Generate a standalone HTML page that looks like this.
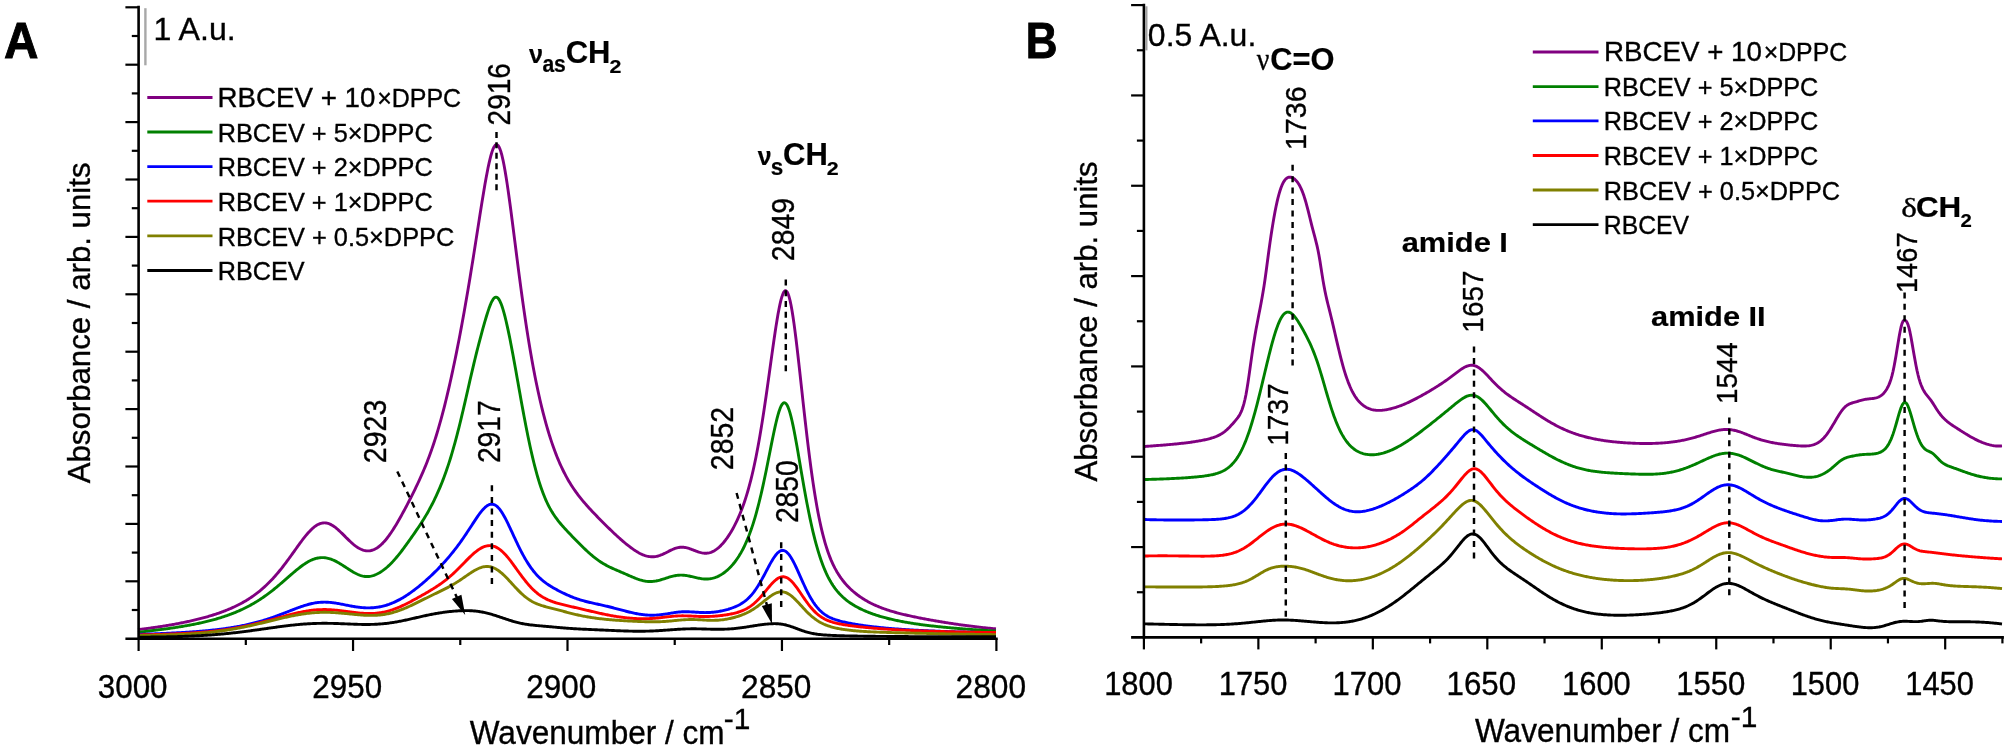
<!DOCTYPE html>
<html><head><meta charset="utf-8"><title>FTIR spectra</title>
<style>html,body{margin:0;padding:0;background:#fff}svg{display:block}text{white-space:pre}</style></head>
<body><svg width="2008" height="750" viewBox="0 0 2008 750">
<defs><filter id="soft" x="0" y="0" width="2008" height="750" filterUnits="userSpaceOnUse"><feGaussianBlur stdDeviation="0.42"/></filter></defs>
<rect width="2008" height="750" fill="#fff"/>
<g filter="url(#soft)">
<polyline points="138.0,629.59 139.0,629.47 140.0,629.35 141.0,629.23 142.0,629.11 143.0,628.99 144.0,628.86 145.0,628.73 146.0,628.61 147.0,628.48 148.0,628.34 149.0,628.21 150.0,628.08 151.0,627.94 152.0,627.80 153.0,627.66 154.0,627.52 155.0,627.38 156.0,627.23 157.0,627.08 158.0,626.94 159.0,626.79 160.0,626.63 161.0,626.48 162.0,626.33 163.0,626.17 164.0,626.01 165.0,625.85 166.0,625.68 167.0,625.52 168.0,625.35 169.0,625.18 170.0,625.01 171.0,624.84 172.0,624.66 173.0,624.49 174.0,624.31 175.0,624.12 176.0,623.94 177.0,623.75 178.0,623.56 179.0,623.37 180.0,623.18 181.0,622.98 182.0,622.78 183.0,622.58 184.0,622.38 185.0,622.17 186.0,621.96 187.0,621.75 188.0,621.53 189.0,621.32 190.0,621.09 191.0,620.87 192.0,620.64 193.0,620.41 194.0,620.18 195.0,619.94 196.0,619.70 197.0,619.46 198.0,619.21 199.0,618.96 200.0,618.70 201.0,618.44 202.0,618.18 203.0,617.91 204.0,617.64 205.0,617.37 206.0,617.09 207.0,616.81 208.0,616.52 209.0,616.22 210.0,615.93 211.0,615.62 212.0,615.32 213.0,615.00 214.0,614.69 215.0,614.36 216.0,614.03 217.0,613.70 218.0,613.36 219.0,613.01 220.0,612.66 221.0,612.30 222.0,611.93 223.0,611.56 224.0,611.18 225.0,610.80 226.0,610.40 227.0,610.00 228.0,609.59 229.0,609.18 230.0,608.75 231.0,608.32 232.0,607.88 233.0,607.43 234.0,606.97 235.0,606.50 236.0,606.02 237.0,605.53 238.0,605.04 239.0,604.53 240.0,604.01 241.0,603.47 242.0,602.93 243.0,602.38 244.0,601.81 245.0,601.23 246.0,600.64 247.0,600.03 248.0,599.41 249.0,598.78 250.0,598.13 251.0,597.47 252.0,596.79 253.0,596.09 254.0,595.38 255.0,594.66 256.0,593.91 257.0,593.15 258.0,592.38 259.0,591.58 260.0,590.77 261.0,589.94 262.0,589.08 263.0,588.21 264.0,587.33 265.0,586.42 266.0,585.49 267.0,584.54 268.0,583.57 269.0,582.58 270.0,581.56 271.0,580.53 272.0,579.48 273.0,578.40 274.0,577.31 275.0,576.19 276.0,575.05 277.0,573.89 278.0,572.71 279.0,571.51 280.0,570.29 281.0,569.05 282.0,567.79 283.0,566.51 284.0,565.22 285.0,563.90 286.0,562.57 287.0,561.23 288.0,559.88 289.0,558.51 290.0,557.13 291.0,555.74 292.0,554.34 293.0,552.94 294.0,551.54 295.0,550.13 296.0,548.73 297.0,547.33 298.0,545.94 299.0,544.56 300.0,543.19 301.0,541.83 302.0,540.50 303.0,539.18 304.0,537.89 305.0,536.64 306.0,535.41 307.0,534.22 308.0,533.07 309.0,531.96 310.0,530.90 311.0,529.89 312.0,528.94 313.0,528.04 314.0,527.20 315.0,526.43 316.0,525.73 317.0,525.10 318.0,524.55 319.0,524.07 320.0,523.67 321.0,523.35 322.0,523.11 323.0,522.95 324.0,522.88 325.0,522.89 326.0,522.98 327.0,523.15 328.0,523.41 329.0,523.74 330.0,524.15 331.0,524.63 332.0,525.18 333.0,525.79 334.0,526.46 335.0,527.18 336.0,527.96 337.0,528.78 338.0,529.65 339.0,530.55 340.0,531.48 341.0,532.43 342.0,533.41 343.0,534.40 344.0,535.40 345.0,536.40 346.0,537.41 347.0,538.40 348.0,539.39 349.0,540.36 350.0,541.31 351.0,542.23 352.0,543.12 353.0,543.98 354.0,544.81 355.0,545.59 356.0,546.33 357.0,547.02 358.0,547.66 359.0,548.26 360.0,548.79 361.0,549.27 362.0,549.69 363.0,550.05 364.0,550.35 365.0,550.58 366.0,550.75 367.0,550.84 368.0,550.87 369.0,550.83 370.0,550.72 371.0,550.53 372.0,550.28 373.0,549.95 374.0,549.55 375.0,549.08 376.0,548.54 377.0,547.93 378.0,547.25 379.0,546.50 380.0,545.69 381.0,544.81 382.0,543.87 383.0,542.86 384.0,541.80 385.0,540.67 386.0,539.49 387.0,538.25 388.0,536.95 389.0,535.60 390.0,534.20 391.0,532.75 392.0,531.26 393.0,529.72 394.0,528.15 395.0,526.53 396.0,524.88 397.0,523.20 398.0,521.49 399.0,519.75 400.0,517.98 401.0,516.19 402.0,514.38 403.0,512.55 404.0,510.71 405.0,508.84 406.0,506.96 407.0,505.06 408.0,503.14 409.0,501.21 410.0,499.27 411.0,497.30 412.0,495.32 413.0,493.33 414.0,491.31 415.0,489.27 416.0,487.21 417.0,485.12 418.0,483.00 419.0,480.85 420.0,478.67 421.0,476.45 422.0,474.19 423.0,471.88 424.0,469.53 425.0,467.13 426.0,464.68 427.0,462.16 428.0,459.59 429.0,456.95 430.0,454.25 431.0,451.48 432.0,448.63 433.0,445.71 434.0,442.70 435.0,439.62 436.0,436.46 437.0,433.21 438.0,429.88 439.0,426.45 440.0,422.94 441.0,419.35 442.0,415.66 443.0,411.88 444.0,408.02 445.0,404.06 446.0,400.02 447.0,395.88 448.0,391.66 449.0,387.36 450.0,382.96 451.0,378.49 452.0,373.92 453.0,369.28 454.0,364.55 455.0,359.73 456.0,354.84 457.0,349.86 458.0,344.80 459.0,339.66 460.0,334.44 461.0,329.13 462.0,323.74 463.0,318.27 464.0,312.72 465.0,307.08 466.0,301.36 467.0,295.56 468.0,289.68 469.0,283.71 470.0,277.68 471.0,271.57 472.0,265.39 473.0,259.15 474.0,252.86 475.0,246.52 476.0,240.15 477.0,233.75 478.0,227.35 479.0,220.96 480.0,214.60 481.0,208.29 482.0,202.06 483.0,195.93 484.0,189.94 485.0,184.12 486.0,178.51 487.0,173.15 488.0,168.09 489.0,163.38 490.0,159.07 491.0,155.22 492.0,151.88 493.0,149.10 494.0,146.95 495.0,145.46 496.0,144.68 497.0,144.65 498.0,145.37 499.0,146.85 500.0,149.09 501.0,152.06 502.0,155.74 503.0,160.08 504.0,165.02 505.0,170.50 506.0,176.48 507.0,182.88 508.0,189.65 509.0,196.72 510.0,204.04 511.0,211.56 512.0,219.23 513.0,227.00 514.0,234.83 515.0,242.69 516.0,250.55 517.0,258.37 518.0,266.14 519.0,273.82 520.0,281.40 521.0,288.86 522.0,296.19 523.0,303.38 524.0,310.41 525.0,317.28 526.0,323.98 527.0,330.51 528.0,336.86 529.0,343.04 530.0,349.05 531.0,354.87 532.0,360.53 533.0,366.02 534.0,371.33 535.0,376.49 536.0,381.49 537.0,386.32 538.0,391.01 539.0,395.56 540.0,399.95 541.0,404.22 542.0,408.34 543.0,412.34 544.0,416.21 545.0,419.97 546.0,423.60 547.0,427.12 548.0,430.52 549.0,433.82 550.0,437.02 551.0,440.11 552.0,443.10 553.0,446.00 554.0,448.80 555.0,451.51 556.0,454.14 557.0,456.68 558.0,459.13 559.0,461.51 560.0,463.80 561.0,466.02 562.0,468.17 563.0,470.25 564.0,472.26 565.0,474.21 566.0,476.09 567.0,477.92 568.0,479.69 569.0,481.40 570.0,483.06 571.0,484.67 572.0,486.24 573.0,487.76 574.0,489.24 575.0,490.68 576.0,492.08 577.0,493.45 578.0,494.78 579.0,496.09 580.0,497.36 581.0,498.62 582.0,499.84 583.0,501.05 584.0,502.23 585.0,503.40 586.0,504.55 587.0,505.68 588.0,506.80 589.0,507.90 590.0,508.99 591.0,510.07 592.0,511.15 593.0,512.21 594.0,513.26 595.0,514.31 596.0,515.35 597.0,516.38 598.0,517.41 599.0,518.43 600.0,519.45 601.0,520.46 602.0,521.47 603.0,522.47 604.0,523.47 605.0,524.47 606.0,525.45 607.0,526.44 608.0,527.42 609.0,528.39 610.0,529.36 611.0,530.32 612.0,531.28 613.0,532.23 614.0,533.18 615.0,534.11 616.0,535.04 617.0,535.96 618.0,536.88 619.0,537.78 620.0,538.68 621.0,539.56 622.0,540.44 623.0,541.30 624.0,542.15 625.0,542.99 626.0,543.81 627.0,544.63 628.0,545.42 629.0,546.20 630.0,546.97 631.0,547.71 632.0,548.44 633.0,549.15 634.0,549.84 635.0,550.50 636.0,551.14 637.0,551.76 638.0,552.35 639.0,552.91 640.0,553.44 641.0,553.93 642.0,554.40 643.0,554.83 644.0,555.22 645.0,555.57 646.0,555.88 647.0,556.15 648.0,556.37 649.0,556.55 650.0,556.68 651.0,556.77 652.0,556.80 653.0,556.79 654.0,556.72 655.0,556.61 656.0,556.45 657.0,556.24 658.0,555.99 659.0,555.69 660.0,555.36 661.0,554.98 662.0,554.58 663.0,554.14 664.0,553.67 665.0,553.19 666.0,552.69 667.0,552.18 668.0,551.67 669.0,551.16 670.0,550.66 671.0,550.17 672.0,549.71 673.0,549.26 674.0,548.86 675.0,548.48 676.0,548.15 677.0,547.87 678.0,547.63 679.0,547.44 680.0,547.31 681.0,547.23 682.0,547.21 683.0,547.24 684.0,547.32 685.0,547.46 686.0,547.64 687.0,547.87 688.0,548.14 689.0,548.45 690.0,548.78 691.0,549.14 692.0,549.52 693.0,549.91 694.0,550.31 695.0,550.70 696.0,551.09 697.0,551.46 698.0,551.81 699.0,552.14 700.0,552.43 701.0,552.69 702.0,552.90 703.0,553.07 704.0,553.18 705.0,553.24 706.0,553.24 707.0,553.18 708.0,553.05 709.0,552.86 710.0,552.61 711.0,552.29 712.0,551.90 713.0,551.44 714.0,550.91 715.0,550.32 716.0,549.66 717.0,548.93 718.0,548.14 719.0,547.28 720.0,546.35 721.0,545.36 722.0,544.30 723.0,543.19 724.0,542.01 725.0,540.76 726.0,539.45 727.0,538.08 728.0,536.64 729.0,535.14 730.0,533.58 731.0,531.94 732.0,530.24 733.0,528.46 734.0,526.61 735.0,524.69 736.0,522.68 737.0,520.59 738.0,518.41 739.0,516.14 740.0,513.77 741.0,511.30 742.0,508.71 743.0,506.01 744.0,503.19 745.0,500.24 746.0,497.14 747.0,493.90 748.0,490.51 749.0,486.96 750.0,483.23 751.0,479.33 752.0,475.24 753.0,470.97 754.0,466.49 755.0,461.81 756.0,456.92 757.0,451.81 758.0,446.50 759.0,440.97 760.0,435.23 761.0,429.28 762.0,423.13 763.0,416.78 764.0,410.25 765.0,403.56 766.0,396.71 767.0,389.73 768.0,382.65 769.0,375.48 770.0,368.27 771.0,361.05 772.0,353.86 773.0,346.74 774.0,339.76 775.0,332.96 776.0,326.40 777.0,320.17 778.0,314.32 779.0,308.94 780.0,304.10 781.0,299.89 782.0,296.39 783.0,293.66 784.0,291.78 785.0,290.81 786.0,290.78 787.0,291.71 788.0,293.62 789.0,296.50 790.0,300.30 791.0,304.98 792.0,310.48 793.0,316.71 794.0,323.61 795.0,331.08 796.0,339.02 797.0,347.36 798.0,356.01 799.0,364.89 800.0,373.93 801.0,383.04 802.0,392.18 803.0,401.29 804.0,410.32 805.0,419.22 806.0,427.95 807.0,436.49 808.0,444.81 809.0,452.88 810.0,460.68 811.0,468.20 812.0,475.43 813.0,482.35 814.0,488.98 815.0,495.29 816.0,501.30 817.0,507.00 818.0,512.40 819.0,517.51 820.0,522.33 821.0,526.88 822.0,531.16 823.0,535.20 824.0,538.99 825.0,542.55 826.0,545.90 827.0,549.04 828.0,551.99 829.0,554.77 830.0,557.38 831.0,559.84 832.0,562.15 833.0,564.33 834.0,566.39 835.0,568.34 836.0,570.18 837.0,571.93 838.0,573.58 839.0,575.16 840.0,576.66 841.0,578.09 842.0,579.45 843.0,580.76 844.0,582.00 845.0,583.20 846.0,584.35 847.0,585.45 848.0,586.51 849.0,587.53 850.0,588.52 851.0,589.46 852.0,590.38 853.0,591.27 854.0,592.12 855.0,592.95 856.0,593.75 857.0,594.52 858.0,595.28 859.0,596.00 860.0,596.71 861.0,597.40 862.0,598.06 863.0,598.70 864.0,599.33 865.0,599.94 866.0,600.53 867.0,601.10 868.0,601.66 869.0,602.20 870.0,602.72 871.0,603.24 872.0,603.73 873.0,604.22 874.0,604.69 875.0,605.15 876.0,605.59 877.0,606.02 878.0,606.45 879.0,606.86 880.0,607.26 881.0,607.65 882.0,608.03 883.0,608.40 884.0,608.76 885.0,609.12 886.0,609.46 887.0,609.80 888.0,610.13 889.0,610.45 890.0,610.76 891.0,611.07 892.0,611.37 893.0,611.66 894.0,611.95 895.0,612.23 896.0,612.51 897.0,612.78 898.0,613.05 899.0,613.31 900.0,613.56 901.0,613.82 902.0,614.06 903.0,614.31 904.0,614.55 905.0,614.78 906.0,615.02 907.0,615.25 908.0,615.48 909.0,615.70 910.0,615.92 911.0,616.14 912.0,616.36 913.0,616.57 914.0,616.78 915.0,616.99 916.0,617.20 917.0,617.41 918.0,617.61 919.0,617.81 920.0,618.01 921.0,618.21 922.0,618.40 923.0,618.60 924.0,618.79 925.0,618.98 926.0,619.17 927.0,619.35 928.0,619.54 929.0,619.72 930.0,619.90 931.0,620.08 932.0,620.26 933.0,620.44 934.0,620.61 935.0,620.79 936.0,620.96 937.0,621.13 938.0,621.30 939.0,621.47 940.0,621.64 941.0,621.80 942.0,621.97 943.0,622.13 944.0,622.29 945.0,622.45 946.0,622.61 947.0,622.77 948.0,622.92 949.0,623.08 950.0,623.23 951.0,623.38 952.0,623.53 953.0,623.68 954.0,623.83 955.0,623.98 956.0,624.13 957.0,624.27 958.0,624.41 959.0,624.56 960.0,624.70 961.0,624.84 962.0,624.97 963.0,625.11 964.0,625.25 965.0,625.38 966.0,625.51 967.0,625.64 968.0,625.78 969.0,625.90 970.0,626.03 971.0,626.16 972.0,626.28 973.0,626.41 974.0,626.53 975.0,626.65 976.0,626.77 977.0,626.89 978.0,627.00 979.0,627.12 980.0,627.23 981.0,627.35 982.0,627.46 983.0,627.57 984.0,627.67 985.0,627.78 986.0,627.88 987.0,627.99 988.0,628.09 989.0,628.19 990.0,628.29 991.0,628.38 992.0,628.48 993.0,628.57 994.0,628.66 995.0,628.75 996.0,628.84" fill="none" stroke="#800080" stroke-width="2.9" stroke-linejoin="round" stroke-linecap="butt"/>
<polyline points="138.0,632.26 139.0,632.15 140.0,632.04 141.0,631.93 142.0,631.82 143.0,631.71 144.0,631.59 145.0,631.48 146.0,631.36 147.0,631.25 148.0,631.13 149.0,631.02 150.0,630.90 151.0,630.78 152.0,630.66 153.0,630.54 154.0,630.42 155.0,630.29 156.0,630.17 157.0,630.04 158.0,629.92 159.0,629.79 160.0,629.66 161.0,629.53 162.0,629.40 163.0,629.27 164.0,629.13 165.0,629.00 166.0,628.86 167.0,628.72 168.0,628.58 169.0,628.44 170.0,628.30 171.0,628.16 172.0,628.01 173.0,627.86 174.0,627.71 175.0,627.56 176.0,627.41 177.0,627.25 178.0,627.10 179.0,626.94 180.0,626.78 181.0,626.61 182.0,626.45 183.0,626.28 184.0,626.11 185.0,625.94 186.0,625.76 187.0,625.59 188.0,625.41 189.0,625.23 190.0,625.04 191.0,624.85 192.0,624.66 193.0,624.47 194.0,624.27 195.0,624.07 196.0,623.87 197.0,623.67 198.0,623.46 199.0,623.24 200.0,623.03 201.0,622.81 202.0,622.59 203.0,622.36 204.0,622.13 205.0,621.90 206.0,621.66 207.0,621.42 208.0,621.17 209.0,620.92 210.0,620.67 211.0,620.41 212.0,620.14 213.0,619.87 214.0,619.60 215.0,619.32 216.0,619.04 217.0,618.75 218.0,618.46 219.0,618.16 220.0,617.85 221.0,617.54 222.0,617.23 223.0,616.90 224.0,616.58 225.0,616.24 226.0,615.90 227.0,615.55 228.0,615.20 229.0,614.84 230.0,614.47 231.0,614.10 232.0,613.72 233.0,613.33 234.0,612.93 235.0,612.53 236.0,612.12 237.0,611.70 238.0,611.27 239.0,610.83 240.0,610.39 241.0,609.93 242.0,609.47 243.0,609.00 244.0,608.52 245.0,608.03 246.0,607.53 247.0,607.02 248.0,606.50 249.0,605.97 250.0,605.43 251.0,604.88 252.0,604.32 253.0,603.75 254.0,603.17 255.0,602.58 256.0,601.98 257.0,601.37 258.0,600.74 259.0,600.11 260.0,599.46 261.0,598.80 262.0,598.13 263.0,597.45 264.0,596.76 265.0,596.06 266.0,595.35 267.0,594.62 268.0,593.88 269.0,593.14 270.0,592.38 271.0,591.61 272.0,590.83 273.0,590.04 274.0,589.25 275.0,588.44 276.0,587.62 277.0,586.80 278.0,585.96 279.0,585.12 280.0,584.27 281.0,583.42 282.0,582.56 283.0,581.70 284.0,580.83 285.0,579.95 286.0,579.08 287.0,578.20 288.0,577.33 289.0,576.45 290.0,575.58 291.0,574.71 292.0,573.84 293.0,572.98 294.0,572.13 295.0,571.28 296.0,570.45 297.0,569.63 298.0,568.82 299.0,568.03 300.0,567.25 301.0,566.49 302.0,565.76 303.0,565.04 304.0,564.35 305.0,563.68 306.0,563.04 307.0,562.43 308.0,561.85 309.0,561.30 310.0,560.78 311.0,560.30 312.0,559.85 313.0,559.44 314.0,559.07 315.0,558.74 316.0,558.45 317.0,558.21 318.0,558.00 319.0,557.84 320.0,557.72 321.0,557.64 322.0,557.61 323.0,557.62 324.0,557.67 325.0,557.77 326.0,557.90 327.0,558.08 328.0,558.31 329.0,558.57 330.0,558.86 331.0,559.20 332.0,559.57 333.0,559.98 334.0,560.42 335.0,560.89 336.0,561.39 337.0,561.91 338.0,562.46 339.0,563.04 340.0,563.63 341.0,564.25 342.0,564.88 343.0,565.52 344.0,566.17 345.0,566.83 346.0,567.49 347.0,568.15 348.0,568.80 349.0,569.45 350.0,570.09 351.0,570.72 352.0,571.33 353.0,571.92 354.0,572.49 355.0,573.03 356.0,573.54 357.0,574.02 358.0,574.47 359.0,574.89 360.0,575.26 361.0,575.59 362.0,575.88 363.0,576.11 364.0,576.30 365.0,576.44 366.0,576.52 367.0,576.55 368.0,576.53 369.0,576.45 370.0,576.32 371.0,576.14 372.0,575.91 373.0,575.64 374.0,575.31 375.0,574.94 376.0,574.52 377.0,574.05 378.0,573.55 379.0,573.00 380.0,572.41 381.0,571.79 382.0,571.13 383.0,570.43 384.0,569.69 385.0,568.91 386.0,568.09 387.0,567.24 388.0,566.35 389.0,565.43 390.0,564.46 391.0,563.47 392.0,562.44 393.0,561.37 394.0,560.27 395.0,559.15 396.0,557.99 397.0,556.80 398.0,555.59 399.0,554.35 400.0,553.09 401.0,551.80 402.0,550.50 403.0,549.18 404.0,547.83 405.0,546.48 406.0,545.11 407.0,543.72 408.0,542.33 409.0,540.93 410.0,539.52 411.0,538.10 412.0,536.68 413.0,535.25 414.0,533.81 415.0,532.36 416.0,530.91 417.0,529.44 418.0,527.96 419.0,526.46 420.0,524.95 421.0,523.42 422.0,521.86 423.0,520.29 424.0,518.68 425.0,517.05 426.0,515.38 427.0,513.67 428.0,511.92 429.0,510.13 430.0,508.30 431.0,506.43 432.0,504.51 433.0,502.54 434.0,500.53 435.0,498.47 436.0,496.35 437.0,494.18 438.0,491.96 439.0,489.67 440.0,487.32 441.0,484.90 442.0,482.42 443.0,479.86 444.0,477.23 445.0,474.52 446.0,471.72 447.0,468.85 448.0,465.88 449.0,462.83 450.0,459.69 451.0,456.45 452.0,453.13 453.0,449.70 454.0,446.19 455.0,442.58 456.0,438.88 457.0,435.10 458.0,431.22 459.0,427.27 460.0,423.23 461.0,419.12 462.0,414.95 463.0,410.71 464.0,406.42 465.0,402.09 466.0,397.73 467.0,393.35 468.0,388.95 469.0,384.56 470.0,380.19 471.0,375.85 472.0,371.56 473.0,367.33 474.0,363.15 475.0,359.03 476.0,354.97 477.0,350.96 478.0,347.01 479.0,343.12 480.0,339.29 481.0,335.52 482.0,331.82 483.0,328.20 484.0,324.64 485.0,321.17 486.0,317.78 487.0,314.48 488.0,311.32 489.0,308.36 490.0,305.64 491.0,303.22 492.0,301.14 493.0,299.45 494.0,298.19 495.0,297.40 496.0,297.12 497.0,297.38 498.0,298.18 499.0,299.50 500.0,301.31 501.0,303.59 502.0,306.30 503.0,309.41 504.0,312.88 505.0,316.67 506.0,320.75 507.0,325.07 508.0,329.63 509.0,334.38 510.0,339.32 511.0,344.42 512.0,349.65 513.0,355.01 514.0,360.46 515.0,365.98 516.0,371.57 517.0,377.18 518.0,382.82 519.0,388.45 520.0,394.06 521.0,399.64 522.0,405.16 523.0,410.62 524.0,416.00 525.0,421.29 526.0,426.47 527.0,431.54 528.0,436.49 529.0,441.31 530.0,446.00 531.0,450.53 532.0,454.92 533.0,459.16 534.0,463.25 535.0,467.17 536.0,470.94 537.0,474.55 538.0,478.01 539.0,481.30 540.0,484.45 541.0,487.44 542.0,490.29 543.0,493.00 544.0,495.57 545.0,498.00 546.0,500.31 547.0,502.50 548.0,504.57 549.0,506.54 550.0,508.41 551.0,510.18 552.0,511.87 553.0,513.47 554.0,515.00 555.0,516.47 556.0,517.88 557.0,519.23 558.0,520.53 559.0,521.79 560.0,523.01 561.0,524.20 562.0,525.36 563.0,526.50 564.0,527.62 565.0,528.72 566.0,529.80 567.0,530.88 568.0,531.94 569.0,533.00 570.0,534.04 571.0,535.09 572.0,536.13 573.0,537.16 574.0,538.19 575.0,539.22 576.0,540.24 577.0,541.26 578.0,542.27 579.0,543.28 580.0,544.29 581.0,545.28 582.0,546.27 583.0,547.25 584.0,548.21 585.0,549.17 586.0,550.12 587.0,551.05 588.0,551.96 589.0,552.87 590.0,553.75 591.0,554.62 592.0,555.47 593.0,556.29 594.0,557.10 595.0,557.89 596.0,558.66 597.0,559.40 598.0,560.13 599.0,560.83 600.0,561.51 601.0,562.17 602.0,562.80 603.0,563.42 604.0,564.01 605.0,564.58 606.0,565.14 607.0,565.68 608.0,566.20 609.0,566.70 610.0,567.19 611.0,567.67 612.0,568.13 613.0,568.59 614.0,569.03 615.0,569.48 616.0,569.91 617.0,570.34 618.0,570.77 619.0,571.20 620.0,571.63 621.0,572.06 622.0,572.49 623.0,572.92 624.0,573.35 625.0,573.79 626.0,574.23 627.0,574.67 628.0,575.11 629.0,575.55 630.0,575.99 631.0,576.43 632.0,576.86 633.0,577.28 634.0,577.70 635.0,578.11 636.0,578.50 637.0,578.88 638.0,579.24 639.0,579.58 640.0,579.90 641.0,580.19 642.0,580.46 643.0,580.71 644.0,580.92 645.0,581.11 646.0,581.26 647.0,581.38 648.0,581.46 649.0,581.52 650.0,581.54 651.0,581.52 652.0,581.48 653.0,581.40 654.0,581.28 655.0,581.14 656.0,580.97 657.0,580.77 658.0,580.55 659.0,580.30 660.0,580.04 661.0,579.76 662.0,579.46 663.0,579.15 664.0,578.83 665.0,578.51 666.0,578.18 667.0,577.86 668.0,577.54 669.0,577.23 670.0,576.93 671.0,576.65 672.0,576.38 673.0,576.14 674.0,575.92 675.0,575.72 676.0,575.55 677.0,575.41 678.0,575.30 679.0,575.22 680.0,575.17 681.0,575.16 682.0,575.17 683.0,575.22 684.0,575.30 685.0,575.40 686.0,575.53 687.0,575.68 688.0,575.85 689.0,576.04 690.0,576.25 691.0,576.47 692.0,576.69 693.0,576.93 694.0,577.16 695.0,577.40 696.0,577.63 697.0,577.85 698.0,578.06 699.0,578.26 700.0,578.44 701.0,578.60 702.0,578.74 703.0,578.85 704.0,578.93 705.0,578.99 706.0,579.02 707.0,579.01 708.0,578.96 709.0,578.88 710.0,578.76 711.0,578.61 712.0,578.41 713.0,578.17 714.0,577.89 715.0,577.57 716.0,577.21 717.0,576.80 718.0,576.36 719.0,575.87 720.0,575.33 721.0,574.76 722.0,574.14 723.0,573.47 724.0,572.76 725.0,572.01 726.0,571.21 727.0,570.36 728.0,569.46 729.0,568.52 730.0,567.53 731.0,566.48 732.0,565.38 733.0,564.23 734.0,563.02 735.0,561.74 736.0,560.41 737.0,559.00 738.0,557.53 739.0,555.98 740.0,554.35 741.0,552.65 742.0,550.85 743.0,548.97 744.0,546.99 745.0,544.91 746.0,542.72 747.0,540.43 748.0,538.02 749.0,535.49 750.0,532.84 751.0,530.05 752.0,527.14 753.0,524.09 754.0,520.89 755.0,517.56 756.0,514.08 757.0,510.45 758.0,506.68 759.0,502.75 760.0,498.68 761.0,494.47 762.0,490.11 763.0,485.63 764.0,481.01 765.0,476.28 766.0,471.45 767.0,466.53 768.0,461.54 769.0,456.50 770.0,451.44 771.0,446.39 772.0,441.39 773.0,436.47 774.0,431.69 775.0,427.08 776.0,422.71 777.0,418.62 778.0,414.88 779.0,411.54 780.0,408.66 781.0,406.30 782.0,404.50 783.0,403.31 784.0,402.74 785.0,402.83 786.0,403.57 787.0,404.97 788.0,407.01 789.0,409.65 790.0,412.86 791.0,416.58 792.0,420.77 793.0,425.36 794.0,430.30 795.0,435.53 796.0,440.98 797.0,446.61 798.0,452.36 799.0,458.19 800.0,464.05 801.0,469.91 802.0,475.73 803.0,481.49 804.0,487.16 805.0,492.72 806.0,498.15 807.0,503.44 808.0,508.59 809.0,513.57 810.0,518.39 811.0,523.03 812.0,527.50 813.0,531.80 814.0,535.92 815.0,539.86 816.0,543.63 817.0,547.23 818.0,550.67 819.0,553.94 820.0,557.05 821.0,560.00 822.0,562.81 823.0,565.47 824.0,567.99 825.0,570.38 826.0,572.65 827.0,574.79 828.0,576.82 829.0,578.74 830.0,580.56 831.0,582.28 832.0,583.91 833.0,585.46 834.0,586.92 835.0,588.31 836.0,589.62 837.0,590.87 838.0,592.06 839.0,593.19 840.0,594.27 841.0,595.30 842.0,596.28 843.0,597.22 844.0,598.11 845.0,598.97 846.0,599.79 847.0,600.58 848.0,601.34 849.0,602.06 850.0,602.77 851.0,603.44 852.0,604.09 853.0,604.72 854.0,605.33 855.0,605.92 856.0,606.49 857.0,607.04 858.0,607.58 859.0,608.10 860.0,608.60 861.0,609.09 862.0,609.56 863.0,610.03 864.0,610.47 865.0,610.91 866.0,611.34 867.0,611.75 868.0,612.16 869.0,612.55 870.0,612.93 871.0,613.31 872.0,613.67 873.0,614.03 874.0,614.38 875.0,614.72 876.0,615.05 877.0,615.37 878.0,615.69 879.0,616.00 880.0,616.30 881.0,616.59 882.0,616.88 883.0,617.16 884.0,617.44 885.0,617.71 886.0,617.97 887.0,618.23 888.0,618.49 889.0,618.73 890.0,618.98 891.0,619.21 892.0,619.45 893.0,619.67 894.0,619.90 895.0,620.12 896.0,620.33 897.0,620.54 898.0,620.75 899.0,620.95 900.0,621.15 901.0,621.34 902.0,621.54 903.0,621.72 904.0,621.91 905.0,622.09 906.0,622.26 907.0,622.44 908.0,622.61 909.0,622.78 910.0,622.94 911.0,623.10 912.0,623.26 913.0,623.42 914.0,623.57 915.0,623.72 916.0,623.87 917.0,624.02 918.0,624.16 919.0,624.30 920.0,624.44 921.0,624.58 922.0,624.71 923.0,624.85 924.0,624.98 925.0,625.10 926.0,625.23 927.0,625.36 928.0,625.48 929.0,625.60 930.0,625.72 931.0,625.83 932.0,625.95 933.0,626.06 934.0,626.17 935.0,626.28 936.0,626.39 937.0,626.50 938.0,626.61 939.0,626.71 940.0,626.81 941.0,626.91 942.0,627.01 943.0,627.11 944.0,627.21 945.0,627.31 946.0,627.40 947.0,627.50 948.0,627.59 949.0,627.68 950.0,627.77 951.0,627.86 952.0,627.95 953.0,628.03 954.0,628.12 955.0,628.21 956.0,628.29 957.0,628.37 958.0,628.45 959.0,628.54 960.0,628.62 961.0,628.70 962.0,628.77 963.0,628.85 964.0,628.93 965.0,629.01 966.0,629.08 967.0,629.16 968.0,629.23 969.0,629.30 970.0,629.38 971.0,629.45 972.0,629.52 973.0,629.59 974.0,629.66 975.0,629.73 976.0,629.80 977.0,629.87 978.0,629.93 979.0,630.00 980.0,630.07 981.0,630.13 982.0,630.20 983.0,630.27 984.0,630.33 985.0,630.39 986.0,630.46 987.0,630.52 988.0,630.58 989.0,630.65 990.0,630.71 991.0,630.77 992.0,630.83 993.0,630.89 994.0,630.95 995.0,631.01 996.0,631.07" fill="none" stroke="#008000" stroke-width="2.9" stroke-linejoin="round" stroke-linecap="butt"/>
<polyline points="138.0,634.40 139.0,634.36 140.0,634.33 141.0,634.30 142.0,634.27 143.0,634.24 144.0,634.20 145.0,634.17 146.0,634.14 147.0,634.10 148.0,634.07 149.0,634.03 150.0,634.00 151.0,633.96 152.0,633.93 153.0,633.89 154.0,633.85 155.0,633.81 156.0,633.78 157.0,633.74 158.0,633.70 159.0,633.66 160.0,633.62 161.0,633.57 162.0,633.53 163.0,633.49 164.0,633.45 165.0,633.40 166.0,633.36 167.0,633.31 168.0,633.27 169.0,633.22 170.0,633.17 171.0,633.12 172.0,633.07 173.0,633.02 174.0,632.97 175.0,632.92 176.0,632.87 177.0,632.82 178.0,632.76 179.0,632.71 180.0,632.65 181.0,632.59 182.0,632.54 183.0,632.48 184.0,632.42 185.0,632.36 186.0,632.29 187.0,632.23 188.0,632.17 189.0,632.10 190.0,632.03 191.0,631.96 192.0,631.89 193.0,631.82 194.0,631.75 195.0,631.68 196.0,631.60 197.0,631.52 198.0,631.45 199.0,631.37 200.0,631.28 201.0,631.20 202.0,631.12 203.0,631.03 204.0,630.94 205.0,630.85 206.0,630.76 207.0,630.67 208.0,630.57 209.0,630.47 210.0,630.37 211.0,630.27 212.0,630.17 213.0,630.06 214.0,629.95 215.0,629.84 216.0,629.73 217.0,629.61 218.0,629.49 219.0,629.37 220.0,629.25 221.0,629.12 222.0,628.99 223.0,628.86 224.0,628.73 225.0,628.59 226.0,628.45 227.0,628.31 228.0,628.16 229.0,628.01 230.0,627.86 231.0,627.70 232.0,627.54 233.0,627.38 234.0,627.21 235.0,627.04 236.0,626.86 237.0,626.69 238.0,626.50 239.0,626.32 240.0,626.13 241.0,625.94 242.0,625.74 243.0,625.54 244.0,625.33 245.0,625.12 246.0,624.90 247.0,624.69 248.0,624.46 249.0,624.23 250.0,624.00 251.0,623.76 252.0,623.52 253.0,623.27 254.0,623.02 255.0,622.76 256.0,622.50 257.0,622.23 258.0,621.96 259.0,621.69 260.0,621.40 261.0,621.12 262.0,620.82 263.0,620.53 264.0,620.22 265.0,619.92 266.0,619.60 267.0,619.29 268.0,618.96 269.0,618.64 270.0,618.30 271.0,617.97 272.0,617.62 273.0,617.28 274.0,616.92 275.0,616.57 276.0,616.21 277.0,615.84 278.0,615.47 279.0,615.10 280.0,614.73 281.0,614.35 282.0,613.96 283.0,613.58 284.0,613.19 285.0,612.80 286.0,612.41 287.0,612.02 288.0,611.63 289.0,611.23 290.0,610.84 291.0,610.45 292.0,610.05 293.0,609.66 294.0,609.28 295.0,608.89 296.0,608.51 297.0,608.14 298.0,607.76 299.0,607.40 300.0,607.04 301.0,606.69 302.0,606.34 303.0,606.01 304.0,605.68 305.0,605.37 306.0,605.06 307.0,604.77 308.0,604.49 309.0,604.23 310.0,603.97 311.0,603.74 312.0,603.51 313.0,603.31 314.0,603.11 315.0,602.94 316.0,602.78 317.0,602.64 318.0,602.52 319.0,602.42 320.0,602.33 321.0,602.26 322.0,602.21 323.0,602.18 324.0,602.16 325.0,602.16 326.0,602.18 327.0,602.22 328.0,602.27 329.0,602.34 330.0,602.42 331.0,602.51 332.0,602.62 333.0,602.74 334.0,602.88 335.0,603.02 336.0,603.17 337.0,603.34 338.0,603.51 339.0,603.69 340.0,603.87 341.0,604.06 342.0,604.25 343.0,604.45 344.0,604.65 345.0,604.85 346.0,605.05 347.0,605.24 348.0,605.44 349.0,605.64 350.0,605.83 351.0,606.02 352.0,606.20 353.0,606.38 354.0,606.55 355.0,606.71 356.0,606.86 357.0,607.01 358.0,607.15 359.0,607.27 360.0,607.39 361.0,607.50 362.0,607.59 363.0,607.67 364.0,607.74 365.0,607.79 366.0,607.83 367.0,607.86 368.0,607.88 369.0,607.87 370.0,607.86 371.0,607.82 372.0,607.78 373.0,607.71 374.0,607.63 375.0,607.53 376.0,607.42 377.0,607.29 378.0,607.14 379.0,606.97 380.0,606.79 381.0,606.59 382.0,606.37 383.0,606.13 384.0,605.87 385.0,605.60 386.0,605.31 387.0,605.00 388.0,604.67 389.0,604.33 390.0,603.96 391.0,603.58 392.0,603.18 393.0,602.76 394.0,602.33 395.0,601.88 396.0,601.41 397.0,600.92 398.0,600.41 399.0,599.89 400.0,599.36 401.0,598.80 402.0,598.23 403.0,597.64 404.0,597.04 405.0,596.42 406.0,595.79 407.0,595.14 408.0,594.48 409.0,593.80 410.0,593.11 411.0,592.40 412.0,591.68 413.0,590.95 414.0,590.21 415.0,589.45 416.0,588.68 417.0,587.90 418.0,587.10 419.0,586.30 420.0,585.48 421.0,584.65 422.0,583.81 423.0,582.96 424.0,582.10 425.0,581.22 426.0,580.34 427.0,579.45 428.0,578.54 429.0,577.63 430.0,576.70 431.0,575.76 432.0,574.82 433.0,573.86 434.0,572.89 435.0,571.91 436.0,570.92 437.0,569.91 438.0,568.90 439.0,567.87 440.0,566.83 441.0,565.78 442.0,564.71 443.0,563.63 444.0,562.53 445.0,561.42 446.0,560.30 447.0,559.16 448.0,558.00 449.0,556.83 450.0,555.64 451.0,554.44 452.0,553.21 453.0,551.97 454.0,550.71 455.0,549.43 456.0,548.13 457.0,546.81 458.0,545.47 459.0,544.11 460.0,542.73 461.0,541.33 462.0,539.91 463.0,538.48 464.0,537.02 465.0,535.55 466.0,534.07 467.0,532.57 468.0,531.05 469.0,529.53 470.0,528.00 471.0,526.46 472.0,524.92 473.0,523.38 474.0,521.86 475.0,520.34 476.0,518.84 477.0,517.37 478.0,515.93 479.0,514.53 480.0,513.17 481.0,511.87 482.0,510.64 483.0,509.49 484.0,508.42 485.0,507.44 486.0,506.58 487.0,505.83 488.0,505.21 489.0,504.72 490.0,504.37 491.0,504.18 492.0,504.15 493.0,504.27 494.0,504.56 495.0,505.02 496.0,505.64 497.0,506.42 498.0,507.36 499.0,508.46 500.0,509.70 501.0,511.07 502.0,512.58 503.0,514.20 504.0,515.93 505.0,517.76 506.0,519.66 507.0,521.64 508.0,523.68 509.0,525.76 510.0,527.88 511.0,530.03 512.0,532.19 513.0,534.36 514.0,536.52 515.0,538.68 516.0,540.82 517.0,542.93 518.0,545.01 519.0,547.06 520.0,549.07 521.0,551.04 522.0,552.96 523.0,554.83 524.0,556.65 525.0,558.41 526.0,560.12 527.0,561.77 528.0,563.36 529.0,564.90 530.0,566.38 531.0,567.80 532.0,569.17 533.0,570.48 534.0,571.73 535.0,572.93 536.0,574.08 537.0,575.18 538.0,576.23 539.0,577.23 540.0,578.19 541.0,579.10 542.0,579.98 543.0,580.82 544.0,581.62 545.0,582.39 546.0,583.13 547.0,583.85 548.0,584.53 549.0,585.20 550.0,585.84 551.0,586.46 552.0,587.07 553.0,587.66 554.0,588.24 555.0,588.80 556.0,589.35 557.0,589.89 558.0,590.42 559.0,590.94 560.0,591.46 561.0,591.96 562.0,592.46 563.0,592.95 564.0,593.43 565.0,593.90 566.0,594.36 567.0,594.82 568.0,595.26 569.0,595.70 570.0,596.12 571.0,596.54 572.0,596.95 573.0,597.34 574.0,597.73 575.0,598.10 576.0,598.46 577.0,598.81 578.0,599.15 579.0,599.48 580.0,599.80 581.0,600.11 582.0,600.41 583.0,600.70 584.0,600.97 585.0,601.24 586.0,601.51 587.0,601.76 588.0,602.01 589.0,602.25 590.0,602.48 591.0,602.71 592.0,602.94 593.0,603.16 594.0,603.38 595.0,603.60 596.0,603.82 597.0,604.03 598.0,604.25 599.0,604.47 600.0,604.68 601.0,604.90 602.0,605.12 603.0,605.35 604.0,605.58 605.0,605.81 606.0,606.04 607.0,606.28 608.0,606.52 609.0,606.76 610.0,607.01 611.0,607.26 612.0,607.52 613.0,607.77 614.0,608.04 615.0,608.30 616.0,608.56 617.0,608.83 618.0,609.10 619.0,609.37 620.0,609.64 621.0,609.90 622.0,610.17 623.0,610.44 624.0,610.70 625.0,610.97 626.0,611.23 627.0,611.48 628.0,611.74 629.0,611.98 630.0,612.22 631.0,612.46 632.0,612.69 633.0,612.92 634.0,613.13 635.0,613.34 636.0,613.54 637.0,613.73 638.0,613.91 639.0,614.08 640.0,614.25 641.0,614.40 642.0,614.53 643.0,614.66 644.0,614.78 645.0,614.88 646.0,614.97 647.0,615.04 648.0,615.11 649.0,615.16 650.0,615.19 651.0,615.21 652.0,615.22 653.0,615.21 654.0,615.19 655.0,615.16 656.0,615.11 657.0,615.05 658.0,614.97 659.0,614.88 660.0,614.78 661.0,614.67 662.0,614.55 663.0,614.42 664.0,614.28 665.0,614.14 666.0,613.98 667.0,613.82 668.0,613.66 669.0,613.50 670.0,613.33 671.0,613.17 672.0,613.00 673.0,612.84 674.0,612.69 675.0,612.54 676.0,612.40 677.0,612.28 678.0,612.16 679.0,612.05 680.0,611.96 681.0,611.89 682.0,611.82 683.0,611.78 684.0,611.75 685.0,611.73 686.0,611.73 687.0,611.74 688.0,611.76 689.0,611.79 690.0,611.83 691.0,611.88 692.0,611.94 693.0,612.00 694.0,612.07 695.0,612.13 696.0,612.20 697.0,612.26 698.0,612.32 699.0,612.38 700.0,612.43 701.0,612.48 702.0,612.52 703.0,612.55 704.0,612.57 705.0,612.58 706.0,612.57 707.0,612.56 708.0,612.54 709.0,612.50 710.0,612.45 711.0,612.39 712.0,612.31 713.0,612.22 714.0,612.12 715.0,612.01 716.0,611.88 717.0,611.73 718.0,611.58 719.0,611.41 720.0,611.23 721.0,611.03 722.0,610.83 723.0,610.61 724.0,610.37 725.0,610.13 726.0,609.87 727.0,609.59 728.0,609.31 729.0,609.00 730.0,608.69 731.0,608.35 732.0,608.00 733.0,607.64 734.0,607.25 735.0,606.84 736.0,606.41 737.0,605.95 738.0,605.47 739.0,604.96 740.0,604.42 741.0,603.84 742.0,603.22 743.0,602.57 744.0,601.87 745.0,601.12 746.0,600.33 747.0,599.48 748.0,598.58 749.0,597.61 750.0,596.59 751.0,595.50 752.0,594.35 753.0,593.12 754.0,591.83 755.0,590.47 756.0,589.04 757.0,587.55 758.0,585.99 759.0,584.36 760.0,582.68 761.0,580.94 762.0,579.15 763.0,577.32 764.0,575.46 765.0,573.57 766.0,571.67 767.0,569.77 768.0,567.87 769.0,566.00 770.0,564.16 771.0,562.38 772.0,560.66 773.0,559.02 774.0,557.48 775.0,556.05 776.0,554.75 777.0,553.59 778.0,552.59 779.0,551.77 780.0,551.13 781.0,550.69 782.0,550.45 783.0,550.41 784.0,550.60 785.0,550.99 786.0,551.59 787.0,552.40 788.0,553.41 789.0,554.60 790.0,555.97 791.0,557.50 792.0,559.17 793.0,560.97 794.0,562.89 795.0,564.91 796.0,567.00 797.0,569.16 798.0,571.36 799.0,573.60 800.0,575.85 801.0,578.11 802.0,580.35 803.0,582.57 804.0,584.76 805.0,586.91 806.0,589.01 807.0,591.04 808.0,593.01 809.0,594.90 810.0,596.72 811.0,598.46 812.0,600.12 813.0,601.70 814.0,603.19 815.0,604.60 816.0,605.93 817.0,607.17 818.0,608.34 819.0,609.43 820.0,610.45 821.0,611.40 822.0,612.29 823.0,613.11 824.0,613.88 825.0,614.59 826.0,615.25 827.0,615.87 828.0,616.44 829.0,616.97 830.0,617.47 831.0,617.93 832.0,618.36 833.0,618.77 834.0,619.15 835.0,619.51 836.0,619.85 837.0,620.17 838.0,620.47 839.0,620.76 840.0,621.04 841.0,621.30 842.0,621.55 843.0,621.80 844.0,622.03 845.0,622.26 846.0,622.48 847.0,622.69 848.0,622.89 849.0,623.09 850.0,623.29 851.0,623.47 852.0,623.66 853.0,623.84 854.0,624.01 855.0,624.18 856.0,624.35 857.0,624.52 858.0,624.68 859.0,624.83 860.0,624.99 861.0,625.14 862.0,625.28 863.0,625.43 864.0,625.57 865.0,625.71 866.0,625.84 867.0,625.98 868.0,626.11 869.0,626.23 870.0,626.36 871.0,626.48 872.0,626.60 873.0,626.72 874.0,626.84 875.0,626.95 876.0,627.06 877.0,627.17 878.0,627.28 879.0,627.38 880.0,627.49 881.0,627.59 882.0,627.69 883.0,627.79 884.0,627.88 885.0,627.98 886.0,628.07 887.0,628.16 888.0,628.25 889.0,628.34 890.0,628.42 891.0,628.51 892.0,628.59 893.0,628.67 894.0,628.75 895.0,628.83 896.0,628.91 897.0,628.99 898.0,629.06 899.0,629.13 900.0,629.21 901.0,629.28 902.0,629.35 903.0,629.42 904.0,629.48 905.0,629.55 906.0,629.61 907.0,629.68 908.0,629.74 909.0,629.80 910.0,629.86 911.0,629.92 912.0,629.98 913.0,630.04 914.0,630.10 915.0,630.15 916.0,630.21 917.0,630.26 918.0,630.32 919.0,630.37 920.0,630.42 921.0,630.47 922.0,630.52 923.0,630.57 924.0,630.62 925.0,630.67 926.0,630.71 927.0,630.76 928.0,630.81 929.0,630.85 930.0,630.90 931.0,630.94 932.0,630.98 933.0,631.02 934.0,631.06 935.0,631.11 936.0,631.15 937.0,631.19 938.0,631.22 939.0,631.26 940.0,631.30 941.0,631.34 942.0,631.38 943.0,631.41 944.0,631.45 945.0,631.48 946.0,631.52 947.0,631.55 948.0,631.59 949.0,631.62 950.0,631.65 951.0,631.68 952.0,631.72 953.0,631.75 954.0,631.78 955.0,631.81 956.0,631.84 957.0,631.87 958.0,631.90 959.0,631.93 960.0,631.95 961.0,631.98 962.0,632.01 963.0,632.04 964.0,632.06 965.0,632.09 966.0,632.12 967.0,632.14 968.0,632.17 969.0,632.19 970.0,632.22 971.0,632.24 972.0,632.27 973.0,632.29 974.0,632.31 975.0,632.34 976.0,632.36 977.0,632.38 978.0,632.40 979.0,632.43 980.0,632.45 981.0,632.47 982.0,632.49 983.0,632.51 984.0,632.53 985.0,632.55 986.0,632.57 987.0,632.59 988.0,632.61 989.0,632.63 990.0,632.65 991.0,632.67 992.0,632.69 993.0,632.70 994.0,632.72 995.0,632.74 996.0,632.76" fill="none" stroke="#0000ff" stroke-width="2.9" stroke-linejoin="round" stroke-linecap="butt"/>
<polyline points="138.0,634.92 139.0,634.90 140.0,634.88 141.0,634.86 142.0,634.84 143.0,634.82 144.0,634.80 145.0,634.77 146.0,634.75 147.0,634.73 148.0,634.71 149.0,634.68 150.0,634.66 151.0,634.63 152.0,634.61 153.0,634.58 154.0,634.56 155.0,634.53 156.0,634.51 157.0,634.48 158.0,634.45 159.0,634.42 160.0,634.39 161.0,634.36 162.0,634.33 163.0,634.30 164.0,634.27 165.0,634.24 166.0,634.20 167.0,634.17 168.0,634.13 169.0,634.10 170.0,634.06 171.0,634.02 172.0,633.99 173.0,633.95 174.0,633.91 175.0,633.87 176.0,633.82 177.0,633.78 178.0,633.74 179.0,633.69 180.0,633.64 181.0,633.60 182.0,633.55 183.0,633.50 184.0,633.45 185.0,633.39 186.0,633.34 187.0,633.28 188.0,633.23 189.0,633.17 190.0,633.11 191.0,633.05 192.0,632.99 193.0,632.92 194.0,632.85 195.0,632.79 196.0,632.72 197.0,632.64 198.0,632.57 199.0,632.50 200.0,632.42 201.0,632.34 202.0,632.26 203.0,632.17 204.0,632.09 205.0,632.00 206.0,631.91 207.0,631.82 208.0,631.72 209.0,631.63 210.0,631.53 211.0,631.42 212.0,631.32 213.0,631.21 214.0,631.10 215.0,630.99 216.0,630.88 217.0,630.76 218.0,630.64 219.0,630.52 220.0,630.39 221.0,630.26 222.0,630.13 223.0,629.99 224.0,629.86 225.0,629.72 226.0,629.57 227.0,629.42 228.0,629.27 229.0,629.12 230.0,628.96 231.0,628.81 232.0,628.64 233.0,628.48 234.0,628.31 235.0,628.13 236.0,627.96 237.0,627.78 238.0,627.60 239.0,627.41 240.0,627.22 241.0,627.03 242.0,626.83 243.0,626.64 244.0,626.43 245.0,626.23 246.0,626.02 247.0,625.81 248.0,625.59 249.0,625.37 250.0,625.15 251.0,624.93 252.0,624.70 253.0,624.47 254.0,624.24 255.0,624.00 256.0,623.76 257.0,623.52 258.0,623.27 259.0,623.02 260.0,622.77 261.0,622.52 262.0,622.27 263.0,622.01 264.0,621.75 265.0,621.49 266.0,621.22 267.0,620.96 268.0,620.69 269.0,620.42 270.0,620.15 271.0,619.88 272.0,619.61 273.0,619.33 274.0,619.06 275.0,618.78 276.0,618.51 277.0,618.23 278.0,617.95 279.0,617.68 280.0,617.40 281.0,617.12 282.0,616.85 283.0,616.57 284.0,616.30 285.0,616.03 286.0,615.76 287.0,615.49 288.0,615.22 289.0,614.96 290.0,614.70 291.0,614.44 292.0,614.19 293.0,613.94 294.0,613.69 295.0,613.45 296.0,613.21 297.0,612.98 298.0,612.75 299.0,612.53 300.0,612.31 301.0,612.10 302.0,611.90 303.0,611.70 304.0,611.51 305.0,611.33 306.0,611.15 307.0,610.99 308.0,610.83 309.0,610.68 310.0,610.54 311.0,610.40 312.0,610.28 313.0,610.17 314.0,610.06 315.0,609.97 316.0,609.88 317.0,609.81 318.0,609.74 319.0,609.69 320.0,609.64 321.0,609.60 322.0,609.58 323.0,609.56 324.0,609.56 325.0,609.56 326.0,609.57 327.0,609.60 328.0,609.63 329.0,609.67 330.0,609.72 331.0,609.78 332.0,609.84 333.0,609.91 334.0,609.99 335.0,610.08 336.0,610.17 337.0,610.27 338.0,610.38 339.0,610.49 340.0,610.60 341.0,610.72 342.0,610.85 343.0,610.97 344.0,611.10 345.0,611.23 346.0,611.37 347.0,611.50 348.0,611.63 349.0,611.77 350.0,611.90 351.0,612.03 352.0,612.16 353.0,612.29 354.0,612.41 355.0,612.54 356.0,612.65 357.0,612.76 358.0,612.87 359.0,612.97 360.0,613.07 361.0,613.15 362.0,613.23 363.0,613.30 364.0,613.37 365.0,613.42 366.0,613.47 367.0,613.50 368.0,613.52 369.0,613.53 370.0,613.53 371.0,613.52 372.0,613.49 373.0,613.46 374.0,613.40 375.0,613.34 376.0,613.26 377.0,613.17 378.0,613.06 379.0,612.93 380.0,612.79 381.0,612.64 382.0,612.47 383.0,612.28 384.0,612.08 385.0,611.86 386.0,611.63 387.0,611.38 388.0,611.12 389.0,610.84 390.0,610.54 391.0,610.23 392.0,609.91 393.0,609.56 394.0,609.21 395.0,608.84 396.0,608.46 397.0,608.06 398.0,607.65 399.0,607.23 400.0,606.80 401.0,606.35 402.0,605.90 403.0,605.43 404.0,604.96 405.0,604.47 406.0,603.98 407.0,603.48 408.0,602.97 409.0,602.46 410.0,601.94 411.0,601.41 412.0,600.88 413.0,600.34 414.0,599.80 415.0,599.26 416.0,598.71 417.0,598.16 418.0,597.60 419.0,597.04 420.0,596.48 421.0,595.92 422.0,595.35 423.0,594.79 424.0,594.21 425.0,593.64 426.0,593.06 427.0,592.48 428.0,591.89 429.0,591.30 430.0,590.71 431.0,590.11 432.0,589.50 433.0,588.88 434.0,588.26 435.0,587.62 436.0,586.98 437.0,586.33 438.0,585.66 439.0,584.98 440.0,584.29 441.0,583.59 442.0,582.87 443.0,582.13 444.0,581.38 445.0,580.61 446.0,579.82 447.0,579.02 448.0,578.20 449.0,577.36 450.0,576.50 451.0,575.62 452.0,574.73 453.0,573.82 454.0,572.89 455.0,571.94 456.0,570.98 457.0,570.01 458.0,569.02 459.0,568.02 460.0,567.01 461.0,566.00 462.0,564.97 463.0,563.95 464.0,562.92 465.0,561.90 466.0,560.87 467.0,559.86 468.0,558.86 469.0,557.86 470.0,556.89 471.0,555.93 472.0,555.00 473.0,554.09 474.0,553.21 475.0,552.36 476.0,551.55 477.0,550.78 478.0,550.05 479.0,549.36 480.0,548.73 481.0,548.14 482.0,547.61 483.0,547.14 484.0,546.73 485.0,546.38 486.0,546.09 487.0,545.87 488.0,545.72 489.0,545.64 490.0,545.63 491.0,545.70 492.0,545.83 493.0,546.05 494.0,546.34 495.0,546.70 496.0,547.14 497.0,547.65 498.0,548.24 499.0,548.89 500.0,549.62 501.0,550.42 502.0,551.28 503.0,552.21 504.0,553.20 505.0,554.24 506.0,555.34 507.0,556.49 508.0,557.68 509.0,558.92 510.0,560.19 511.0,561.49 512.0,562.82 513.0,564.18 514.0,565.55 515.0,566.93 516.0,568.32 517.0,569.72 518.0,571.11 519.0,572.49 520.0,573.87 521.0,575.23 522.0,576.58 523.0,577.90 524.0,579.20 525.0,580.48 526.0,581.72 527.0,582.93 528.0,584.11 529.0,585.25 530.0,586.36 531.0,587.42 532.0,588.45 533.0,589.44 534.0,590.39 535.0,591.30 536.0,592.17 537.0,593.01 538.0,593.80 539.0,594.56 540.0,595.27 541.0,595.96 542.0,596.60 543.0,597.22 544.0,597.80 545.0,598.35 546.0,598.88 547.0,599.37 548.0,599.84 549.0,600.28 550.0,600.70 551.0,601.10 552.0,601.48 553.0,601.84 554.0,602.18 555.0,602.50 556.0,602.82 557.0,603.12 558.0,603.40 559.0,603.68 560.0,603.95 561.0,604.21 562.0,604.46 563.0,604.71 564.0,604.95 565.0,605.19 566.0,605.43 567.0,605.66 568.0,605.89 569.0,606.12 570.0,606.35 571.0,606.57 572.0,606.80 573.0,607.03 574.0,607.25 575.0,607.48 576.0,607.71 577.0,607.94 578.0,608.17 579.0,608.40 580.0,608.63 581.0,608.87 582.0,609.10 583.0,609.34 584.0,609.57 585.0,609.81 586.0,610.05 587.0,610.29 588.0,610.52 589.0,610.76 590.0,611.00 591.0,611.23 592.0,611.47 593.0,611.70 594.0,611.94 595.0,612.17 596.0,612.40 597.0,612.63 598.0,612.86 599.0,613.08 600.0,613.30 601.0,613.52 602.0,613.74 603.0,613.96 604.0,614.17 605.0,614.38 606.0,614.58 607.0,614.78 608.0,614.98 609.0,615.17 610.0,615.36 611.0,615.55 612.0,615.73 613.0,615.90 614.0,616.08 615.0,616.24 616.0,616.41 617.0,616.56 618.0,616.72 619.0,616.87 620.0,617.01 621.0,617.15 622.0,617.28 623.0,617.41 624.0,617.53 625.0,617.65 626.0,617.76 627.0,617.86 628.0,617.96 629.0,618.06 630.0,618.14 631.0,618.23 632.0,618.30 633.0,618.37 634.0,618.44 635.0,618.49 636.0,618.54 637.0,618.59 638.0,618.63 639.0,618.66 640.0,618.68 641.0,618.70 642.0,618.71 643.0,618.72 644.0,618.71 645.0,618.70 646.0,618.69 647.0,618.66 648.0,618.63 649.0,618.59 650.0,618.55 651.0,618.50 652.0,618.44 653.0,618.37 654.0,618.30 655.0,618.22 656.0,618.13 657.0,618.04 658.0,617.94 659.0,617.84 660.0,617.74 661.0,617.62 662.0,617.51 663.0,617.39 664.0,617.27 665.0,617.15 666.0,617.03 667.0,616.91 668.0,616.79 669.0,616.68 670.0,616.57 671.0,616.46 672.0,616.36 673.0,616.26 674.0,616.17 675.0,616.09 676.0,616.02 677.0,615.96 678.0,615.91 679.0,615.87 680.0,615.84 681.0,615.83 682.0,615.82 683.0,615.82 684.0,615.83 685.0,615.84 686.0,615.87 687.0,615.90 688.0,615.94 689.0,615.98 690.0,616.03 691.0,616.07 692.0,616.12 693.0,616.17 694.0,616.22 695.0,616.27 696.0,616.32 697.0,616.36 698.0,616.40 699.0,616.43 700.0,616.46 701.0,616.49 702.0,616.51 703.0,616.52 704.0,616.53 705.0,616.53 706.0,616.52 707.0,616.50 708.0,616.48 709.0,616.45 710.0,616.42 711.0,616.38 712.0,616.33 713.0,616.27 714.0,616.21 715.0,616.14 716.0,616.06 717.0,615.97 718.0,615.88 719.0,615.78 720.0,615.67 721.0,615.56 722.0,615.44 723.0,615.31 724.0,615.18 725.0,615.03 726.0,614.88 727.0,614.72 728.0,614.55 729.0,614.38 730.0,614.19 731.0,613.99 732.0,613.78 733.0,613.56 734.0,613.33 735.0,613.08 736.0,612.82 737.0,612.54 738.0,612.24 739.0,611.92 740.0,611.58 741.0,611.22 742.0,610.83 743.0,610.42 744.0,609.97 745.0,609.50 746.0,608.99 747.0,608.45 748.0,607.87 749.0,607.25 750.0,606.59 751.0,605.89 752.0,605.15 753.0,604.36 754.0,603.53 755.0,602.65 756.0,601.73 757.0,600.77 758.0,599.76 759.0,598.72 760.0,597.63 761.0,596.52 762.0,595.37 763.0,594.20 764.0,593.00 765.0,591.79 766.0,590.58 767.0,589.36 768.0,588.15 769.0,586.95 770.0,585.78 771.0,584.64 772.0,583.54 773.0,582.49 774.0,581.50 775.0,580.58 776.0,579.74 777.0,578.99 778.0,578.34 779.0,577.79 780.0,577.35 781.0,577.03 782.0,576.83 783.0,576.76 784.0,576.82 785.0,577.01 786.0,577.33 787.0,577.77 788.0,578.34 789.0,579.03 790.0,579.84 791.0,580.75 792.0,581.76 793.0,582.86 794.0,584.04 795.0,585.29 796.0,586.60 797.0,587.97 798.0,589.38 799.0,590.82 800.0,592.28 801.0,593.75 802.0,595.23 803.0,596.70 804.0,598.17 805.0,599.61 806.0,601.03 807.0,602.41 808.0,603.76 809.0,605.07 810.0,606.33 811.0,607.55 812.0,608.71 813.0,609.82 814.0,610.88 815.0,611.89 816.0,612.84 817.0,613.74 818.0,614.58 819.0,615.38 820.0,616.12 821.0,616.82 822.0,617.47 823.0,618.08 824.0,618.65 825.0,619.18 826.0,619.67 827.0,620.13 828.0,620.55 829.0,620.95 830.0,621.32 831.0,621.67 832.0,621.99 833.0,622.30 834.0,622.58 835.0,622.85 836.0,623.10 837.0,623.33 838.0,623.56 839.0,623.77 840.0,623.98 841.0,624.17 842.0,624.35 843.0,624.53 844.0,624.70 845.0,624.87 846.0,625.03 847.0,625.18 848.0,625.33 849.0,625.47 850.0,625.61 851.0,625.75 852.0,625.88 853.0,626.01 854.0,626.14 855.0,626.26 856.0,626.38 857.0,626.50 858.0,626.61 859.0,626.73 860.0,626.84 861.0,626.95 862.0,627.05 863.0,627.16 864.0,627.26 865.0,627.36 866.0,627.46 867.0,627.55 868.0,627.65 869.0,627.74 870.0,627.83 871.0,627.92 872.0,628.01 873.0,628.10 874.0,628.18 875.0,628.26 876.0,628.34 877.0,628.42 878.0,628.50 879.0,628.58 880.0,628.65 881.0,628.73 882.0,628.80 883.0,628.87 884.0,628.94 885.0,629.01 886.0,629.08 887.0,629.15 888.0,629.21 889.0,629.28 890.0,629.34 891.0,629.40 892.0,629.46 893.0,629.52 894.0,629.58 895.0,629.64 896.0,629.70 897.0,629.75 898.0,629.81 899.0,629.86 900.0,629.91 901.0,629.97 902.0,630.02 903.0,630.07 904.0,630.12 905.0,630.17 906.0,630.21 907.0,630.26 908.0,630.31 909.0,630.35 910.0,630.40 911.0,630.44 912.0,630.48 913.0,630.53 914.0,630.57 915.0,630.61 916.0,630.65 917.0,630.69 918.0,630.73 919.0,630.77 920.0,630.81 921.0,630.84 922.0,630.88 923.0,630.92 924.0,630.95 925.0,630.99 926.0,631.02 927.0,631.06 928.0,631.09 929.0,631.13 930.0,631.16 931.0,631.19 932.0,631.22 933.0,631.25 934.0,631.28 935.0,631.31 936.0,631.34 937.0,631.37 938.0,631.40 939.0,631.43 940.0,631.46 941.0,631.49 942.0,631.51 943.0,631.54 944.0,631.57 945.0,631.59 946.0,631.62 947.0,631.64 948.0,631.67 949.0,631.69 950.0,631.72 951.0,631.74 952.0,631.77 953.0,631.79 954.0,631.81 955.0,631.83 956.0,631.86 957.0,631.88 958.0,631.90 959.0,631.92 960.0,631.94 961.0,631.96 962.0,631.98 963.0,632.01 964.0,632.03 965.0,632.04 966.0,632.06 967.0,632.08 968.0,632.10 969.0,632.12 970.0,632.14 971.0,632.16 972.0,632.18 973.0,632.19 974.0,632.21 975.0,632.23 976.0,632.25 977.0,632.26 978.0,632.28 979.0,632.30 980.0,632.31 981.0,632.33 982.0,632.34 983.0,632.36 984.0,632.37 985.0,632.39 986.0,632.40 987.0,632.42 988.0,632.43 989.0,632.45 990.0,632.46 991.0,632.48 992.0,632.49 993.0,632.50 994.0,632.52 995.0,632.53 996.0,632.54" fill="none" stroke="#ff0000" stroke-width="2.9" stroke-linejoin="round" stroke-linecap="butt"/>
<polyline points="138.0,635.60 139.0,635.58 140.0,635.56 141.0,635.55 142.0,635.53 143.0,635.51 144.0,635.50 145.0,635.48 146.0,635.46 147.0,635.44 148.0,635.42 149.0,635.40 150.0,635.38 151.0,635.36 152.0,635.34 153.0,635.32 154.0,635.30 155.0,635.28 156.0,635.25 157.0,635.23 158.0,635.21 159.0,635.18 160.0,635.16 161.0,635.13 162.0,635.10 163.0,635.07 164.0,635.04 165.0,635.02 166.0,634.98 167.0,634.95 168.0,634.92 169.0,634.89 170.0,634.85 171.0,634.82 172.0,634.78 173.0,634.75 174.0,634.71 175.0,634.67 176.0,634.63 177.0,634.59 178.0,634.54 179.0,634.50 180.0,634.45 181.0,634.41 182.0,634.36 183.0,634.31 184.0,634.26 185.0,634.20 186.0,634.15 187.0,634.09 188.0,634.04 189.0,633.98 190.0,633.92 191.0,633.85 192.0,633.79 193.0,633.72 194.0,633.65 195.0,633.58 196.0,633.51 197.0,633.44 198.0,633.36 199.0,633.28 200.0,633.20 201.0,633.12 202.0,633.03 203.0,632.95 204.0,632.86 205.0,632.76 206.0,632.67 207.0,632.57 208.0,632.47 209.0,632.37 210.0,632.27 211.0,632.16 212.0,632.05 213.0,631.94 214.0,631.82 215.0,631.71 216.0,631.58 217.0,631.46 218.0,631.34 219.0,631.21 220.0,631.07 221.0,630.94 222.0,630.80 223.0,630.66 224.0,630.52 225.0,630.37 226.0,630.22 227.0,630.07 228.0,629.91 229.0,629.75 230.0,629.59 231.0,629.43 232.0,629.26 233.0,629.09 234.0,628.92 235.0,628.74 236.0,628.56 237.0,628.38 238.0,628.19 239.0,628.00 240.0,627.81 241.0,627.62 242.0,627.42 243.0,627.22 244.0,627.02 245.0,626.81 246.0,626.61 247.0,626.40 248.0,626.18 249.0,625.97 250.0,625.75 251.0,625.53 252.0,625.31 253.0,625.09 254.0,624.86 255.0,624.63 256.0,624.40 257.0,624.17 258.0,623.94 259.0,623.70 260.0,623.46 261.0,623.23 262.0,622.99 263.0,622.75 264.0,622.51 265.0,622.26 266.0,622.02 267.0,621.78 268.0,621.53 269.0,621.29 270.0,621.04 271.0,620.80 272.0,620.56 273.0,620.31 274.0,620.07 275.0,619.82 276.0,619.58 277.0,619.34 278.0,619.10 279.0,618.86 280.0,618.62 281.0,618.39 282.0,618.15 283.0,617.92 284.0,617.69 285.0,617.46 286.0,617.24 287.0,617.01 288.0,616.79 289.0,616.58 290.0,616.37 291.0,616.16 292.0,615.95 293.0,615.75 294.0,615.55 295.0,615.36 296.0,615.17 297.0,614.98 298.0,614.80 299.0,614.63 300.0,614.46 301.0,614.30 302.0,614.14 303.0,613.98 304.0,613.84 305.0,613.70 306.0,613.56 307.0,613.43 308.0,613.31 309.0,613.20 310.0,613.09 311.0,612.99 312.0,612.89 313.0,612.81 314.0,612.73 315.0,612.65 316.0,612.59 317.0,612.53 318.0,612.47 319.0,612.43 320.0,612.39 321.0,612.36 322.0,612.34 323.0,612.32 324.0,612.31 325.0,612.31 326.0,612.32 327.0,612.33 328.0,612.35 329.0,612.37 330.0,612.40 331.0,612.44 332.0,612.48 333.0,612.53 334.0,612.58 335.0,612.64 336.0,612.71 337.0,612.78 338.0,612.85 339.0,612.93 340.0,613.01 341.0,613.10 342.0,613.18 343.0,613.28 344.0,613.37 345.0,613.47 346.0,613.56 347.0,613.66 348.0,613.76 349.0,613.86 350.0,613.97 351.0,614.07 352.0,614.17 353.0,614.27 354.0,614.37 355.0,614.46 356.0,614.56 357.0,614.65 358.0,614.74 359.0,614.82 360.0,614.90 361.0,614.98 362.0,615.05 363.0,615.12 364.0,615.18 365.0,615.23 366.0,615.27 367.0,615.31 368.0,615.34 369.0,615.37 370.0,615.38 371.0,615.39 372.0,615.38 373.0,615.37 374.0,615.34 375.0,615.31 376.0,615.26 377.0,615.20 378.0,615.13 379.0,615.05 380.0,614.96 381.0,614.85 382.0,614.73 383.0,614.60 384.0,614.45 385.0,614.29 386.0,614.12 387.0,613.93 388.0,613.73 389.0,613.51 390.0,613.28 391.0,613.04 392.0,612.78 393.0,612.51 394.0,612.22 395.0,611.93 396.0,611.61 397.0,611.29 398.0,610.95 399.0,610.60 400.0,610.23 401.0,609.86 402.0,609.47 403.0,609.07 404.0,608.67 405.0,608.25 406.0,607.82 407.0,607.38 408.0,606.94 409.0,606.48 410.0,606.02 411.0,605.56 412.0,605.08 413.0,604.60 414.0,604.12 415.0,603.63 416.0,603.14 417.0,602.65 418.0,602.15 419.0,601.66 420.0,601.16 421.0,600.66 422.0,600.16 423.0,599.66 424.0,599.17 425.0,598.67 426.0,598.18 427.0,597.68 428.0,597.19 429.0,596.70 430.0,596.21 431.0,595.73 432.0,595.24 433.0,594.76 434.0,594.28 435.0,593.80 436.0,593.32 437.0,592.84 438.0,592.36 439.0,591.88 440.0,591.39 441.0,590.91 442.0,590.42 443.0,589.92 444.0,589.42 445.0,588.92 446.0,588.41 447.0,587.89 448.0,587.36 449.0,586.82 450.0,586.27 451.0,585.72 452.0,585.15 453.0,584.57 454.0,583.98 455.0,583.37 456.0,582.76 457.0,582.13 458.0,581.49 459.0,580.85 460.0,580.19 461.0,579.52 462.0,578.85 463.0,578.17 464.0,577.48 465.0,576.79 466.0,576.10 467.0,575.41 468.0,574.72 469.0,574.05 470.0,573.37 471.0,572.72 472.0,572.07 473.0,571.45 474.0,570.84 475.0,570.27 476.0,569.72 477.0,569.20 478.0,568.72 479.0,568.27 480.0,567.87 481.0,567.51 482.0,567.20 483.0,566.94 484.0,566.74 485.0,566.59 486.0,566.50 487.0,566.47 488.0,566.50 489.0,566.60 490.0,566.75 491.0,566.98 492.0,567.26 493.0,567.61 494.0,568.03 495.0,568.51 496.0,569.04 497.0,569.64 498.0,570.30 499.0,571.01 500.0,571.77 501.0,572.59 502.0,573.44 503.0,574.35 504.0,575.28 505.0,576.26 506.0,577.26 507.0,578.29 508.0,579.35 509.0,580.42 510.0,581.50 511.0,582.59 512.0,583.69 513.0,584.78 514.0,585.87 515.0,586.96 516.0,588.03 517.0,589.08 518.0,590.12 519.0,591.13 520.0,592.12 521.0,593.08 522.0,594.01 523.0,594.91 524.0,595.78 525.0,596.61 526.0,597.41 527.0,598.17 528.0,598.89 529.0,599.58 530.0,600.23 531.0,600.84 532.0,601.42 533.0,601.97 534.0,602.48 535.0,602.96 536.0,603.42 537.0,603.84 538.0,604.24 539.0,604.62 540.0,604.98 541.0,605.31 542.0,605.64 543.0,605.94 544.0,606.24 545.0,606.52 546.0,606.80 547.0,607.06 548.0,607.33 549.0,607.59 550.0,607.84 551.0,608.10 552.0,608.35 553.0,608.61 554.0,608.86 555.0,609.12 556.0,609.38 557.0,609.63 558.0,609.90 559.0,610.16 560.0,610.42 561.0,610.69 562.0,610.95 563.0,611.22 564.0,611.49 565.0,611.75 566.0,612.02 567.0,612.28 568.0,612.55 569.0,612.81 570.0,613.06 571.0,613.32 572.0,613.57 573.0,613.82 574.0,614.06 575.0,614.30 576.0,614.54 577.0,614.77 578.0,614.99 579.0,615.21 580.0,615.43 581.0,615.64 582.0,615.84 583.0,616.05 584.0,616.24 585.0,616.43 586.0,616.61 587.0,616.79 588.0,616.97 589.0,617.14 590.0,617.30 591.0,617.46 592.0,617.62 593.0,617.77 594.0,617.91 595.0,618.05 596.0,618.19 597.0,618.32 598.0,618.45 599.0,618.57 600.0,618.69 601.0,618.81 602.0,618.92 603.0,619.03 604.0,619.14 605.0,619.24 606.0,619.34 607.0,619.44 608.0,619.53 609.0,619.62 610.0,619.71 611.0,619.80 612.0,619.88 613.0,619.96 614.0,620.04 615.0,620.12 616.0,620.19 617.0,620.26 618.0,620.33 619.0,620.40 620.0,620.47 621.0,620.54 622.0,620.60 623.0,620.66 624.0,620.72 625.0,620.78 626.0,620.84 627.0,620.90 628.0,620.95 629.0,621.01 630.0,621.06 631.0,621.11 632.0,621.16 633.0,621.21 634.0,621.26 635.0,621.31 636.0,621.35 637.0,621.40 638.0,621.44 639.0,621.48 640.0,621.52 641.0,621.56 642.0,621.59 643.0,621.63 644.0,621.66 645.0,621.69 646.0,621.72 647.0,621.74 648.0,621.76 649.0,621.78 650.0,621.80 651.0,621.81 652.0,621.81 653.0,621.82 654.0,621.82 655.0,621.81 656.0,621.80 657.0,621.78 658.0,621.76 659.0,621.73 660.0,621.70 661.0,621.66 662.0,621.61 663.0,621.56 664.0,621.50 665.0,621.44 666.0,621.37 667.0,621.30 668.0,621.22 669.0,621.14 670.0,621.05 671.0,620.96 672.0,620.86 673.0,620.76 674.0,620.66 675.0,620.56 676.0,620.46 677.0,620.37 678.0,620.27 679.0,620.17 680.0,620.08 681.0,620.00 682.0,619.91 683.0,619.84 684.0,619.77 685.0,619.71 686.0,619.66 687.0,619.61 688.0,619.58 689.0,619.55 690.0,619.53 691.0,619.52 692.0,619.52 693.0,619.53 694.0,619.55 695.0,619.58 696.0,619.61 697.0,619.65 698.0,619.70 699.0,619.75 700.0,619.80 701.0,619.86 702.0,619.92 703.0,619.98 704.0,620.04 705.0,620.09 706.0,620.14 707.0,620.19 708.0,620.24 709.0,620.27 710.0,620.30 711.0,620.33 712.0,620.34 713.0,620.34 714.0,620.33 715.0,620.31 716.0,620.28 717.0,620.24 718.0,620.18 719.0,620.11 720.0,620.03 721.0,619.93 722.0,619.83 723.0,619.71 724.0,619.57 725.0,619.42 726.0,619.26 727.0,619.09 728.0,618.90 729.0,618.70 730.0,618.49 731.0,618.27 732.0,618.03 733.0,617.78 734.0,617.52 735.0,617.24 736.0,616.95 737.0,616.65 738.0,616.33 739.0,616.00 740.0,615.65 741.0,615.29 742.0,614.91 743.0,614.51 744.0,614.10 745.0,613.66 746.0,613.21 747.0,612.73 748.0,612.24 749.0,611.72 750.0,611.17 751.0,610.61 752.0,610.02 753.0,609.40 754.0,608.76 755.0,608.10 756.0,607.41 757.0,606.70 758.0,605.97 759.0,605.21 760.0,604.44 761.0,603.66 762.0,602.86 763.0,602.06 764.0,601.24 765.0,600.43 766.0,599.62 767.0,598.83 768.0,598.04 769.0,597.28 770.0,596.54 771.0,595.83 772.0,595.16 773.0,594.54 774.0,593.97 775.0,593.45 776.0,592.99 777.0,592.61 778.0,592.29 779.0,592.05 780.0,591.89 781.0,591.81 782.0,591.81 783.0,591.90 784.0,592.08 785.0,592.34 786.0,592.69 787.0,593.13 788.0,593.64 789.0,594.24 790.0,594.90 791.0,595.64 792.0,596.44 793.0,597.30 794.0,598.21 795.0,599.17 796.0,600.16 797.0,601.19 798.0,602.25 799.0,603.32 800.0,604.41 801.0,605.51 802.0,606.60 803.0,607.69 804.0,608.77 805.0,609.84 806.0,610.89 807.0,611.91 808.0,612.91 809.0,613.87 810.0,614.81 811.0,615.71 812.0,616.58 813.0,617.41 814.0,618.20 815.0,618.96 816.0,619.68 817.0,620.37 818.0,621.02 819.0,621.63 820.0,622.21 821.0,622.76 822.0,623.28 823.0,623.76 824.0,624.22 825.0,624.65 826.0,625.06 827.0,625.45 828.0,625.81 829.0,626.15 830.0,626.47 831.0,626.77 832.0,627.06 833.0,627.33 834.0,627.58 835.0,627.82 836.0,628.05 837.0,628.27 838.0,628.47 839.0,628.67 840.0,628.85 841.0,629.03 842.0,629.20 843.0,629.36 844.0,629.51 845.0,629.65 846.0,629.79 847.0,629.92 848.0,630.05 849.0,630.17 850.0,630.28 851.0,630.39 852.0,630.50 853.0,630.60 854.0,630.69 855.0,630.79 856.0,630.87 857.0,630.96 858.0,631.04 859.0,631.11 860.0,631.19 861.0,631.26 862.0,631.33 863.0,631.39 864.0,631.45 865.0,631.51 866.0,631.57 867.0,631.63 868.0,631.68 869.0,631.73 870.0,631.78 871.0,631.83 872.0,631.88 873.0,631.92 874.0,631.97 875.0,632.01 876.0,632.05 877.0,632.09 878.0,632.13 879.0,632.17 880.0,632.20 881.0,632.24 882.0,632.27 883.0,632.31 884.0,632.34 885.0,632.38 886.0,632.41 887.0,632.44 888.0,632.47 889.0,632.50 890.0,632.53 891.0,632.56 892.0,632.59 893.0,632.62 894.0,632.65 895.0,632.68 896.0,632.70 897.0,632.73 898.0,632.76 899.0,632.78 900.0,632.81 901.0,632.84 902.0,632.86 903.0,632.89 904.0,632.91 905.0,632.94 906.0,632.96 907.0,632.99 908.0,633.01 909.0,633.04 910.0,633.06 911.0,633.09 912.0,633.11 913.0,633.13 914.0,633.16 915.0,633.18 916.0,633.20 917.0,633.22 918.0,633.25 919.0,633.27 920.0,633.29 921.0,633.31 922.0,633.34 923.0,633.36 924.0,633.38 925.0,633.40 926.0,633.42 927.0,633.45 928.0,633.47 929.0,633.49 930.0,633.51 931.0,633.53 932.0,633.55 933.0,633.57 934.0,633.59 935.0,633.61 936.0,633.63 937.0,633.65 938.0,633.67 939.0,633.69 940.0,633.71 941.0,633.73 942.0,633.75 943.0,633.77 944.0,633.79 945.0,633.81 946.0,633.83 947.0,633.85 948.0,633.86 949.0,633.88 950.0,633.90 951.0,633.92 952.0,633.94 953.0,633.96 954.0,633.97 955.0,633.99 956.0,634.01 957.0,634.03 958.0,634.05 959.0,634.06 960.0,634.08 961.0,634.10 962.0,634.11 963.0,634.13 964.0,634.15 965.0,634.17 966.0,634.18 967.0,634.20 968.0,634.22 969.0,634.23 970.0,634.25 971.0,634.26 972.0,634.28 973.0,634.30 974.0,634.31 975.0,634.33 976.0,634.34 977.0,634.36 978.0,634.38 979.0,634.39 980.0,634.41 981.0,634.42 982.0,634.44 983.0,634.45 984.0,634.47 985.0,634.48 986.0,634.50 987.0,634.51 988.0,634.53 989.0,634.54 990.0,634.55 991.0,634.57 992.0,634.58 993.0,634.60 994.0,634.61 995.0,634.63 996.0,634.64" fill="none" stroke="#808000" stroke-width="2.9" stroke-linejoin="round" stroke-linecap="butt"/>
<polyline points="138.0,637.19 139.0,637.18 140.0,637.17 141.0,637.17 142.0,637.16 143.0,637.15 144.0,637.14 145.0,637.13 146.0,637.12 147.0,637.11 148.0,637.10 149.0,637.09 150.0,637.08 151.0,637.07 152.0,637.06 153.0,637.05 154.0,637.03 155.0,637.02 156.0,637.01 157.0,636.99 158.0,636.98 159.0,636.96 160.0,636.95 161.0,636.93 162.0,636.91 163.0,636.90 164.0,636.88 165.0,636.86 166.0,636.84 167.0,636.82 168.0,636.80 169.0,636.78 170.0,636.76 171.0,636.74 172.0,636.71 173.0,636.69 174.0,636.66 175.0,636.64 176.0,636.61 177.0,636.58 178.0,636.55 179.0,636.52 180.0,636.49 181.0,636.46 182.0,636.43 183.0,636.39 184.0,636.36 185.0,636.32 186.0,636.29 187.0,636.25 188.0,636.21 189.0,636.17 190.0,636.13 191.0,636.08 192.0,636.04 193.0,636.00 194.0,635.95 195.0,635.90 196.0,635.85 197.0,635.80 198.0,635.75 199.0,635.70 200.0,635.64 201.0,635.58 202.0,635.53 203.0,635.47 204.0,635.41 205.0,635.34 206.0,635.28 207.0,635.21 208.0,635.15 209.0,635.08 210.0,635.01 211.0,634.93 212.0,634.86 213.0,634.79 214.0,634.71 215.0,634.63 216.0,634.55 217.0,634.47 218.0,634.38 219.0,634.30 220.0,634.21 221.0,634.12 222.0,634.03 223.0,633.94 224.0,633.84 225.0,633.75 226.0,633.65 227.0,633.55 228.0,633.45 229.0,633.34 230.0,633.24 231.0,633.13 232.0,633.03 233.0,632.92 234.0,632.80 235.0,632.69 236.0,632.58 237.0,632.46 238.0,632.34 239.0,632.22 240.0,632.10 241.0,631.98 242.0,631.86 243.0,631.73 244.0,631.61 245.0,631.48 246.0,631.35 247.0,631.22 248.0,631.09 249.0,630.96 250.0,630.82 251.0,630.69 252.0,630.55 253.0,630.42 254.0,630.28 255.0,630.14 256.0,630.00 257.0,629.86 258.0,629.72 259.0,629.58 260.0,629.44 261.0,629.30 262.0,629.16 263.0,629.02 264.0,628.87 265.0,628.73 266.0,628.59 267.0,628.45 268.0,628.31 269.0,628.16 270.0,628.02 271.0,627.88 272.0,627.74 273.0,627.60 274.0,627.46 275.0,627.32 276.0,627.19 277.0,627.05 278.0,626.91 279.0,626.78 280.0,626.65 281.0,626.51 282.0,626.38 283.0,626.25 284.0,626.13 285.0,626.00 286.0,625.88 287.0,625.76 288.0,625.64 289.0,625.52 290.0,625.40 291.0,625.29 292.0,625.18 293.0,625.07 294.0,624.97 295.0,624.86 296.0,624.76 297.0,624.67 298.0,624.57 299.0,624.48 300.0,624.39 301.0,624.31 302.0,624.22 303.0,624.14 304.0,624.07 305.0,624.00 306.0,623.93 307.0,623.86 308.0,623.80 309.0,623.74 310.0,623.69 311.0,623.64 312.0,623.59 313.0,623.55 314.0,623.51 315.0,623.47 316.0,623.44 317.0,623.41 318.0,623.38 319.0,623.36 320.0,623.34 321.0,623.33 322.0,623.32 323.0,623.31 324.0,623.31 325.0,623.31 326.0,623.31 327.0,623.32 328.0,623.33 329.0,623.34 330.0,623.35 331.0,623.37 332.0,623.39 333.0,623.41 334.0,623.44 335.0,623.47 336.0,623.50 337.0,623.53 338.0,623.56 339.0,623.60 340.0,623.64 341.0,623.68 342.0,623.72 343.0,623.76 344.0,623.80 345.0,623.84 346.0,623.88 347.0,623.92 348.0,623.97 349.0,624.01 350.0,624.05 351.0,624.09 352.0,624.13 353.0,624.17 354.0,624.21 355.0,624.25 356.0,624.28 357.0,624.31 358.0,624.34 359.0,624.37 360.0,624.40 361.0,624.42 362.0,624.44 363.0,624.45 364.0,624.46 365.0,624.47 366.0,624.47 367.0,624.47 368.0,624.47 369.0,624.46 370.0,624.44 371.0,624.42 372.0,624.40 373.0,624.37 374.0,624.33 375.0,624.29 376.0,624.25 377.0,624.19 378.0,624.13 379.0,624.07 380.0,624.00 381.0,623.92 382.0,623.84 383.0,623.75 384.0,623.65 385.0,623.55 386.0,623.44 387.0,623.32 388.0,623.20 389.0,623.07 390.0,622.93 391.0,622.79 392.0,622.65 393.0,622.49 394.0,622.33 395.0,622.17 396.0,622.00 397.0,621.82 398.0,621.64 399.0,621.45 400.0,621.26 401.0,621.06 402.0,620.86 403.0,620.66 404.0,620.45 405.0,620.24 406.0,620.02 407.0,619.80 408.0,619.58 409.0,619.36 410.0,619.13 411.0,618.91 412.0,618.68 413.0,618.45 414.0,618.22 415.0,617.99 416.0,617.75 417.0,617.52 418.0,617.29 419.0,617.06 420.0,616.84 421.0,616.61 422.0,616.38 423.0,616.16 424.0,615.94 425.0,615.72 426.0,615.51 427.0,615.29 428.0,615.08 429.0,614.88 430.0,614.67 431.0,614.48 432.0,614.28 433.0,614.09 434.0,613.90 435.0,613.72 436.0,613.54 437.0,613.37 438.0,613.20 439.0,613.03 440.0,612.87 441.0,612.72 442.0,612.57 443.0,612.42 444.0,612.28 445.0,612.15 446.0,612.02 447.0,611.89 448.0,611.77 449.0,611.65 450.0,611.54 451.0,611.44 452.0,611.34 453.0,611.24 454.0,611.16 455.0,611.07 456.0,611.00 457.0,610.93 458.0,610.86 459.0,610.81 460.0,610.76 461.0,610.71 462.0,610.68 463.0,610.65 464.0,610.63 465.0,610.62 466.0,610.62 467.0,610.63 468.0,610.64 469.0,610.67 470.0,610.71 471.0,610.75 472.0,610.81 473.0,610.88 474.0,610.96 475.0,611.05 476.0,611.16 477.0,611.27 478.0,611.40 479.0,611.54 480.0,611.70 481.0,611.86 482.0,612.04 483.0,612.23 484.0,612.44 485.0,612.65 486.0,612.88 487.0,613.12 488.0,613.37 489.0,613.63 490.0,613.90 491.0,614.18 492.0,614.47 493.0,614.77 494.0,615.08 495.0,615.39 496.0,615.71 497.0,616.04 498.0,616.37 499.0,616.70 500.0,617.04 501.0,617.38 502.0,617.72 503.0,618.06 504.0,618.40 505.0,618.74 506.0,619.08 507.0,619.41 508.0,619.74 509.0,620.07 510.0,620.38 511.0,620.70 512.0,621.00 513.0,621.30 514.0,621.58 515.0,621.86 516.0,622.13 517.0,622.39 518.0,622.64 519.0,622.88 520.0,623.10 521.0,623.32 522.0,623.53 523.0,623.72 524.0,623.91 525.0,624.08 526.0,624.25 527.0,624.40 528.0,624.55 529.0,624.69 530.0,624.82 531.0,624.94 532.0,625.06 533.0,625.17 534.0,625.28 535.0,625.38 536.0,625.48 537.0,625.57 538.0,625.66 539.0,625.75 540.0,625.84 541.0,625.93 542.0,626.01 543.0,626.10 544.0,626.18 545.0,626.27 546.0,626.36 547.0,626.45 548.0,626.53 549.0,626.62 550.0,626.71 551.0,626.80 552.0,626.89 553.0,626.98 554.0,627.08 555.0,627.17 556.0,627.26 557.0,627.35 558.0,627.44 559.0,627.53 560.0,627.62 561.0,627.70 562.0,627.79 563.0,627.88 564.0,627.96 565.0,628.04 566.0,628.12 567.0,628.20 568.0,628.27 569.0,628.34 570.0,628.42 571.0,628.49 572.0,628.55 573.0,628.62 574.0,628.68 575.0,628.74 576.0,628.80 577.0,628.86 578.0,628.92 579.0,628.97 580.0,629.02 581.0,629.08 582.0,629.13 583.0,629.18 584.0,629.22 585.0,629.27 586.0,629.32 587.0,629.36 588.0,629.41 589.0,629.45 590.0,629.50 591.0,629.54 592.0,629.58 593.0,629.63 594.0,629.67 595.0,629.71 596.0,629.76 597.0,629.80 598.0,629.84 599.0,629.89 600.0,629.93 601.0,629.97 602.0,630.02 603.0,630.06 604.0,630.11 605.0,630.15 606.0,630.20 607.0,630.24 608.0,630.28 609.0,630.33 610.0,630.37 611.0,630.42 612.0,630.46 613.0,630.51 614.0,630.55 615.0,630.59 616.0,630.63 617.0,630.68 618.0,630.72 619.0,630.76 620.0,630.80 621.0,630.84 622.0,630.87 623.0,630.91 624.0,630.95 625.0,630.98 626.0,631.01 627.0,631.04 628.0,631.07 629.0,631.10 630.0,631.12 631.0,631.14 632.0,631.16 633.0,631.18 634.0,631.20 635.0,631.21 636.0,631.22 637.0,631.23 638.0,631.23 639.0,631.23 640.0,631.23 641.0,631.23 642.0,631.22 643.0,631.21 644.0,631.20 645.0,631.18 646.0,631.16 647.0,631.14 648.0,631.11 649.0,631.08 650.0,631.05 651.0,631.01 652.0,630.97 653.0,630.93 654.0,630.89 655.0,630.84 656.0,630.79 657.0,630.73 658.0,630.68 659.0,630.62 660.0,630.56 661.0,630.50 662.0,630.43 663.0,630.36 664.0,630.30 665.0,630.23 666.0,630.15 667.0,630.08 668.0,630.01 669.0,629.94 670.0,629.86 671.0,629.79 672.0,629.72 673.0,629.65 674.0,629.58 675.0,629.51 676.0,629.44 677.0,629.37 678.0,629.31 679.0,629.25 680.0,629.19 681.0,629.14 682.0,629.08 683.0,629.04 684.0,628.99 685.0,628.95 686.0,628.92 687.0,628.89 688.0,628.86 689.0,628.84 690.0,628.83 691.0,628.81 692.0,628.81 693.0,628.80 694.0,628.81 695.0,628.81 696.0,628.82 697.0,628.83 698.0,628.85 699.0,628.87 700.0,628.89 701.0,628.91 702.0,628.94 703.0,628.97 704.0,629.00 705.0,629.03 706.0,629.05 707.0,629.08 708.0,629.11 709.0,629.14 710.0,629.17 711.0,629.19 712.0,629.22 713.0,629.24 714.0,629.25 715.0,629.27 716.0,629.28 717.0,629.29 718.0,629.29 719.0,629.29 720.0,629.28 721.0,629.27 722.0,629.25 723.0,629.23 724.0,629.20 725.0,629.17 726.0,629.13 727.0,629.09 728.0,629.03 729.0,628.98 730.0,628.91 731.0,628.84 732.0,628.76 733.0,628.68 734.0,628.59 735.0,628.49 736.0,628.39 737.0,628.28 738.0,628.17 739.0,628.05 740.0,627.92 741.0,627.79 742.0,627.65 743.0,627.51 744.0,627.37 745.0,627.22 746.0,627.06 747.0,626.91 748.0,626.75 749.0,626.59 750.0,626.43 751.0,626.27 752.0,626.11 753.0,625.96 754.0,625.80 755.0,625.64 756.0,625.49 757.0,625.34 758.0,625.19 759.0,625.04 760.0,624.90 761.0,624.77 762.0,624.64 763.0,624.51 764.0,624.39 765.0,624.28 766.0,624.17 767.0,624.07 768.0,623.98 769.0,623.90 770.0,623.83 771.0,623.77 772.0,623.72 773.0,623.69 774.0,623.67 775.0,623.66 776.0,623.68 777.0,623.71 778.0,623.77 779.0,623.84 780.0,623.94 781.0,624.06 782.0,624.21 783.0,624.38 784.0,624.57 785.0,624.79 786.0,625.03 787.0,625.29 788.0,625.57 789.0,625.87 790.0,626.19 791.0,626.52 792.0,626.87 793.0,627.23 794.0,627.60 795.0,627.97 796.0,628.35 797.0,628.73 798.0,629.11 799.0,629.48 800.0,629.85 801.0,630.21 802.0,630.56 803.0,630.90 804.0,631.23 805.0,631.55 806.0,631.85 807.0,632.14 808.0,632.41 809.0,632.67 810.0,632.91 811.0,633.13 812.0,633.34 813.0,633.54 814.0,633.72 815.0,633.89 816.0,634.05 817.0,634.19 818.0,634.33 819.0,634.45 820.0,634.56 821.0,634.66 822.0,634.76 823.0,634.85 824.0,634.93 825.0,635.00 826.0,635.07 827.0,635.14 828.0,635.20 829.0,635.25 830.0,635.31 831.0,635.35 832.0,635.40 833.0,635.44 834.0,635.48 835.0,635.52 836.0,635.56 837.0,635.59 838.0,635.63 839.0,635.66 840.0,635.69 841.0,635.72 842.0,635.75 843.0,635.77 844.0,635.80 845.0,635.83 846.0,635.85 847.0,635.87 848.0,635.90 849.0,635.92 850.0,635.94 851.0,635.96 852.0,635.98 853.0,636.00 854.0,636.02 855.0,636.04 856.0,636.05 857.0,636.07 858.0,636.09 859.0,636.11 860.0,636.12 861.0,636.14 862.0,636.15 863.0,636.17 864.0,636.18 865.0,636.20 866.0,636.21 867.0,636.22 868.0,636.24 869.0,636.25 870.0,636.26 871.0,636.27 872.0,636.28 873.0,636.30 874.0,636.31 875.0,636.32 876.0,636.33 877.0,636.34 878.0,636.35 879.0,636.36 880.0,636.37 881.0,636.38 882.0,636.39 883.0,636.40 884.0,636.41 885.0,636.42 886.0,636.42 887.0,636.43 888.0,636.44 889.0,636.45 890.0,636.46 891.0,636.46 892.0,636.47 893.0,636.48 894.0,636.49 895.0,636.49 896.0,636.50 897.0,636.51 898.0,636.51 899.0,636.52 900.0,636.53 901.0,636.53 902.0,636.54 903.0,636.55 904.0,636.55 905.0,636.56 906.0,636.56 907.0,636.57 908.0,636.57 909.0,636.58 910.0,636.58 911.0,636.59 912.0,636.59 913.0,636.60 914.0,636.60 915.0,636.61 916.0,636.61 917.0,636.62 918.0,636.62 919.0,636.63 920.0,636.63 921.0,636.64 922.0,636.64 923.0,636.65 924.0,636.65 925.0,636.65 926.0,636.66 927.0,636.66 928.0,636.66 929.0,636.67 930.0,636.67 931.0,636.68 932.0,636.68 933.0,636.68 934.0,636.69 935.0,636.69 936.0,636.69 937.0,636.70 938.0,636.70 939.0,636.70 940.0,636.71 941.0,636.71 942.0,636.71 943.0,636.71 944.0,636.72 945.0,636.72 946.0,636.72 947.0,636.73 948.0,636.73 949.0,636.73 950.0,636.73 951.0,636.74 952.0,636.74 953.0,636.74 954.0,636.74 955.0,636.75 956.0,636.75 957.0,636.75 958.0,636.75 959.0,636.76 960.0,636.76 961.0,636.76 962.0,636.76 963.0,636.76 964.0,636.77 965.0,636.77 966.0,636.77 967.0,636.77 968.0,636.77 969.0,636.78 970.0,636.78 971.0,636.78 972.0,636.78 973.0,636.78 974.0,636.79 975.0,636.79 976.0,636.79 977.0,636.79 978.0,636.79 979.0,636.79 980.0,636.80 981.0,636.80 982.0,636.80 983.0,636.80 984.0,636.80 985.0,636.80 986.0,636.81 987.0,636.81 988.0,636.81 989.0,636.81 990.0,636.81 991.0,636.81 992.0,636.81 993.0,636.82 994.0,636.82 995.0,636.82 996.0,636.82" fill="none" stroke="#000000" stroke-width="2.9" stroke-linejoin="round" stroke-linecap="butt"/>
<line x1="138.60" y1="5.70" x2="138.60" y2="640.00" stroke="#000" stroke-width="2.6" stroke-linecap="butt"/>
<line x1="125.40" y1="638.70" x2="997.70" y2="638.70" stroke="#000" stroke-width="2.6" stroke-linecap="butt"/>
<line x1="125.40" y1="7.30" x2="138.60" y2="7.30" stroke="#000" stroke-width="2.2" stroke-linecap="butt"/>
<line x1="131.80" y1="36.00" x2="138.60" y2="36.00" stroke="#000" stroke-width="2.2" stroke-linecap="butt"/>
<line x1="125.40" y1="64.70" x2="138.60" y2="64.70" stroke="#000" stroke-width="2.2" stroke-linecap="butt"/>
<line x1="131.80" y1="93.40" x2="138.60" y2="93.40" stroke="#000" stroke-width="2.2" stroke-linecap="butt"/>
<line x1="125.40" y1="122.10" x2="138.60" y2="122.10" stroke="#000" stroke-width="2.2" stroke-linecap="butt"/>
<line x1="131.80" y1="150.80" x2="138.60" y2="150.80" stroke="#000" stroke-width="2.2" stroke-linecap="butt"/>
<line x1="125.40" y1="179.50" x2="138.60" y2="179.50" stroke="#000" stroke-width="2.2" stroke-linecap="butt"/>
<line x1="131.80" y1="208.20" x2="138.60" y2="208.20" stroke="#000" stroke-width="2.2" stroke-linecap="butt"/>
<line x1="125.40" y1="236.90" x2="138.60" y2="236.90" stroke="#000" stroke-width="2.2" stroke-linecap="butt"/>
<line x1="131.80" y1="265.60" x2="138.60" y2="265.60" stroke="#000" stroke-width="2.2" stroke-linecap="butt"/>
<line x1="125.40" y1="294.30" x2="138.60" y2="294.30" stroke="#000" stroke-width="2.2" stroke-linecap="butt"/>
<line x1="131.80" y1="323.00" x2="138.60" y2="323.00" stroke="#000" stroke-width="2.2" stroke-linecap="butt"/>
<line x1="125.40" y1="351.70" x2="138.60" y2="351.70" stroke="#000" stroke-width="2.2" stroke-linecap="butt"/>
<line x1="131.80" y1="380.40" x2="138.60" y2="380.40" stroke="#000" stroke-width="2.2" stroke-linecap="butt"/>
<line x1="125.40" y1="409.10" x2="138.60" y2="409.10" stroke="#000" stroke-width="2.2" stroke-linecap="butt"/>
<line x1="131.80" y1="437.80" x2="138.60" y2="437.80" stroke="#000" stroke-width="2.2" stroke-linecap="butt"/>
<line x1="125.40" y1="466.50" x2="138.60" y2="466.50" stroke="#000" stroke-width="2.2" stroke-linecap="butt"/>
<line x1="131.80" y1="495.20" x2="138.60" y2="495.20" stroke="#000" stroke-width="2.2" stroke-linecap="butt"/>
<line x1="125.40" y1="523.90" x2="138.60" y2="523.90" stroke="#000" stroke-width="2.2" stroke-linecap="butt"/>
<line x1="131.80" y1="552.60" x2="138.60" y2="552.60" stroke="#000" stroke-width="2.2" stroke-linecap="butt"/>
<line x1="125.40" y1="581.30" x2="138.60" y2="581.30" stroke="#000" stroke-width="2.2" stroke-linecap="butt"/>
<line x1="131.80" y1="610.00" x2="138.60" y2="610.00" stroke="#000" stroke-width="2.2" stroke-linecap="butt"/>
<line x1="138.60" y1="638.70" x2="138.60" y2="651.00" stroke="#000" stroke-width="2.2" stroke-linecap="butt"/>
<line x1="245.82" y1="638.70" x2="245.82" y2="645.00" stroke="#000" stroke-width="2.2" stroke-linecap="butt"/>
<line x1="353.05" y1="638.70" x2="353.05" y2="651.00" stroke="#000" stroke-width="2.2" stroke-linecap="butt"/>
<line x1="460.27" y1="638.70" x2="460.27" y2="645.00" stroke="#000" stroke-width="2.2" stroke-linecap="butt"/>
<line x1="567.50" y1="638.70" x2="567.50" y2="651.00" stroke="#000" stroke-width="2.2" stroke-linecap="butt"/>
<line x1="674.73" y1="638.70" x2="674.73" y2="645.00" stroke="#000" stroke-width="2.2" stroke-linecap="butt"/>
<line x1="781.95" y1="638.70" x2="781.95" y2="651.00" stroke="#000" stroke-width="2.2" stroke-linecap="butt"/>
<line x1="889.17" y1="638.70" x2="889.17" y2="645.00" stroke="#000" stroke-width="2.2" stroke-linecap="butt"/>
<line x1="996.40" y1="638.70" x2="996.40" y2="651.00" stroke="#000" stroke-width="2.2" stroke-linecap="butt"/>
<text x="97.70" y="698.10" textLength="69.92" lengthAdjust="spacingAndGlyphs" style="font-family:'Liberation Sans', sans-serif;font-size:33.70px;font-weight:400;stroke:#000;stroke-width:0.35px" fill="#000">3000</text>
<text x="312.32" y="698.10" textLength="69.80" lengthAdjust="spacingAndGlyphs" style="font-family:'Liberation Sans', sans-serif;font-size:33.70px;font-weight:400;stroke:#000;stroke-width:0.35px" fill="#000">2950</text>
<text x="526.32" y="698.10" textLength="70.01" lengthAdjust="spacingAndGlyphs" style="font-family:'Liberation Sans', sans-serif;font-size:33.70px;font-weight:400;stroke:#000;stroke-width:0.35px" fill="#000">2900</text>
<text x="741.11" y="698.10" textLength="70.32" lengthAdjust="spacingAndGlyphs" style="font-family:'Liberation Sans', sans-serif;font-size:33.70px;font-weight:400;stroke:#000;stroke-width:0.35px" fill="#000">2850</text>
<text x="955.51" y="698.10" textLength="70.53" lengthAdjust="spacingAndGlyphs" style="font-family:'Liberation Sans', sans-serif;font-size:33.70px;font-weight:400;stroke:#000;stroke-width:0.35px" fill="#000">2800</text>
<line x1="145.40" y1="8.20" x2="145.40" y2="65.30" stroke="#a8a8a8" stroke-width="2.4" stroke-linecap="butt"/>
<text x="153.61" y="39.90" textLength="82.06" lengthAdjust="spacingAndGlyphs" style="font-family:'Liberation Sans', sans-serif;font-size:32.00px;font-weight:400;stroke:#000;stroke-width:0.35px" fill="#000">1 A.u.</text>
<text x="4.01" y="58.20" textLength="34.45" lengthAdjust="spacingAndGlyphs" style="font-family:'Liberation Sans', sans-serif;font-size:50.80px;font-weight:700;stroke:#000;stroke-width:0.9px" fill="#000">A</text>
<line x1="147.30" y1="97.50" x2="212.50" y2="97.50" stroke="#800080" stroke-width="2.8" stroke-linecap="butt"/>
<text x="217.53" y="107.10" textLength="157.86" lengthAdjust="spacingAndGlyphs" style="font-family:'Liberation Sans', sans-serif;font-size:27.80px;font-weight:400;stroke:#000;stroke-width:0.35px" fill="#000">RBCEV + 10</text>
<text x="377.17" y="107.10" textLength="83.98" lengthAdjust="spacingAndGlyphs" style="font-family:'Liberation Sans', sans-serif;font-size:25.60px;font-weight:400;stroke:#000;stroke-width:0.35px" fill="#000">×DPPC</text>
<line x1="147.30" y1="132.00" x2="212.50" y2="132.00" stroke="#008000" stroke-width="2.8" stroke-linecap="butt"/>
<text x="217.73" y="141.60" textLength="215.04" lengthAdjust="spacingAndGlyphs" style="font-family:'Liberation Sans', sans-serif;font-size:25.60px;font-weight:400;stroke:#000;stroke-width:0.35px" fill="#000">RBCEV + 5×DPPC</text>
<line x1="147.30" y1="166.70" x2="212.50" y2="166.70" stroke="#0000ff" stroke-width="2.8" stroke-linecap="butt"/>
<text x="217.73" y="176.30" textLength="215.04" lengthAdjust="spacingAndGlyphs" style="font-family:'Liberation Sans', sans-serif;font-size:25.60px;font-weight:400;stroke:#000;stroke-width:0.35px" fill="#000">RBCEV + 2×DPPC</text>
<line x1="147.30" y1="201.20" x2="212.50" y2="201.20" stroke="#ff0000" stroke-width="2.8" stroke-linecap="butt"/>
<text x="217.73" y="210.80" textLength="215.04" lengthAdjust="spacingAndGlyphs" style="font-family:'Liberation Sans', sans-serif;font-size:25.60px;font-weight:400;stroke:#000;stroke-width:0.35px" fill="#000">RBCEV + 1×DPPC</text>
<line x1="147.30" y1="235.90" x2="212.50" y2="235.90" stroke="#808000" stroke-width="2.8" stroke-linecap="butt"/>
<text x="217.72" y="245.50" textLength="236.54" lengthAdjust="spacingAndGlyphs" style="font-family:'Liberation Sans', sans-serif;font-size:25.60px;font-weight:400;stroke:#000;stroke-width:0.35px" fill="#000">RBCEV + 0.5×DPPC</text>
<line x1="147.30" y1="270.50" x2="212.50" y2="270.50" stroke="#000000" stroke-width="2.8" stroke-linecap="butt"/>
<text x="217.73" y="280.10" textLength="86.88" lengthAdjust="spacingAndGlyphs" style="font-family:'Liberation Sans', sans-serif;font-size:25.60px;font-weight:400;stroke:#000;stroke-width:0.35px" fill="#000">RBCEV</text>
<text transform="translate(90.00,483.36) rotate(-90)" x="0" y="0" textLength="320.89" lengthAdjust="spacingAndGlyphs" style="font-family:'Liberation Sans', sans-serif;font-size:30.60px;font-weight:400;stroke:#000;stroke-width:0.35px" fill="#000">Absorbance / arb. units</text>
<text x="469.76" y="743.80" textLength="254.91" lengthAdjust="spacingAndGlyphs" style="font-family:'Liberation Sans', sans-serif;font-size:32.60px;font-weight:400;stroke:#000;stroke-width:0.35px" fill="#000">Wavenumber / cm</text>
<text x="723.87" y="729.30" textLength="26.59" lengthAdjust="spacingAndGlyphs" style="font-family:'Liberation Sans', sans-serif;font-size:30.00px;font-weight:400;stroke:#000;stroke-width:0.35px" fill="#000">-1</text>
<text transform="translate(509.60,125.41) rotate(-90)" x="0" y="0" textLength="62.34" lengthAdjust="spacingAndGlyphs" style="font-family:'Liberation Sans', sans-serif;font-size:30.50px;font-weight:400;stroke:#000;stroke-width:0.35px" fill="#000">2916</text>
<text transform="translate(385.60,463.13) rotate(-90)" x="0" y="0" textLength="63.39" lengthAdjust="spacingAndGlyphs" style="font-family:'Liberation Sans', sans-serif;font-size:30.50px;font-weight:400;stroke:#000;stroke-width:0.35px" fill="#000">2923</text>
<text transform="translate(499.60,463.12) rotate(-90)" x="0" y="0" textLength="62.95" lengthAdjust="spacingAndGlyphs" style="font-family:'Liberation Sans', sans-serif;font-size:30.50px;font-weight:400;stroke:#000;stroke-width:0.35px" fill="#000">2917</text>
<text transform="translate(732.60,470.13) rotate(-90)" x="0" y="0" textLength="63.26" lengthAdjust="spacingAndGlyphs" style="font-family:'Liberation Sans', sans-serif;font-size:30.50px;font-weight:400;stroke:#000;stroke-width:0.35px" fill="#000">2852</text>
<text transform="translate(797.60,523.12) rotate(-90)" x="0" y="0" textLength="62.93" lengthAdjust="spacingAndGlyphs" style="font-family:'Liberation Sans', sans-serif;font-size:30.50px;font-weight:400;stroke:#000;stroke-width:0.35px" fill="#000">2850</text>
<text transform="translate(793.60,261.13) rotate(-90)" x="0" y="0" textLength="63.17" lengthAdjust="spacingAndGlyphs" style="font-family:'Liberation Sans', sans-serif;font-size:30.50px;font-weight:400;stroke:#000;stroke-width:0.35px" fill="#000">2849</text>
<text x="528.90" y="62.50" textLength="14.03" lengthAdjust="spacingAndGlyphs" style="font-family:'Liberation Sans', sans-serif;font-size:25.50px;font-weight:700;stroke:#000;stroke-width:0.2px" fill="#000">ν</text>
<text x="542.38" y="71.80" textLength="23.48" lengthAdjust="spacingAndGlyphs" style="font-family:'Liberation Sans', sans-serif;font-size:23.00px;font-weight:700;stroke:#000;stroke-width:0.2px" fill="#000">as</text>
<text x="565.73" y="62.50" textLength="44.76" lengthAdjust="spacingAndGlyphs" style="font-family:'Liberation Sans', sans-serif;font-size:31.80px;font-weight:700;stroke:#000;stroke-width:0.2px" fill="#000">CH</text>
<text x="609.46" y="72.50" textLength="11.90" lengthAdjust="spacingAndGlyphs" style="font-family:'Liberation Sans', sans-serif;font-size:17.80px;font-weight:700;stroke:#000;stroke-width:0.2px" fill="#000">2</text>
<text x="757.80" y="165.10" textLength="13.82" lengthAdjust="spacingAndGlyphs" style="font-family:'Liberation Sans', sans-serif;font-size:25.50px;font-weight:700;stroke:#000;stroke-width:0.2px" fill="#000">ν</text>
<text x="770.81" y="174.50" textLength="12.51" lengthAdjust="spacingAndGlyphs" style="font-family:'Liberation Sans', sans-serif;font-size:23.00px;font-weight:700;stroke:#000;stroke-width:0.2px" fill="#000">s</text>
<text x="783.03" y="165.10" textLength="44.76" lengthAdjust="spacingAndGlyphs" style="font-family:'Liberation Sans', sans-serif;font-size:31.80px;font-weight:700;stroke:#000;stroke-width:0.2px" fill="#000">CH</text>
<text x="826.76" y="174.50" textLength="11.90" lengthAdjust="spacingAndGlyphs" style="font-family:'Liberation Sans', sans-serif;font-size:17.80px;font-weight:700;stroke:#000;stroke-width:0.2px" fill="#000">2</text>
<line x1="496.50" y1="131.90" x2="496.50" y2="190.20" stroke="#000" stroke-width="2.45" stroke-linecap="butt" stroke-dasharray="6.00 4.46"/>
<line x1="491.90" y1="485.30" x2="491.90" y2="584.10" stroke="#000" stroke-width="2.45" stroke-linecap="butt" stroke-dasharray="6.00 5.60"/>
<line x1="785.80" y1="279.50" x2="785.80" y2="371.30" stroke="#000" stroke-width="2.45" stroke-linecap="butt" stroke-dasharray="6.00 4.73"/>
<line x1="781.20" y1="542.30" x2="781.20" y2="606.90" stroke="#000" stroke-width="2.45" stroke-linecap="butt" stroke-dasharray="6.00 5.72"/>
<line x1="397.30" y1="471.40" x2="457.51" y2="598.73" stroke="#000" stroke-width="2.45" stroke-linecap="butt" stroke-dasharray="6 5.3"/>
<polygon points="465.2,615.0 451.9,599.1 461.4,594.7" fill="#000"/>
<line x1="736.60" y1="493.00" x2="767.30" y2="606.62" stroke="#000" stroke-width="2.45" stroke-linecap="butt" stroke-dasharray="6 5.3"/>
<polygon points="772.0,624.0 761.8,606.0 771.8,603.3" fill="#000"/>
<polyline points="1144.0,446.51 1145.0,446.44 1146.0,446.37 1147.0,446.30 1148.0,446.23 1149.0,446.15 1150.0,446.08 1151.0,446.01 1152.0,445.94 1153.0,445.87 1154.0,445.79 1155.0,445.72 1156.0,445.64 1157.0,445.57 1158.0,445.49 1159.0,445.42 1160.0,445.34 1161.0,445.26 1162.0,445.18 1163.0,445.10 1164.0,445.02 1165.0,444.94 1166.0,444.85 1167.0,444.77 1168.0,444.68 1169.0,444.60 1170.0,444.51 1171.0,444.42 1172.0,444.32 1173.0,444.23 1174.0,444.14 1175.0,444.04 1176.0,443.94 1177.0,443.84 1178.0,443.74 1179.0,443.63 1180.0,443.53 1181.0,443.42 1182.0,443.31 1183.0,443.19 1184.0,443.08 1185.0,442.96 1186.0,442.84 1187.0,442.71 1188.0,442.59 1189.0,442.46 1190.0,442.32 1191.0,442.19 1192.0,442.05 1193.0,441.90 1194.0,441.75 1195.0,441.60 1196.0,441.44 1197.0,441.28 1198.0,441.12 1199.0,440.94 1200.0,440.77 1201.0,440.58 1202.0,440.39 1203.0,440.19 1204.0,439.99 1205.0,439.77 1206.0,439.55 1207.0,439.31 1208.0,439.07 1209.0,438.81 1210.0,438.54 1211.0,438.25 1212.0,437.95 1213.0,437.63 1214.0,437.28 1215.0,436.92 1216.0,436.53 1217.0,436.11 1218.0,435.66 1219.0,435.17 1220.0,434.65 1221.0,434.08 1222.0,433.47 1223.0,432.81 1224.0,432.09 1225.0,431.31 1226.0,430.47 1227.0,429.59 1228.0,428.65 1229.0,427.68 1230.0,426.67 1231.0,425.62 1232.0,424.53 1233.0,423.42 1234.0,422.27 1235.0,421.09 1236.0,419.89 1237.0,418.66 1238.0,417.35 1239.0,415.89 1240.0,414.19 1241.0,412.17 1242.0,409.75 1243.0,406.84 1244.0,403.38 1245.0,399.27 1246.0,394.44 1247.0,388.82 1248.0,382.49 1249.0,375.66 1250.0,368.57 1251.0,361.41 1252.0,354.35 1253.0,347.56 1254.0,341.17 1255.0,335.19 1256.0,329.55 1257.0,324.16 1258.0,318.94 1259.0,313.82 1260.0,308.71 1261.0,303.51 1262.0,298.09 1263.0,292.36 1264.0,286.21 1265.0,279.52 1266.0,272.31 1267.0,264.78 1268.0,257.19 1269.0,249.79 1270.0,242.65 1271.0,235.82 1272.0,229.29 1273.0,223.11 1274.0,217.29 1275.0,211.85 1276.0,206.80 1277.0,202.15 1278.0,197.93 1279.0,194.13 1280.0,190.75 1281.0,187.79 1282.0,185.23 1283.0,183.08 1284.0,181.30 1285.0,179.88 1286.0,178.78 1287.0,177.99 1288.0,177.47 1289.0,177.19 1290.0,177.13 1291.0,177.25 1292.0,177.54 1293.0,178.00 1294.0,178.64 1295.0,179.45 1296.0,180.44 1297.0,181.61 1298.0,182.97 1299.0,184.54 1300.0,186.33 1301.0,188.36 1302.0,190.64 1303.0,193.21 1304.0,196.09 1305.0,199.27 1306.0,202.72 1307.0,206.40 1308.0,210.24 1309.0,214.21 1310.0,218.25 1311.0,222.31 1312.0,226.32 1313.0,230.23 1314.0,233.98 1315.0,237.70 1316.0,241.53 1317.0,245.66 1318.0,250.24 1319.0,255.44 1320.0,261.34 1321.0,267.69 1322.0,274.14 1323.0,280.37 1324.0,286.08 1325.0,291.24 1326.0,295.96 1327.0,300.33 1328.0,304.47 1329.0,308.47 1330.0,312.44 1331.0,316.49 1332.0,320.65 1333.0,324.88 1334.0,329.17 1335.0,333.48 1336.0,337.80 1337.0,342.09 1338.0,346.33 1339.0,350.50 1340.0,354.58 1341.0,358.54 1342.0,362.37 1343.0,366.04 1344.0,369.53 1345.0,372.83 1346.0,375.94 1347.0,378.86 1348.0,381.60 1349.0,384.16 1350.0,386.55 1351.0,388.78 1352.0,390.85 1353.0,392.77 1354.0,394.54 1355.0,396.18 1356.0,397.69 1357.0,399.07 1358.0,400.34 1359.0,401.51 1360.0,402.57 1361.0,403.53 1362.0,404.41 1363.0,405.21 1364.0,405.94 1365.0,406.60 1366.0,407.19 1367.0,407.72 1368.0,408.20 1369.0,408.62 1370.0,408.98 1371.0,409.30 1372.0,409.57 1373.0,409.80 1374.0,409.99 1375.0,410.14 1376.0,410.25 1377.0,410.33 1378.0,410.37 1379.0,410.39 1380.0,410.37 1381.0,410.33 1382.0,410.27 1383.0,410.18 1384.0,410.07 1385.0,409.93 1386.0,409.78 1387.0,409.60 1388.0,409.41 1389.0,409.20 1390.0,408.97 1391.0,408.73 1392.0,408.47 1393.0,408.20 1394.0,407.91 1395.0,407.60 1396.0,407.29 1397.0,406.96 1398.0,406.62 1399.0,406.26 1400.0,405.89 1401.0,405.52 1402.0,405.13 1403.0,404.73 1404.0,404.31 1405.0,403.89 1406.0,403.46 1407.0,403.02 1408.0,402.56 1409.0,402.10 1410.0,401.63 1411.0,401.15 1412.0,400.66 1413.0,400.17 1414.0,399.66 1415.0,399.15 1416.0,398.63 1417.0,398.11 1418.0,397.58 1419.0,397.04 1420.0,396.50 1421.0,395.95 1422.0,395.39 1423.0,394.83 1424.0,394.27 1425.0,393.70 1426.0,393.13 1427.0,392.55 1428.0,391.97 1429.0,391.38 1430.0,390.79 1431.0,390.20 1432.0,389.60 1433.0,388.99 1434.0,388.38 1435.0,387.76 1436.0,387.14 1437.0,386.51 1438.0,385.88 1439.0,385.24 1440.0,384.59 1441.0,383.93 1442.0,383.27 1443.0,382.59 1444.0,381.91 1445.0,381.22 1446.0,380.52 1447.0,379.81 1448.0,379.08 1449.0,378.36 1450.0,377.62 1451.0,376.87 1452.0,376.12 1453.0,375.36 1454.0,374.60 1455.0,373.84 1456.0,373.08 1457.0,372.32 1458.0,371.57 1459.0,370.84 1460.0,370.12 1461.0,369.43 1462.0,368.77 1463.0,368.14 1464.0,367.56 1465.0,367.03 1466.0,366.55 1467.0,366.14 1468.0,365.79 1469.0,365.53 1470.0,365.35 1471.0,365.25 1472.0,365.25 1473.0,365.33 1474.0,365.52 1475.0,365.80 1476.0,366.17 1477.0,366.64 1478.0,367.19 1479.0,367.82 1480.0,368.54 1481.0,369.32 1482.0,370.16 1483.0,371.06 1484.0,372.01 1485.0,373.00 1486.0,374.02 1487.0,375.06 1488.0,376.12 1489.0,377.18 1490.0,378.26 1491.0,379.33 1492.0,380.39 1493.0,381.45 1494.0,382.49 1495.0,383.51 1496.0,384.51 1497.0,385.50 1498.0,386.46 1499.0,387.39 1500.0,388.30 1501.0,389.19 1502.0,390.06 1503.0,390.90 1504.0,391.71 1505.0,392.51 1506.0,393.29 1507.0,394.04 1508.0,394.78 1509.0,395.50 1510.0,396.21 1511.0,396.90 1512.0,397.58 1513.0,398.26 1514.0,398.92 1515.0,399.58 1516.0,400.23 1517.0,400.87 1518.0,401.52 1519.0,402.16 1520.0,402.80 1521.0,403.44 1522.0,404.08 1523.0,404.73 1524.0,405.37 1525.0,406.02 1526.0,406.67 1527.0,407.32 1528.0,407.98 1529.0,408.63 1530.0,409.29 1531.0,409.95 1532.0,410.61 1533.0,411.28 1534.0,411.94 1535.0,412.60 1536.0,413.26 1537.0,413.92 1538.0,414.58 1539.0,415.24 1540.0,415.89 1541.0,416.53 1542.0,417.18 1543.0,417.81 1544.0,418.44 1545.0,419.07 1546.0,419.69 1547.0,420.30 1548.0,420.90 1549.0,421.50 1550.0,422.09 1551.0,422.67 1552.0,423.24 1553.0,423.80 1554.0,424.35 1555.0,424.89 1556.0,425.43 1557.0,425.95 1558.0,426.46 1559.0,426.97 1560.0,427.46 1561.0,427.95 1562.0,428.42 1563.0,428.89 1564.0,429.34 1565.0,429.79 1566.0,430.22 1567.0,430.65 1568.0,431.06 1569.0,431.47 1570.0,431.86 1571.0,432.25 1572.0,432.63 1573.0,433.00 1574.0,433.36 1575.0,433.70 1576.0,434.05 1577.0,434.38 1578.0,434.70 1579.0,435.02 1580.0,435.32 1581.0,435.62 1582.0,435.91 1583.0,436.19 1584.0,436.47 1585.0,436.73 1586.0,436.99 1587.0,437.24 1588.0,437.49 1589.0,437.73 1590.0,437.96 1591.0,438.18 1592.0,438.40 1593.0,438.61 1594.0,438.82 1595.0,439.02 1596.0,439.21 1597.0,439.40 1598.0,439.58 1599.0,439.75 1600.0,439.92 1601.0,440.09 1602.0,440.25 1603.0,440.41 1604.0,440.56 1605.0,440.70 1606.0,440.84 1607.0,440.98 1608.0,441.11 1609.0,441.24 1610.0,441.36 1611.0,441.48 1612.0,441.60 1613.0,441.71 1614.0,441.82 1615.0,441.92 1616.0,442.02 1617.0,442.12 1618.0,442.21 1619.0,442.30 1620.0,442.39 1621.0,442.47 1622.0,442.55 1623.0,442.63 1624.0,442.70 1625.0,442.77 1626.0,442.84 1627.0,442.90 1628.0,442.96 1629.0,443.02 1630.0,443.07 1631.0,443.12 1632.0,443.17 1633.0,443.21 1634.0,443.26 1635.0,443.29 1636.0,443.33 1637.0,443.36 1638.0,443.39 1639.0,443.41 1640.0,443.44 1641.0,443.46 1642.0,443.47 1643.0,443.48 1644.0,443.49 1645.0,443.50 1646.0,443.50 1647.0,443.50 1648.0,443.49 1649.0,443.48 1650.0,443.47 1651.0,443.45 1652.0,443.43 1653.0,443.41 1654.0,443.38 1655.0,443.34 1656.0,443.31 1657.0,443.26 1658.0,443.22 1659.0,443.17 1660.0,443.11 1661.0,443.05 1662.0,442.99 1663.0,442.91 1664.0,442.84 1665.0,442.76 1666.0,442.67 1667.0,442.58 1668.0,442.48 1669.0,442.38 1670.0,442.27 1671.0,442.16 1672.0,442.03 1673.0,441.91 1674.0,441.77 1675.0,441.63 1676.0,441.48 1677.0,441.33 1678.0,441.17 1679.0,441.00 1680.0,440.83 1681.0,440.64 1682.0,440.45 1683.0,440.26 1684.0,440.05 1685.0,439.84 1686.0,439.62 1687.0,439.39 1688.0,439.16 1689.0,438.91 1690.0,438.66 1691.0,438.40 1692.0,438.14 1693.0,437.86 1694.0,437.59 1695.0,437.30 1696.0,437.00 1697.0,436.71 1698.0,436.40 1699.0,436.09 1700.0,435.77 1701.0,435.45 1702.0,435.13 1703.0,434.81 1704.0,434.48 1705.0,434.15 1706.0,433.82 1707.0,433.49 1708.0,433.17 1709.0,432.85 1710.0,432.53 1711.0,432.22 1712.0,431.92 1713.0,431.63 1714.0,431.35 1715.0,431.09 1716.0,430.83 1717.0,430.60 1718.0,430.38 1719.0,430.18 1720.0,430.01 1721.0,429.85 1722.0,429.72 1723.0,429.62 1724.0,429.54 1725.0,429.49 1726.0,429.46 1727.0,429.46 1728.0,429.49 1729.0,429.55 1730.0,429.64 1731.0,429.75 1732.0,429.89 1733.0,430.06 1734.0,430.25 1735.0,430.47 1736.0,430.71 1737.0,430.98 1738.0,431.27 1739.0,431.58 1740.0,431.91 1741.0,432.25 1742.0,432.62 1743.0,432.99 1744.0,433.38 1745.0,433.78 1746.0,434.19 1747.0,434.60 1748.0,435.01 1749.0,435.42 1750.0,435.83 1751.0,436.24 1752.0,436.64 1753.0,437.03 1754.0,437.42 1755.0,437.79 1756.0,438.15 1757.0,438.51 1758.0,438.85 1759.0,439.18 1760.0,439.50 1761.0,439.81 1762.0,440.10 1763.0,440.39 1764.0,440.67 1765.0,440.93 1766.0,441.19 1767.0,441.43 1768.0,441.67 1769.0,441.90 1770.0,442.11 1771.0,442.32 1772.0,442.52 1773.0,442.72 1774.0,442.90 1775.0,443.08 1776.0,443.25 1777.0,443.41 1778.0,443.57 1779.0,443.72 1780.0,443.87 1781.0,444.01 1782.0,444.15 1783.0,444.28 1784.0,444.41 1785.0,444.53 1786.0,444.65 1787.0,444.77 1788.0,444.88 1789.0,444.99 1790.0,445.09 1791.0,445.19 1792.0,445.29 1793.0,445.38 1794.0,445.47 1795.0,445.55 1796.0,445.63 1797.0,445.71 1798.0,445.77 1799.0,445.83 1800.0,445.88 1801.0,445.93 1802.0,445.96 1803.0,445.98 1804.0,445.99 1805.0,445.98 1806.0,445.96 1807.0,445.91 1808.0,445.83 1809.0,445.73 1810.0,445.59 1811.0,445.40 1812.0,445.18 1813.0,444.91 1814.0,444.59 1815.0,444.21 1816.0,443.77 1817.0,443.26 1818.0,442.69 1819.0,442.05 1820.0,441.34 1821.0,440.54 1822.0,439.67 1823.0,438.72 1824.0,437.68 1825.0,436.56 1826.0,435.35 1827.0,434.06 1828.0,432.68 1829.0,431.22 1830.0,429.70 1831.0,428.13 1832.0,426.50 1833.0,424.84 1834.0,423.16 1835.0,421.46 1836.0,419.76 1837.0,418.08 1838.0,416.42 1839.0,414.80 1840.0,413.25 1841.0,411.77 1842.0,410.38 1843.0,409.10 1844.0,407.95 1845.0,406.93 1846.0,406.06 1847.0,405.31 1848.0,404.68 1849.0,404.15 1850.0,403.70 1851.0,403.32 1852.0,403.00 1853.0,402.70 1854.0,402.43 1855.0,402.14 1856.0,401.85 1857.0,401.54 1858.0,401.24 1859.0,400.93 1860.0,400.64 1861.0,400.36 1862.0,400.09 1863.0,399.85 1864.0,399.62 1865.0,399.42 1866.0,399.24 1867.0,399.08 1868.0,398.95 1869.0,398.84 1870.0,398.74 1871.0,398.65 1872.0,398.56 1873.0,398.44 1874.0,398.30 1875.0,398.12 1876.0,397.90 1877.0,397.61 1878.0,397.25 1879.0,396.81 1880.0,396.28 1881.0,395.64 1882.0,394.87 1883.0,393.97 1884.0,392.91 1885.0,391.68 1886.0,390.27 1887.0,388.64 1888.0,386.79 1889.0,384.65 1890.0,382.14 1891.0,379.17 1892.0,375.65 1893.0,371.51 1894.0,366.72 1895.0,361.39 1896.0,355.63 1897.0,349.59 1898.0,343.48 1899.0,337.52 1900.0,332.00 1901.0,327.26 1902.0,323.64 1903.0,321.33 1904.0,320.22 1905.0,320.15 1906.0,320.83 1907.0,322.26 1908.0,324.57 1909.0,327.87 1910.0,332.18 1911.0,337.29 1912.0,342.87 1913.0,348.67 1914.0,354.48 1915.0,360.11 1916.0,365.44 1917.0,370.36 1918.0,374.76 1919.0,378.61 1920.0,381.94 1921.0,384.79 1922.0,387.24 1923.0,389.33 1924.0,391.15 1925.0,392.73 1926.0,394.14 1927.0,395.43 1928.0,396.66 1929.0,397.87 1930.0,399.12 1931.0,400.45 1932.0,401.88 1933.0,403.40 1934.0,404.97 1935.0,406.56 1936.0,408.16 1937.0,409.73 1938.0,411.24 1939.0,412.66 1940.0,413.99 1941.0,415.24 1942.0,416.40 1943.0,417.49 1944.0,418.52 1945.0,419.48 1946.0,420.39 1947.0,421.26 1948.0,422.07 1949.0,422.85 1950.0,423.60 1951.0,424.32 1952.0,425.01 1953.0,425.69 1954.0,426.35 1955.0,427.01 1956.0,427.65 1957.0,428.30 1958.0,428.95 1959.0,429.59 1960.0,430.23 1961.0,430.87 1962.0,431.51 1963.0,432.14 1964.0,432.77 1965.0,433.39 1966.0,434.00 1967.0,434.61 1968.0,435.21 1969.0,435.80 1970.0,436.38 1971.0,436.95 1972.0,437.51 1973.0,438.06 1974.0,438.59 1975.0,439.12 1976.0,439.62 1977.0,440.12 1978.0,440.60 1979.0,441.06 1980.0,441.51 1981.0,441.94 1982.0,442.36 1983.0,442.75 1984.0,443.13 1985.0,443.49 1986.0,443.82 1987.0,444.14 1988.0,444.43 1989.0,444.71 1990.0,444.96 1991.0,445.18 1992.0,445.39 1993.0,445.57 1994.0,445.72 1995.0,445.84 1996.0,445.94 1997.0,446.01 1998.0,446.05 1999.0,446.06 2000.0,446.04 2001.0,445.99 2002.0,445.91" fill="none" stroke="#800080" stroke-width="2.9" stroke-linejoin="round" stroke-linecap="butt"/>
<polyline points="1144.0,479.52 1145.0,479.50 1146.0,479.48 1147.0,479.45 1148.0,479.43 1149.0,479.40 1150.0,479.37 1151.0,479.35 1152.0,479.32 1153.0,479.29 1154.0,479.26 1155.0,479.23 1156.0,479.20 1157.0,479.16 1158.0,479.13 1159.0,479.10 1160.0,479.06 1161.0,479.03 1162.0,478.99 1163.0,478.95 1164.0,478.91 1165.0,478.87 1166.0,478.83 1167.0,478.79 1168.0,478.75 1169.0,478.70 1170.0,478.66 1171.0,478.61 1172.0,478.57 1173.0,478.52 1174.0,478.47 1175.0,478.42 1176.0,478.36 1177.0,478.31 1178.0,478.26 1179.0,478.20 1180.0,478.14 1181.0,478.08 1182.0,478.02 1183.0,477.96 1184.0,477.89 1185.0,477.83 1186.0,477.76 1187.0,477.69 1188.0,477.62 1189.0,477.55 1190.0,477.47 1191.0,477.39 1192.0,477.31 1193.0,477.23 1194.0,477.14 1195.0,477.05 1196.0,476.96 1197.0,476.86 1198.0,476.76 1199.0,476.66 1200.0,476.55 1201.0,476.44 1202.0,476.32 1203.0,476.20 1204.0,476.07 1205.0,475.93 1206.0,475.78 1207.0,475.63 1208.0,475.47 1209.0,475.30 1210.0,475.11 1211.0,474.92 1212.0,474.71 1213.0,474.49 1214.0,474.24 1215.0,473.99 1216.0,473.71 1217.0,473.41 1218.0,473.08 1219.0,472.73 1220.0,472.35 1221.0,471.94 1222.0,471.50 1223.0,471.01 1224.0,470.49 1225.0,469.92 1226.0,469.30 1227.0,468.63 1228.0,467.91 1229.0,467.12 1230.0,466.27 1231.0,465.35 1232.0,464.36 1233.0,463.29 1234.0,462.13 1235.0,460.89 1236.0,459.56 1237.0,458.13 1238.0,456.59 1239.0,454.95 1240.0,453.20 1241.0,451.33 1242.0,449.35 1243.0,447.25 1244.0,445.02 1245.0,442.66 1246.0,440.17 1247.0,437.56 1248.0,434.81 1249.0,431.94 1250.0,428.93 1251.0,425.80 1252.0,422.54 1253.0,419.16 1254.0,415.66 1255.0,412.06 1256.0,408.34 1257.0,404.53 1258.0,400.63 1259.0,396.66 1260.0,392.61 1261.0,388.50 1262.0,384.35 1263.0,380.17 1264.0,375.97 1265.0,371.77 1266.0,367.59 1267.0,363.43 1268.0,359.32 1269.0,355.27 1270.0,351.31 1271.0,347.45 1272.0,343.71 1273.0,340.11 1274.0,336.66 1275.0,333.38 1276.0,330.30 1277.0,327.42 1278.0,324.76 1279.0,322.33 1280.0,320.15 1281.0,318.22 1282.0,316.56 1283.0,315.15 1284.0,314.02 1285.0,313.14 1286.0,312.53 1287.0,312.18 1288.0,312.07 1289.0,312.19 1290.0,312.53 1291.0,313.09 1292.0,313.83 1293.0,314.74 1294.0,315.81 1295.0,317.02 1296.0,318.35 1297.0,319.78 1298.0,321.31 1299.0,322.90 1300.0,324.56 1301.0,326.27 1302.0,328.02 1303.0,329.82 1304.0,331.64 1305.0,333.50 1306.0,335.40 1307.0,337.34 1308.0,339.33 1309.0,341.37 1310.0,343.49 1311.0,345.68 1312.0,347.97 1313.0,350.36 1314.0,352.86 1315.0,355.48 1316.0,358.23 1317.0,361.09 1318.0,364.07 1319.0,367.17 1320.0,370.37 1321.0,373.66 1322.0,377.02 1323.0,380.43 1324.0,383.88 1325.0,387.34 1326.0,390.80 1327.0,394.23 1328.0,397.61 1329.0,400.93 1330.0,404.18 1331.0,407.33 1332.0,410.39 1333.0,413.34 1334.0,416.17 1335.0,418.87 1336.0,421.46 1337.0,423.92 1338.0,426.26 1339.0,428.47 1340.0,430.55 1341.0,432.52 1342.0,434.37 1343.0,436.11 1344.0,437.74 1345.0,439.26 1346.0,440.69 1347.0,442.02 1348.0,443.26 1349.0,444.41 1350.0,445.48 1351.0,446.47 1352.0,447.39 1353.0,448.23 1354.0,449.01 1355.0,449.73 1356.0,450.39 1357.0,450.99 1358.0,451.54 1359.0,452.03 1360.0,452.48 1361.0,452.88 1362.0,453.24 1363.0,453.55 1364.0,453.83 1365.0,454.06 1366.0,454.26 1367.0,454.43 1368.0,454.56 1369.0,454.65 1370.0,454.72 1371.0,454.75 1372.0,454.76 1373.0,454.73 1374.0,454.68 1375.0,454.60 1376.0,454.50 1377.0,454.37 1378.0,454.22 1379.0,454.04 1380.0,453.84 1381.0,453.61 1382.0,453.36 1383.0,453.10 1384.0,452.81 1385.0,452.50 1386.0,452.17 1387.0,451.82 1388.0,451.45 1389.0,451.06 1390.0,450.66 1391.0,450.24 1392.0,449.80 1393.0,449.34 1394.0,448.87 1395.0,448.38 1396.0,447.87 1397.0,447.35 1398.0,446.82 1399.0,446.27 1400.0,445.71 1401.0,445.13 1402.0,444.54 1403.0,443.94 1404.0,443.33 1405.0,442.71 1406.0,442.07 1407.0,441.43 1408.0,440.77 1409.0,440.10 1410.0,439.43 1411.0,438.74 1412.0,438.05 1413.0,437.35 1414.0,436.64 1415.0,435.92 1416.0,435.20 1417.0,434.47 1418.0,433.73 1419.0,432.99 1420.0,432.25 1421.0,431.49 1422.0,430.74 1423.0,429.97 1424.0,429.21 1425.0,428.44 1426.0,427.67 1427.0,426.89 1428.0,426.11 1429.0,425.33 1430.0,424.54 1431.0,423.75 1432.0,422.96 1433.0,422.17 1434.0,421.37 1435.0,420.58 1436.0,419.78 1437.0,418.98 1438.0,418.17 1439.0,417.37 1440.0,416.56 1441.0,415.75 1442.0,414.94 1443.0,414.12 1444.0,413.31 1445.0,412.49 1446.0,411.66 1447.0,410.84 1448.0,410.01 1449.0,409.19 1450.0,408.36 1451.0,407.53 1452.0,406.70 1453.0,405.88 1454.0,405.05 1455.0,404.24 1456.0,403.43 1457.0,402.63 1458.0,401.85 1459.0,401.08 1460.0,400.33 1461.0,399.62 1462.0,398.93 1463.0,398.28 1464.0,397.68 1465.0,397.12 1466.0,396.62 1467.0,396.19 1468.0,395.82 1469.0,395.53 1470.0,395.33 1471.0,395.21 1472.0,395.18 1473.0,395.25 1474.0,395.41 1475.0,395.68 1476.0,396.05 1477.0,396.51 1478.0,397.07 1479.0,397.72 1480.0,398.45 1481.0,399.27 1482.0,400.16 1483.0,401.12 1484.0,402.14 1485.0,403.20 1486.0,404.31 1487.0,405.46 1488.0,406.63 1489.0,407.83 1490.0,409.03 1491.0,410.25 1492.0,411.46 1493.0,412.67 1494.0,413.88 1495.0,415.07 1496.0,416.24 1497.0,417.40 1498.0,418.54 1499.0,419.65 1500.0,420.74 1501.0,421.81 1502.0,422.85 1503.0,423.86 1504.0,424.85 1505.0,425.81 1506.0,426.74 1507.0,427.65 1508.0,428.53 1509.0,429.39 1510.0,430.23 1511.0,431.04 1512.0,431.84 1513.0,432.61 1514.0,433.36 1515.0,434.10 1516.0,434.82 1517.0,435.53 1518.0,436.22 1519.0,436.90 1520.0,437.57 1521.0,438.23 1522.0,438.88 1523.0,439.53 1524.0,440.16 1525.0,440.80 1526.0,441.42 1527.0,442.04 1528.0,442.66 1529.0,443.28 1530.0,443.89 1531.0,444.50 1532.0,445.11 1533.0,445.72 1534.0,446.32 1535.0,446.93 1536.0,447.53 1537.0,448.13 1538.0,448.73 1539.0,449.33 1540.0,449.92 1541.0,450.52 1542.0,451.11 1543.0,451.70 1544.0,452.28 1545.0,452.86 1546.0,453.44 1547.0,454.02 1548.0,454.58 1549.0,455.15 1550.0,455.71 1551.0,456.26 1552.0,456.81 1553.0,457.35 1554.0,457.88 1555.0,458.40 1556.0,458.92 1557.0,459.43 1558.0,459.93 1559.0,460.42 1560.0,460.91 1561.0,461.38 1562.0,461.85 1563.0,462.30 1564.0,462.75 1565.0,463.19 1566.0,463.61 1567.0,464.03 1568.0,464.43 1569.0,464.82 1570.0,465.21 1571.0,465.58 1572.0,465.94 1573.0,466.29 1574.0,466.63 1575.0,466.96 1576.0,467.28 1577.0,467.58 1578.0,467.88 1579.0,468.17 1580.0,468.44 1581.0,468.71 1582.0,468.96 1583.0,469.20 1584.0,469.44 1585.0,469.66 1586.0,469.88 1587.0,470.08 1588.0,470.28 1589.0,470.47 1590.0,470.65 1591.0,470.82 1592.0,470.98 1593.0,471.14 1594.0,471.28 1595.0,471.42 1596.0,471.56 1597.0,471.68 1598.0,471.80 1599.0,471.92 1600.0,472.03 1601.0,472.13 1602.0,472.23 1603.0,472.32 1604.0,472.41 1605.0,472.50 1606.0,472.58 1607.0,472.66 1608.0,472.73 1609.0,472.80 1610.0,472.87 1611.0,472.94 1612.0,473.00 1613.0,473.06 1614.0,473.12 1615.0,473.18 1616.0,473.23 1617.0,473.29 1618.0,473.34 1619.0,473.39 1620.0,473.44 1621.0,473.49 1622.0,473.54 1623.0,473.58 1624.0,473.63 1625.0,473.68 1626.0,473.72 1627.0,473.76 1628.0,473.81 1629.0,473.85 1630.0,473.89 1631.0,473.93 1632.0,473.97 1633.0,474.00 1634.0,474.04 1635.0,474.07 1636.0,474.11 1637.0,474.14 1638.0,474.16 1639.0,474.19 1640.0,474.21 1641.0,474.24 1642.0,474.25 1643.0,474.27 1644.0,474.28 1645.0,474.29 1646.0,474.29 1647.0,474.29 1648.0,474.29 1649.0,474.28 1650.0,474.26 1651.0,474.24 1652.0,474.22 1653.0,474.18 1654.0,474.14 1655.0,474.10 1656.0,474.05 1657.0,473.99 1658.0,473.92 1659.0,473.85 1660.0,473.76 1661.0,473.67 1662.0,473.57 1663.0,473.46 1664.0,473.34 1665.0,473.21 1666.0,473.07 1667.0,472.93 1668.0,472.77 1669.0,472.60 1670.0,472.42 1671.0,472.23 1672.0,472.02 1673.0,471.81 1674.0,471.59 1675.0,471.35 1676.0,471.10 1677.0,470.84 1678.0,470.57 1679.0,470.29 1680.0,469.99 1681.0,469.69 1682.0,469.37 1683.0,469.04 1684.0,468.70 1685.0,468.35 1686.0,467.99 1687.0,467.62 1688.0,467.24 1689.0,466.84 1690.0,466.44 1691.0,466.03 1692.0,465.61 1693.0,465.19 1694.0,464.75 1695.0,464.31 1696.0,463.86 1697.0,463.41 1698.0,462.95 1699.0,462.49 1700.0,462.03 1701.0,461.56 1702.0,461.09 1703.0,460.62 1704.0,460.16 1705.0,459.69 1706.0,459.23 1707.0,458.78 1708.0,458.33 1709.0,457.89 1710.0,457.46 1711.0,457.04 1712.0,456.63 1713.0,456.24 1714.0,455.86 1715.0,455.50 1716.0,455.16 1717.0,454.84 1718.0,454.54 1719.0,454.27 1720.0,454.02 1721.0,453.80 1722.0,453.61 1723.0,453.45 1724.0,453.32 1725.0,453.22 1726.0,453.15 1727.0,453.12 1728.0,453.12 1729.0,453.15 1730.0,453.22 1731.0,453.32 1732.0,453.45 1733.0,453.61 1734.0,453.81 1735.0,454.04 1736.0,454.29 1737.0,454.57 1738.0,454.88 1739.0,455.22 1740.0,455.58 1741.0,455.96 1742.0,456.36 1743.0,456.78 1744.0,457.22 1745.0,457.67 1746.0,458.14 1747.0,458.61 1748.0,459.10 1749.0,459.59 1750.0,460.09 1751.0,460.59 1752.0,461.09 1753.0,461.59 1754.0,462.09 1755.0,462.59 1756.0,463.08 1757.0,463.57 1758.0,464.06 1759.0,464.53 1760.0,465.00 1761.0,465.45 1762.0,465.90 1763.0,466.33 1764.0,466.75 1765.0,467.15 1766.0,467.54 1767.0,467.92 1768.0,468.28 1769.0,468.62 1770.0,468.95 1771.0,469.26 1772.0,469.55 1773.0,469.84 1774.0,470.11 1775.0,470.37 1776.0,470.62 1777.0,470.86 1778.0,471.10 1779.0,471.33 1780.0,471.56 1781.0,471.78 1782.0,472.00 1783.0,472.23 1784.0,472.46 1785.0,472.69 1786.0,472.92 1787.0,473.16 1788.0,473.41 1789.0,473.66 1790.0,473.91 1791.0,474.17 1792.0,474.42 1793.0,474.68 1794.0,474.93 1795.0,475.18 1796.0,475.42 1797.0,475.65 1798.0,475.88 1799.0,476.10 1800.0,476.30 1801.0,476.49 1802.0,476.67 1803.0,476.83 1804.0,476.97 1805.0,477.09 1806.0,477.18 1807.0,477.25 1808.0,477.29 1809.0,477.31 1810.0,477.30 1811.0,477.25 1812.0,477.18 1813.0,477.07 1814.0,476.93 1815.0,476.76 1816.0,476.55 1817.0,476.31 1818.0,476.02 1819.0,475.70 1820.0,475.34 1821.0,474.95 1822.0,474.51 1823.0,474.03 1824.0,473.51 1825.0,472.95 1826.0,472.35 1827.0,471.71 1828.0,471.03 1829.0,470.32 1830.0,469.56 1831.0,468.78 1832.0,467.96 1833.0,467.10 1834.0,466.23 1835.0,465.35 1836.0,464.47 1837.0,463.59 1838.0,462.74 1839.0,461.92 1840.0,461.14 1841.0,460.42 1842.0,459.76 1843.0,459.17 1844.0,458.66 1845.0,458.20 1846.0,457.81 1847.0,457.46 1848.0,457.15 1849.0,456.88 1850.0,456.64 1851.0,456.42 1852.0,456.21 1853.0,456.00 1854.0,455.80 1855.0,455.60 1856.0,455.41 1857.0,455.24 1858.0,455.08 1859.0,454.94 1860.0,454.81 1861.0,454.70 1862.0,454.61 1863.0,454.52 1864.0,454.46 1865.0,454.40 1866.0,454.35 1867.0,454.31 1868.0,454.27 1869.0,454.23 1870.0,454.18 1871.0,454.12 1872.0,454.06 1873.0,453.97 1874.0,453.86 1875.0,453.71 1876.0,453.54 1877.0,453.32 1878.0,453.05 1879.0,452.72 1880.0,452.33 1881.0,451.87 1882.0,451.32 1883.0,450.67 1884.0,449.89 1885.0,448.97 1886.0,447.89 1887.0,446.62 1888.0,445.15 1889.0,443.45 1890.0,441.52 1891.0,439.33 1892.0,436.87 1893.0,434.15 1894.0,431.16 1895.0,427.93 1896.0,424.52 1897.0,420.99 1898.0,417.43 1899.0,413.97 1900.0,410.73 1901.0,407.85 1902.0,405.47 1903.0,403.70 1904.0,402.65 1905.0,402.38 1906.0,402.91 1907.0,404.19 1908.0,406.16 1909.0,408.70 1910.0,411.68 1911.0,414.97 1912.0,418.42 1913.0,421.93 1914.0,425.39 1915.0,428.73 1916.0,431.89 1917.0,434.83 1918.0,437.52 1919.0,439.95 1920.0,442.11 1921.0,444.00 1922.0,445.63 1923.0,447.01 1924.0,448.15 1925.0,449.09 1926.0,449.84 1927.0,450.44 1928.0,450.94 1929.0,451.38 1930.0,451.83 1931.0,452.33 1932.0,452.93 1933.0,453.65 1934.0,454.51 1935.0,455.47 1936.0,456.50 1937.0,457.56 1938.0,458.62 1939.0,459.64 1940.0,460.61 1941.0,461.51 1942.0,462.34 1943.0,463.09 1944.0,463.76 1945.0,464.36 1946.0,464.90 1947.0,465.38 1948.0,465.82 1949.0,466.23 1950.0,466.60 1951.0,466.97 1952.0,467.32 1953.0,467.67 1954.0,468.01 1955.0,468.36 1956.0,468.71 1957.0,469.07 1958.0,469.43 1959.0,469.80 1960.0,470.17 1961.0,470.54 1962.0,470.91 1963.0,471.27 1964.0,471.64 1965.0,472.01 1966.0,472.36 1967.0,472.72 1968.0,473.06 1969.0,473.40 1970.0,473.73 1971.0,474.06 1972.0,474.37 1973.0,474.67 1974.0,474.96 1975.0,475.24 1976.0,475.52 1977.0,475.78 1978.0,476.03 1979.0,476.27 1980.0,476.50 1981.0,476.71 1982.0,476.92 1983.0,477.12 1984.0,477.30 1985.0,477.48 1986.0,477.65 1987.0,477.80 1988.0,477.94 1989.0,478.08 1990.0,478.20 1991.0,478.32 1992.0,478.42 1993.0,478.51 1994.0,478.60 1995.0,478.67 1996.0,478.73 1997.0,478.79 1998.0,478.83 1999.0,478.86 2000.0,478.88 2001.0,478.90 2002.0,478.90" fill="none" stroke="#008000" stroke-width="2.9" stroke-linejoin="round" stroke-linecap="butt"/>
<polyline points="1144.0,519.50 1145.0,519.54 1146.0,519.57 1147.0,519.60 1148.0,519.63 1149.0,519.65 1150.0,519.68 1151.0,519.70 1152.0,519.73 1153.0,519.75 1154.0,519.77 1155.0,519.79 1156.0,519.81 1157.0,519.83 1158.0,519.85 1159.0,519.87 1160.0,519.88 1161.0,519.90 1162.0,519.91 1163.0,519.92 1164.0,519.93 1165.0,519.94 1166.0,519.95 1167.0,519.96 1168.0,519.97 1169.0,519.98 1170.0,519.98 1171.0,519.99 1172.0,519.99 1173.0,520.00 1174.0,520.00 1175.0,520.00 1176.0,520.00 1177.0,520.01 1178.0,520.01 1179.0,520.01 1180.0,520.00 1181.0,520.00 1182.0,520.00 1183.0,520.00 1184.0,519.99 1185.0,519.99 1186.0,519.99 1187.0,519.98 1188.0,519.97 1189.0,519.97 1190.0,519.96 1191.0,519.95 1192.0,519.95 1193.0,519.94 1194.0,519.93 1195.0,519.92 1196.0,519.91 1197.0,519.89 1198.0,519.88 1199.0,519.87 1200.0,519.86 1201.0,519.84 1202.0,519.83 1203.0,519.81 1204.0,519.79 1205.0,519.77 1206.0,519.75 1207.0,519.73 1208.0,519.70 1209.0,519.67 1210.0,519.64 1211.0,519.61 1212.0,519.57 1213.0,519.53 1214.0,519.48 1215.0,519.43 1216.0,519.38 1217.0,519.31 1218.0,519.24 1219.0,519.16 1220.0,519.08 1221.0,518.98 1222.0,518.87 1223.0,518.75 1224.0,518.62 1225.0,518.47 1226.0,518.30 1227.0,518.12 1228.0,517.92 1229.0,517.69 1230.0,517.45 1231.0,517.18 1232.0,516.88 1233.0,516.55 1234.0,516.20 1235.0,515.81 1236.0,515.39 1237.0,514.93 1238.0,514.44 1239.0,513.90 1240.0,513.33 1241.0,512.71 1242.0,512.05 1243.0,511.35 1244.0,510.60 1245.0,509.80 1246.0,508.95 1247.0,508.06 1248.0,507.13 1249.0,506.14 1250.0,505.11 1251.0,504.04 1252.0,502.92 1253.0,501.76 1254.0,500.57 1255.0,499.34 1256.0,498.07 1257.0,496.78 1258.0,495.47 1259.0,494.13 1260.0,492.78 1261.0,491.42 1262.0,490.05 1263.0,488.68 1264.0,487.32 1265.0,485.97 1266.0,484.64 1267.0,483.34 1268.0,482.06 1269.0,480.82 1270.0,479.61 1271.0,478.46 1272.0,477.36 1273.0,476.31 1274.0,475.32 1275.0,474.40 1276.0,473.55 1277.0,472.77 1278.0,472.06 1279.0,471.44 1280.0,470.89 1281.0,470.42 1282.0,470.03 1283.0,469.72 1284.0,469.49 1285.0,469.34 1286.0,469.26 1287.0,469.26 1288.0,469.34 1289.0,469.48 1290.0,469.70 1291.0,469.97 1292.0,470.31 1293.0,470.71 1294.0,471.16 1295.0,471.66 1296.0,472.20 1297.0,472.79 1298.0,473.42 1299.0,474.09 1300.0,474.79 1301.0,475.52 1302.0,476.27 1303.0,477.05 1304.0,477.85 1305.0,478.67 1306.0,479.50 1307.0,480.35 1308.0,481.21 1309.0,482.08 1310.0,482.96 1311.0,483.85 1312.0,484.75 1313.0,485.65 1314.0,486.55 1315.0,487.46 1316.0,488.37 1317.0,489.28 1318.0,490.19 1319.0,491.10 1320.0,492.00 1321.0,492.91 1322.0,493.80 1323.0,494.69 1324.0,495.57 1325.0,496.44 1326.0,497.29 1327.0,498.14 1328.0,498.97 1329.0,499.78 1330.0,500.57 1331.0,501.34 1332.0,502.10 1333.0,502.83 1334.0,503.53 1335.0,504.22 1336.0,504.87 1337.0,505.50 1338.0,506.10 1339.0,506.68 1340.0,507.22 1341.0,507.74 1342.0,508.22 1343.0,508.67 1344.0,509.10 1345.0,509.49 1346.0,509.85 1347.0,510.18 1348.0,510.47 1349.0,510.74 1350.0,510.97 1351.0,511.17 1352.0,511.35 1353.0,511.49 1354.0,511.60 1355.0,511.68 1356.0,511.74 1357.0,511.77 1358.0,511.77 1359.0,511.74 1360.0,511.69 1361.0,511.61 1362.0,511.51 1363.0,511.38 1364.0,511.23 1365.0,511.06 1366.0,510.87 1367.0,510.65 1368.0,510.42 1369.0,510.18 1370.0,509.91 1371.0,509.63 1372.0,509.33 1373.0,509.02 1374.0,508.69 1375.0,508.35 1376.0,508.00 1377.0,507.63 1378.0,507.25 1379.0,506.86 1380.0,506.45 1381.0,506.04 1382.0,505.61 1383.0,505.17 1384.0,504.72 1385.0,504.26 1386.0,503.79 1387.0,503.31 1388.0,502.82 1389.0,502.33 1390.0,501.82 1391.0,501.30 1392.0,500.77 1393.0,500.23 1394.0,499.69 1395.0,499.13 1396.0,498.57 1397.0,498.00 1398.0,497.42 1399.0,496.83 1400.0,496.24 1401.0,495.63 1402.0,495.02 1403.0,494.40 1404.0,493.78 1405.0,493.14 1406.0,492.50 1407.0,491.86 1408.0,491.21 1409.0,490.55 1410.0,489.88 1411.0,489.21 1412.0,488.53 1413.0,487.84 1414.0,487.14 1415.0,486.42 1416.0,485.70 1417.0,484.96 1418.0,484.20 1419.0,483.43 1420.0,482.64 1421.0,481.83 1422.0,481.00 1423.0,480.16 1424.0,479.29 1425.0,478.40 1426.0,477.49 1427.0,476.56 1428.0,475.61 1429.0,474.65 1430.0,473.66 1431.0,472.67 1432.0,471.66 1433.0,470.64 1434.0,469.60 1435.0,468.56 1436.0,467.51 1437.0,466.44 1438.0,465.37 1439.0,464.29 1440.0,463.20 1441.0,462.11 1442.0,461.00 1443.0,459.89 1444.0,458.77 1445.0,457.64 1446.0,456.51 1447.0,455.37 1448.0,454.22 1449.0,453.06 1450.0,451.90 1451.0,450.73 1452.0,449.56 1453.0,448.37 1454.0,447.19 1455.0,445.99 1456.0,444.79 1457.0,443.59 1458.0,442.39 1459.0,441.18 1460.0,439.99 1461.0,438.80 1462.0,437.63 1463.0,436.48 1464.0,435.37 1465.0,434.31 1466.0,433.31 1467.0,432.39 1468.0,431.58 1469.0,430.88 1470.0,430.32 1471.0,429.91 1472.0,429.67 1473.0,429.61 1474.0,429.73 1475.0,430.02 1476.0,430.48 1477.0,431.09 1478.0,431.85 1479.0,432.72 1480.0,433.68 1481.0,434.73 1482.0,435.84 1483.0,436.99 1484.0,438.17 1485.0,439.37 1486.0,440.58 1487.0,441.80 1488.0,443.01 1489.0,444.22 1490.0,445.41 1491.0,446.59 1492.0,447.76 1493.0,448.92 1494.0,450.06 1495.0,451.18 1496.0,452.29 1497.0,453.39 1498.0,454.46 1499.0,455.53 1500.0,456.57 1501.0,457.60 1502.0,458.62 1503.0,459.62 1504.0,460.61 1505.0,461.58 1506.0,462.53 1507.0,463.48 1508.0,464.40 1509.0,465.32 1510.0,466.22 1511.0,467.10 1512.0,467.97 1513.0,468.83 1514.0,469.67 1515.0,470.51 1516.0,471.32 1517.0,472.13 1518.0,472.92 1519.0,473.71 1520.0,474.48 1521.0,475.24 1522.0,475.99 1523.0,476.73 1524.0,477.46 1525.0,478.18 1526.0,478.90 1527.0,479.60 1528.0,480.30 1529.0,480.99 1530.0,481.68 1531.0,482.36 1532.0,483.03 1533.0,483.70 1534.0,484.37 1535.0,485.03 1536.0,485.69 1537.0,486.34 1538.0,486.99 1539.0,487.64 1540.0,488.28 1541.0,488.92 1542.0,489.56 1543.0,490.19 1544.0,490.82 1545.0,491.44 1546.0,492.06 1547.0,492.68 1548.0,493.29 1549.0,493.89 1550.0,494.49 1551.0,495.08 1552.0,495.66 1553.0,496.24 1554.0,496.81 1555.0,497.37 1556.0,497.92 1557.0,498.46 1558.0,499.00 1559.0,499.52 1560.0,500.03 1561.0,500.54 1562.0,501.03 1563.0,501.52 1564.0,501.99 1565.0,502.45 1566.0,502.90 1567.0,503.34 1568.0,503.77 1569.0,504.19 1570.0,504.60 1571.0,505.00 1572.0,505.39 1573.0,505.76 1574.0,506.13 1575.0,506.48 1576.0,506.83 1577.0,507.17 1578.0,507.49 1579.0,507.81 1580.0,508.11 1581.0,508.41 1582.0,508.69 1583.0,508.97 1584.0,509.24 1585.0,509.50 1586.0,509.75 1587.0,509.99 1588.0,510.22 1589.0,510.45 1590.0,510.67 1591.0,510.88 1592.0,511.08 1593.0,511.27 1594.0,511.45 1595.0,511.63 1596.0,511.80 1597.0,511.97 1598.0,512.12 1599.0,512.27 1600.0,512.41 1601.0,512.55 1602.0,512.68 1603.0,512.80 1604.0,512.91 1605.0,513.02 1606.0,513.12 1607.0,513.22 1608.0,513.31 1609.0,513.39 1610.0,513.47 1611.0,513.54 1612.0,513.60 1613.0,513.66 1614.0,513.71 1615.0,513.76 1616.0,513.80 1617.0,513.84 1618.0,513.87 1619.0,513.89 1620.0,513.91 1621.0,513.93 1622.0,513.94 1623.0,513.94 1624.0,513.94 1625.0,513.94 1626.0,513.93 1627.0,513.92 1628.0,513.91 1629.0,513.89 1630.0,513.87 1631.0,513.85 1632.0,513.82 1633.0,513.79 1634.0,513.75 1635.0,513.72 1636.0,513.68 1637.0,513.64 1638.0,513.59 1639.0,513.55 1640.0,513.50 1641.0,513.45 1642.0,513.39 1643.0,513.34 1644.0,513.28 1645.0,513.22 1646.0,513.16 1647.0,513.10 1648.0,513.04 1649.0,512.97 1650.0,512.91 1651.0,512.84 1652.0,512.77 1653.0,512.70 1654.0,512.63 1655.0,512.56 1656.0,512.48 1657.0,512.40 1658.0,512.32 1659.0,512.24 1660.0,512.15 1661.0,512.06 1662.0,511.96 1663.0,511.86 1664.0,511.75 1665.0,511.64 1666.0,511.52 1667.0,511.39 1668.0,511.25 1669.0,511.11 1670.0,510.96 1671.0,510.79 1672.0,510.62 1673.0,510.44 1674.0,510.25 1675.0,510.04 1676.0,509.82 1677.0,509.59 1678.0,509.34 1679.0,509.07 1680.0,508.79 1681.0,508.50 1682.0,508.18 1683.0,507.84 1684.0,507.49 1685.0,507.11 1686.0,506.72 1687.0,506.30 1688.0,505.85 1689.0,505.39 1690.0,504.90 1691.0,504.39 1692.0,503.85 1693.0,503.30 1694.0,502.72 1695.0,502.12 1696.0,501.51 1697.0,500.87 1698.0,500.22 1699.0,499.56 1700.0,498.88 1701.0,498.19 1702.0,497.49 1703.0,496.78 1704.0,496.07 1705.0,495.36 1706.0,494.65 1707.0,493.94 1708.0,493.23 1709.0,492.54 1710.0,491.86 1711.0,491.19 1712.0,490.54 1713.0,489.91 1714.0,489.30 1715.0,488.72 1716.0,488.17 1717.0,487.65 1718.0,487.17 1719.0,486.73 1720.0,486.33 1721.0,485.97 1722.0,485.66 1723.0,485.39 1724.0,485.17 1725.0,485.00 1726.0,484.88 1727.0,484.81 1728.0,484.79 1729.0,484.82 1730.0,484.90 1731.0,485.02 1732.0,485.20 1733.0,485.42 1734.0,485.68 1735.0,485.98 1736.0,486.33 1737.0,486.71 1738.0,487.12 1739.0,487.57 1740.0,488.04 1741.0,488.55 1742.0,489.07 1743.0,489.61 1744.0,490.18 1745.0,490.75 1746.0,491.34 1747.0,491.94 1748.0,492.55 1749.0,493.16 1750.0,493.77 1751.0,494.39 1752.0,495.00 1753.0,495.61 1754.0,496.21 1755.0,496.81 1756.0,497.41 1757.0,497.99 1758.0,498.57 1759.0,499.13 1760.0,499.69 1761.0,500.23 1762.0,500.77 1763.0,501.29 1764.0,501.80 1765.0,502.30 1766.0,502.80 1767.0,503.28 1768.0,503.75 1769.0,504.21 1770.0,504.66 1771.0,505.11 1772.0,505.54 1773.0,505.97 1774.0,506.39 1775.0,506.80 1776.0,507.20 1777.0,507.60 1778.0,507.99 1779.0,508.37 1780.0,508.75 1781.0,509.12 1782.0,509.49 1783.0,509.85 1784.0,510.21 1785.0,510.56 1786.0,510.91 1787.0,511.25 1788.0,511.59 1789.0,511.93 1790.0,512.27 1791.0,512.60 1792.0,512.93 1793.0,513.26 1794.0,513.59 1795.0,513.91 1796.0,514.23 1797.0,514.55 1798.0,514.87 1799.0,515.19 1800.0,515.51 1801.0,515.83 1802.0,516.15 1803.0,516.46 1804.0,516.78 1805.0,517.09 1806.0,517.39 1807.0,517.69 1808.0,517.98 1809.0,518.27 1810.0,518.54 1811.0,518.81 1812.0,519.07 1813.0,519.31 1814.0,519.54 1815.0,519.76 1816.0,519.96 1817.0,520.14 1818.0,520.31 1819.0,520.46 1820.0,520.58 1821.0,520.69 1822.0,520.77 1823.0,520.83 1824.0,520.86 1825.0,520.88 1826.0,520.87 1827.0,520.84 1828.0,520.80 1829.0,520.73 1830.0,520.66 1831.0,520.56 1832.0,520.45 1833.0,520.34 1834.0,520.21 1835.0,520.08 1836.0,519.95 1837.0,519.81 1838.0,519.68 1839.0,519.56 1840.0,519.45 1841.0,519.34 1842.0,519.26 1843.0,519.19 1844.0,519.14 1845.0,519.11 1846.0,519.10 1847.0,519.11 1848.0,519.13 1849.0,519.17 1850.0,519.22 1851.0,519.29 1852.0,519.36 1853.0,519.43 1854.0,519.51 1855.0,519.60 1856.0,519.67 1857.0,519.75 1858.0,519.82 1859.0,519.88 1860.0,519.93 1861.0,519.97 1862.0,520.00 1863.0,520.01 1864.0,520.01 1865.0,520.00 1866.0,519.97 1867.0,519.92 1868.0,519.87 1869.0,519.80 1870.0,519.71 1871.0,519.62 1872.0,519.51 1873.0,519.39 1874.0,519.25 1875.0,519.10 1876.0,518.94 1877.0,518.75 1878.0,518.54 1879.0,518.31 1880.0,518.04 1881.0,517.74 1882.0,517.40 1883.0,517.00 1884.0,516.54 1885.0,516.02 1886.0,515.42 1887.0,514.73 1888.0,513.96 1889.0,513.10 1890.0,512.15 1891.0,511.11 1892.0,509.99 1893.0,508.81 1894.0,507.57 1895.0,506.31 1896.0,505.05 1897.0,503.81 1898.0,502.64 1899.0,501.55 1900.0,500.59 1901.0,499.78 1902.0,499.15 1903.0,498.71 1904.0,498.47 1905.0,498.44 1906.0,498.62 1907.0,498.99 1908.0,499.53 1909.0,500.23 1910.0,501.05 1911.0,501.96 1912.0,502.94 1913.0,503.94 1914.0,504.95 1915.0,505.94 1916.0,506.88 1917.0,507.75 1918.0,508.56 1919.0,509.29 1920.0,509.93 1921.0,510.49 1922.0,510.97 1923.0,511.38 1924.0,511.73 1925.0,512.01 1926.0,512.25 1927.0,512.45 1928.0,512.62 1929.0,512.77 1930.0,512.89 1931.0,513.01 1932.0,513.11 1933.0,513.21 1934.0,513.31 1935.0,513.41 1936.0,513.51 1937.0,513.61 1938.0,513.72 1939.0,513.83 1940.0,513.95 1941.0,514.07 1942.0,514.20 1943.0,514.33 1944.0,514.47 1945.0,514.61 1946.0,514.76 1947.0,514.91 1948.0,515.06 1949.0,515.22 1950.0,515.38 1951.0,515.55 1952.0,515.71 1953.0,515.88 1954.0,516.05 1955.0,516.22 1956.0,516.39 1957.0,516.57 1958.0,516.74 1959.0,516.91 1960.0,517.09 1961.0,517.26 1962.0,517.43 1963.0,517.60 1964.0,517.77 1965.0,517.94 1966.0,518.10 1967.0,518.27 1968.0,518.43 1969.0,518.59 1970.0,518.74 1971.0,518.89 1972.0,519.04 1973.0,519.18 1974.0,519.32 1975.0,519.46 1976.0,519.59 1977.0,519.72 1978.0,519.84 1979.0,519.96 1980.0,520.08 1981.0,520.19 1982.0,520.29 1983.0,520.39 1984.0,520.49 1985.0,520.58 1986.0,520.66 1987.0,520.75 1988.0,520.82 1989.0,520.89 1990.0,520.96 1991.0,521.03 1992.0,521.08 1993.0,521.14 1994.0,521.19 1995.0,521.24 1996.0,521.28 1997.0,521.32 1998.0,521.35 1999.0,521.39 2000.0,521.42 2001.0,521.44 2002.0,521.47" fill="none" stroke="#0000ff" stroke-width="2.9" stroke-linejoin="round" stroke-linecap="butt"/>
<polyline points="1144.0,556.03 1145.0,556.00 1146.0,555.98 1147.0,555.96 1148.0,555.94 1149.0,555.92 1150.0,555.90 1151.0,555.89 1152.0,555.88 1153.0,555.86 1154.0,555.85 1155.0,555.84 1156.0,555.83 1157.0,555.83 1158.0,555.82 1159.0,555.82 1160.0,555.81 1161.0,555.81 1162.0,555.81 1163.0,555.81 1164.0,555.81 1165.0,555.81 1166.0,555.82 1167.0,555.82 1168.0,555.83 1169.0,555.83 1170.0,555.84 1171.0,555.85 1172.0,555.86 1173.0,555.86 1174.0,555.87 1175.0,555.88 1176.0,555.89 1177.0,555.91 1178.0,555.92 1179.0,555.93 1180.0,555.94 1181.0,555.95 1182.0,555.97 1183.0,555.98 1184.0,555.99 1185.0,556.01 1186.0,556.02 1187.0,556.04 1188.0,556.05 1189.0,556.06 1190.0,556.08 1191.0,556.09 1192.0,556.10 1193.0,556.11 1194.0,556.12 1195.0,556.14 1196.0,556.15 1197.0,556.15 1198.0,556.16 1199.0,556.17 1200.0,556.17 1201.0,556.18 1202.0,556.18 1203.0,556.18 1204.0,556.18 1205.0,556.17 1206.0,556.16 1207.0,556.15 1208.0,556.14 1209.0,556.12 1210.0,556.10 1211.0,556.07 1212.0,556.04 1213.0,556.00 1214.0,555.96 1215.0,555.91 1216.0,555.85 1217.0,555.78 1218.0,555.71 1219.0,555.63 1220.0,555.53 1221.0,555.43 1222.0,555.32 1223.0,555.19 1224.0,555.05 1225.0,554.89 1226.0,554.72 1227.0,554.54 1228.0,554.34 1229.0,554.12 1230.0,553.88 1231.0,553.63 1232.0,553.35 1233.0,553.05 1234.0,552.73 1235.0,552.39 1236.0,552.02 1237.0,551.63 1238.0,551.22 1239.0,550.78 1240.0,550.31 1241.0,549.82 1242.0,549.30 1243.0,548.76 1244.0,548.19 1245.0,547.59 1246.0,546.97 1247.0,546.32 1248.0,545.65 1249.0,544.96 1250.0,544.25 1251.0,543.51 1252.0,542.76 1253.0,541.99 1254.0,541.21 1255.0,540.42 1256.0,539.62 1257.0,538.82 1258.0,538.01 1259.0,537.21 1260.0,536.41 1261.0,535.61 1262.0,534.82 1263.0,534.05 1264.0,533.29 1265.0,532.55 1266.0,531.83 1267.0,531.13 1268.0,530.45 1269.0,529.80 1270.0,529.18 1271.0,528.58 1272.0,528.02 1273.0,527.48 1274.0,526.98 1275.0,526.52 1276.0,526.09 1277.0,525.70 1278.0,525.34 1279.0,525.03 1280.0,524.76 1281.0,524.53 1282.0,524.34 1283.0,524.19 1284.0,524.09 1285.0,524.03 1286.0,524.01 1287.0,524.04 1288.0,524.10 1289.0,524.20 1290.0,524.35 1291.0,524.52 1292.0,524.74 1293.0,524.98 1294.0,525.26 1295.0,525.57 1296.0,525.91 1297.0,526.27 1298.0,526.65 1299.0,527.06 1300.0,527.49 1301.0,527.94 1302.0,528.40 1303.0,528.88 1304.0,529.38 1305.0,529.88 1306.0,530.40 1307.0,530.93 1308.0,531.46 1309.0,532.01 1310.0,532.55 1311.0,533.11 1312.0,533.66 1313.0,534.22 1314.0,534.77 1315.0,535.33 1316.0,535.88 1317.0,536.43 1318.0,536.98 1319.0,537.52 1320.0,538.05 1321.0,538.57 1322.0,539.09 1323.0,539.59 1324.0,540.09 1325.0,540.57 1326.0,541.04 1327.0,541.50 1328.0,541.94 1329.0,542.37 1330.0,542.79 1331.0,543.18 1332.0,543.57 1333.0,543.93 1334.0,544.29 1335.0,544.62 1336.0,544.94 1337.0,545.24 1338.0,545.52 1339.0,545.79 1340.0,546.04 1341.0,546.28 1342.0,546.50 1343.0,546.70 1344.0,546.88 1345.0,547.05 1346.0,547.21 1347.0,547.35 1348.0,547.47 1349.0,547.58 1350.0,547.67 1351.0,547.74 1352.0,547.80 1353.0,547.85 1354.0,547.88 1355.0,547.89 1356.0,547.89 1357.0,547.87 1358.0,547.84 1359.0,547.80 1360.0,547.74 1361.0,547.66 1362.0,547.57 1363.0,547.47 1364.0,547.35 1365.0,547.21 1366.0,547.06 1367.0,546.90 1368.0,546.72 1369.0,546.53 1370.0,546.32 1371.0,546.10 1372.0,545.86 1373.0,545.61 1374.0,545.34 1375.0,545.06 1376.0,544.77 1377.0,544.46 1378.0,544.14 1379.0,543.80 1380.0,543.45 1381.0,543.08 1382.0,542.70 1383.0,542.31 1384.0,541.91 1385.0,541.49 1386.0,541.05 1387.0,540.61 1388.0,540.15 1389.0,539.67 1390.0,539.18 1391.0,538.68 1392.0,538.16 1393.0,537.63 1394.0,537.08 1395.0,536.52 1396.0,535.95 1397.0,535.36 1398.0,534.75 1399.0,534.14 1400.0,533.50 1401.0,532.85 1402.0,532.19 1403.0,531.52 1404.0,530.82 1405.0,530.12 1406.0,529.40 1407.0,528.67 1408.0,527.92 1409.0,527.16 1410.0,526.38 1411.0,525.60 1412.0,524.81 1413.0,524.01 1414.0,523.20 1415.0,522.40 1416.0,521.59 1417.0,520.79 1418.0,519.98 1419.0,519.19 1420.0,518.39 1421.0,517.60 1422.0,516.80 1423.0,516.01 1424.0,515.23 1425.0,514.44 1426.0,513.66 1427.0,512.87 1428.0,512.09 1429.0,511.30 1430.0,510.52 1431.0,509.73 1432.0,508.94 1433.0,508.14 1434.0,507.34 1435.0,506.54 1436.0,505.72 1437.0,504.90 1438.0,504.07 1439.0,503.22 1440.0,502.37 1441.0,501.50 1442.0,500.61 1443.0,499.70 1444.0,498.78 1445.0,497.83 1446.0,496.86 1447.0,495.87 1448.0,494.85 1449.0,493.80 1450.0,492.73 1451.0,491.63 1452.0,490.51 1453.0,489.35 1454.0,488.17 1455.0,486.97 1456.0,485.75 1457.0,484.52 1458.0,483.27 1459.0,482.01 1460.0,480.75 1461.0,479.51 1462.0,478.27 1463.0,477.06 1464.0,475.88 1465.0,474.75 1466.0,473.68 1467.0,472.67 1468.0,471.76 1469.0,470.93 1470.0,470.23 1471.0,469.64 1472.0,469.19 1473.0,468.89 1474.0,468.75 1475.0,468.76 1476.0,468.93 1477.0,469.25 1478.0,469.73 1479.0,470.34 1480.0,471.08 1481.0,471.94 1482.0,472.90 1483.0,473.94 1484.0,475.06 1485.0,476.24 1486.0,477.47 1487.0,478.73 1488.0,480.02 1489.0,481.33 1490.0,482.64 1491.0,483.95 1492.0,485.25 1493.0,486.54 1494.0,487.81 1495.0,489.06 1496.0,490.29 1497.0,491.49 1498.0,492.66 1499.0,493.80 1500.0,494.91 1501.0,495.99 1502.0,497.04 1503.0,498.06 1504.0,499.05 1505.0,500.02 1506.0,500.96 1507.0,501.88 1508.0,502.77 1509.0,503.65 1510.0,504.51 1511.0,505.35 1512.0,506.18 1513.0,507.00 1514.0,507.80 1515.0,508.59 1516.0,509.37 1517.0,510.15 1518.0,510.92 1519.0,511.68 1520.0,512.43 1521.0,513.18 1522.0,513.92 1523.0,514.66 1524.0,515.39 1525.0,516.12 1526.0,516.84 1527.0,517.56 1528.0,518.27 1529.0,518.98 1530.0,519.68 1531.0,520.38 1532.0,521.06 1533.0,521.75 1534.0,522.42 1535.0,523.09 1536.0,523.75 1537.0,524.41 1538.0,525.06 1539.0,525.70 1540.0,526.33 1541.0,526.95 1542.0,527.56 1543.0,528.17 1544.0,528.76 1545.0,529.35 1546.0,529.93 1547.0,530.49 1548.0,531.05 1549.0,531.60 1550.0,532.13 1551.0,532.66 1552.0,533.18 1553.0,533.69 1554.0,534.18 1555.0,534.67 1556.0,535.14 1557.0,535.61 1558.0,536.06 1559.0,536.51 1560.0,536.94 1561.0,537.36 1562.0,537.78 1563.0,538.18 1564.0,538.57 1565.0,538.95 1566.0,539.33 1567.0,539.69 1568.0,540.04 1569.0,540.38 1570.0,540.71 1571.0,541.04 1572.0,541.35 1573.0,541.65 1574.0,541.95 1575.0,542.23 1576.0,542.51 1577.0,542.78 1578.0,543.04 1579.0,543.29 1580.0,543.53 1581.0,543.77 1582.0,543.99 1583.0,544.21 1584.0,544.42 1585.0,544.63 1586.0,544.82 1587.0,545.01 1588.0,545.19 1589.0,545.37 1590.0,545.54 1591.0,545.70 1592.0,545.86 1593.0,546.01 1594.0,546.16 1595.0,546.30 1596.0,546.43 1597.0,546.56 1598.0,546.68 1599.0,546.80 1600.0,546.92 1601.0,547.02 1602.0,547.13 1603.0,547.23 1604.0,547.33 1605.0,547.42 1606.0,547.51 1607.0,547.59 1608.0,547.67 1609.0,547.75 1610.0,547.82 1611.0,547.89 1612.0,547.96 1613.0,548.03 1614.0,548.09 1615.0,548.15 1616.0,548.20 1617.0,548.26 1618.0,548.31 1619.0,548.36 1620.0,548.40 1621.0,548.45 1622.0,548.49 1623.0,548.53 1624.0,548.56 1625.0,548.60 1626.0,548.63 1627.0,548.66 1628.0,548.69 1629.0,548.72 1630.0,548.74 1631.0,548.76 1632.0,548.79 1633.0,548.80 1634.0,548.82 1635.0,548.83 1636.0,548.85 1637.0,548.86 1638.0,548.86 1639.0,548.87 1640.0,548.87 1641.0,548.87 1642.0,548.87 1643.0,548.86 1644.0,548.85 1645.0,548.84 1646.0,548.83 1647.0,548.81 1648.0,548.79 1649.0,548.76 1650.0,548.73 1651.0,548.70 1652.0,548.66 1653.0,548.61 1654.0,548.56 1655.0,548.51 1656.0,548.45 1657.0,548.38 1658.0,548.31 1659.0,548.23 1660.0,548.15 1661.0,548.05 1662.0,547.95 1663.0,547.84 1664.0,547.72 1665.0,547.60 1666.0,547.46 1667.0,547.32 1668.0,547.16 1669.0,546.99 1670.0,546.82 1671.0,546.63 1672.0,546.43 1673.0,546.22 1674.0,545.99 1675.0,545.75 1676.0,545.50 1677.0,545.24 1678.0,544.96 1679.0,544.67 1680.0,544.37 1681.0,544.05 1682.0,543.71 1683.0,543.36 1684.0,543.00 1685.0,542.62 1686.0,542.22 1687.0,541.81 1688.0,541.39 1689.0,540.95 1690.0,540.50 1691.0,540.03 1692.0,539.54 1693.0,539.05 1694.0,538.54 1695.0,538.01 1696.0,537.48 1697.0,536.93 1698.0,536.37 1699.0,535.80 1700.0,535.22 1701.0,534.64 1702.0,534.04 1703.0,533.44 1704.0,532.84 1705.0,532.23 1706.0,531.63 1707.0,531.02 1708.0,530.42 1709.0,529.82 1710.0,529.22 1711.0,528.64 1712.0,528.07 1713.0,527.51 1714.0,526.97 1715.0,526.45 1716.0,525.96 1717.0,525.49 1718.0,525.04 1719.0,524.63 1720.0,524.26 1721.0,523.92 1722.0,523.62 1723.0,523.36 1724.0,523.14 1725.0,522.97 1726.0,522.85 1727.0,522.77 1728.0,522.74 1729.0,522.76 1730.0,522.83 1731.0,522.94 1732.0,523.10 1733.0,523.31 1734.0,523.55 1735.0,523.84 1736.0,524.16 1737.0,524.51 1738.0,524.90 1739.0,525.32 1740.0,525.76 1741.0,526.23 1742.0,526.72 1743.0,527.22 1744.0,527.74 1745.0,528.27 1746.0,528.81 1747.0,529.35 1748.0,529.90 1749.0,530.45 1750.0,531.00 1751.0,531.55 1752.0,532.10 1753.0,532.64 1754.0,533.17 1755.0,533.70 1756.0,534.22 1757.0,534.73 1758.0,535.24 1759.0,535.73 1760.0,536.21 1761.0,536.68 1762.0,537.14 1763.0,537.60 1764.0,538.04 1765.0,538.47 1766.0,538.89 1767.0,539.31 1768.0,539.71 1769.0,540.11 1770.0,540.50 1771.0,540.89 1772.0,541.27 1773.0,541.64 1774.0,542.01 1775.0,542.38 1776.0,542.74 1777.0,543.11 1778.0,543.47 1779.0,543.83 1780.0,544.19 1781.0,544.54 1782.0,544.90 1783.0,545.26 1784.0,545.62 1785.0,545.98 1786.0,546.34 1787.0,546.70 1788.0,547.06 1789.0,547.42 1790.0,547.77 1791.0,548.13 1792.0,548.48 1793.0,548.83 1794.0,549.18 1795.0,549.53 1796.0,549.87 1797.0,550.21 1798.0,550.54 1799.0,550.87 1800.0,551.20 1801.0,551.52 1802.0,551.83 1803.0,552.14 1804.0,552.44 1805.0,552.73 1806.0,553.02 1807.0,553.30 1808.0,553.57 1809.0,553.83 1810.0,554.09 1811.0,554.34 1812.0,554.58 1813.0,554.82 1814.0,555.05 1815.0,555.26 1816.0,555.47 1817.0,555.67 1818.0,555.87 1819.0,556.05 1820.0,556.22 1821.0,556.39 1822.0,556.54 1823.0,556.68 1824.0,556.82 1825.0,556.94 1826.0,557.05 1827.0,557.14 1828.0,557.23 1829.0,557.30 1830.0,557.36 1831.0,557.41 1832.0,557.44 1833.0,557.47 1834.0,557.49 1835.0,557.50 1836.0,557.50 1837.0,557.50 1838.0,557.50 1839.0,557.49 1840.0,557.49 1841.0,557.49 1842.0,557.50 1843.0,557.51 1844.0,557.53 1845.0,557.56 1846.0,557.60 1847.0,557.65 1848.0,557.71 1849.0,557.78 1850.0,557.86 1851.0,557.94 1852.0,558.04 1853.0,558.13 1854.0,558.23 1855.0,558.33 1856.0,558.42 1857.0,558.52 1858.0,558.61 1859.0,558.69 1860.0,558.76 1861.0,558.83 1862.0,558.88 1863.0,558.93 1864.0,558.97 1865.0,558.99 1866.0,559.01 1867.0,559.01 1868.0,559.01 1869.0,559.00 1870.0,558.98 1871.0,558.95 1872.0,558.91 1873.0,558.86 1874.0,558.80 1875.0,558.73 1876.0,558.65 1877.0,558.56 1878.0,558.44 1879.0,558.31 1880.0,558.16 1881.0,557.97 1882.0,557.75 1883.0,557.49 1884.0,557.19 1885.0,556.83 1886.0,556.40 1887.0,555.91 1888.0,555.35 1889.0,554.72 1890.0,554.01 1891.0,553.24 1892.0,552.40 1893.0,551.50 1894.0,550.57 1895.0,549.62 1896.0,548.67 1897.0,547.75 1898.0,546.88 1899.0,546.09 1900.0,545.39 1901.0,544.82 1902.0,544.38 1903.0,544.09 1904.0,543.96 1905.0,543.97 1906.0,544.12 1907.0,544.40 1908.0,544.80 1909.0,545.28 1910.0,545.83 1911.0,546.42 1912.0,547.03 1913.0,547.64 1914.0,548.23 1915.0,548.78 1916.0,549.29 1917.0,549.75 1918.0,550.15 1919.0,550.50 1920.0,550.79 1921.0,551.04 1922.0,551.24 1923.0,551.42 1924.0,551.56 1925.0,551.68 1926.0,551.79 1927.0,551.89 1928.0,551.99 1929.0,552.08 1930.0,552.17 1931.0,552.27 1932.0,552.37 1933.0,552.48 1934.0,552.59 1935.0,552.71 1936.0,552.83 1937.0,552.95 1938.0,553.08 1939.0,553.21 1940.0,553.34 1941.0,553.47 1942.0,553.60 1943.0,553.73 1944.0,553.86 1945.0,553.99 1946.0,554.11 1947.0,554.24 1948.0,554.36 1949.0,554.48 1950.0,554.60 1951.0,554.72 1952.0,554.83 1953.0,554.94 1954.0,555.05 1955.0,555.16 1956.0,555.27 1957.0,555.37 1958.0,555.47 1959.0,555.57 1960.0,555.67 1961.0,555.77 1962.0,555.87 1963.0,555.96 1964.0,556.05 1965.0,556.14 1966.0,556.24 1967.0,556.32 1968.0,556.41 1969.0,556.50 1970.0,556.59 1971.0,556.67 1972.0,556.76 1973.0,556.84 1974.0,556.92 1975.0,557.00 1976.0,557.08 1977.0,557.16 1978.0,557.24 1979.0,557.32 1980.0,557.40 1981.0,557.48 1982.0,557.55 1983.0,557.63 1984.0,557.70 1985.0,557.77 1986.0,557.85 1987.0,557.92 1988.0,557.99 1989.0,558.06 1990.0,558.12 1991.0,558.19 1992.0,558.26 1993.0,558.32 1994.0,558.39 1995.0,558.45 1996.0,558.51 1997.0,558.57 1998.0,558.63 1999.0,558.68 2000.0,558.74 2001.0,558.79 2002.0,558.84" fill="none" stroke="#ff0000" stroke-width="2.9" stroke-linejoin="round" stroke-linecap="butt"/>
<polyline points="1144.0,586.83 1145.0,586.84 1146.0,586.85 1147.0,586.86 1148.0,586.87 1149.0,586.87 1150.0,586.88 1151.0,586.89 1152.0,586.90 1153.0,586.91 1154.0,586.91 1155.0,586.92 1156.0,586.93 1157.0,586.93 1158.0,586.94 1159.0,586.95 1160.0,586.95 1161.0,586.96 1162.0,586.97 1163.0,586.97 1164.0,586.98 1165.0,586.98 1166.0,586.99 1167.0,586.99 1168.0,587.00 1169.0,587.00 1170.0,587.01 1171.0,587.01 1172.0,587.02 1173.0,587.02 1174.0,587.02 1175.0,587.03 1176.0,587.03 1177.0,587.03 1178.0,587.03 1179.0,587.04 1180.0,587.04 1181.0,587.04 1182.0,587.04 1183.0,587.04 1184.0,587.04 1185.0,587.04 1186.0,587.04 1187.0,587.04 1188.0,587.03 1189.0,587.03 1190.0,587.03 1191.0,587.02 1192.0,587.02 1193.0,587.01 1194.0,587.01 1195.0,587.00 1196.0,586.99 1197.0,586.99 1198.0,586.98 1199.0,586.97 1200.0,586.95 1201.0,586.94 1202.0,586.93 1203.0,586.91 1204.0,586.89 1205.0,586.88 1206.0,586.86 1207.0,586.83 1208.0,586.81 1209.0,586.78 1210.0,586.76 1211.0,586.73 1212.0,586.69 1213.0,586.66 1214.0,586.62 1215.0,586.58 1216.0,586.53 1217.0,586.48 1218.0,586.43 1219.0,586.37 1220.0,586.31 1221.0,586.24 1222.0,586.17 1223.0,586.10 1224.0,586.02 1225.0,585.93 1226.0,585.83 1227.0,585.73 1228.0,585.62 1229.0,585.50 1230.0,585.37 1231.0,585.24 1232.0,585.09 1233.0,584.93 1234.0,584.76 1235.0,584.57 1236.0,584.37 1237.0,584.16 1238.0,583.93 1239.0,583.68 1240.0,583.41 1241.0,583.12 1242.0,582.81 1243.0,582.48 1244.0,582.12 1245.0,581.75 1246.0,581.34 1247.0,580.92 1248.0,580.47 1249.0,579.99 1250.0,579.49 1251.0,578.97 1252.0,578.43 1253.0,577.87 1254.0,577.30 1255.0,576.71 1256.0,576.11 1257.0,575.50 1258.0,574.89 1259.0,574.27 1260.0,573.66 1261.0,573.06 1262.0,572.47 1263.0,571.90 1264.0,571.34 1265.0,570.81 1266.0,570.30 1267.0,569.82 1268.0,569.37 1269.0,568.95 1270.0,568.56 1271.0,568.20 1272.0,567.88 1273.0,567.59 1274.0,567.34 1275.0,567.11 1276.0,566.92 1277.0,566.75 1278.0,566.61 1279.0,566.49 1280.0,566.39 1281.0,566.32 1282.0,566.27 1283.0,566.23 1284.0,566.21 1285.0,566.21 1286.0,566.22 1287.0,566.25 1288.0,566.29 1289.0,566.35 1290.0,566.42 1291.0,566.51 1292.0,566.62 1293.0,566.74 1294.0,566.87 1295.0,567.03 1296.0,567.20 1297.0,567.39 1298.0,567.59 1299.0,567.81 1300.0,568.05 1301.0,568.30 1302.0,568.57 1303.0,568.86 1304.0,569.15 1305.0,569.47 1306.0,569.79 1307.0,570.12 1308.0,570.47 1309.0,570.82 1310.0,571.18 1311.0,571.54 1312.0,571.91 1313.0,572.29 1314.0,572.66 1315.0,573.04 1316.0,573.42 1317.0,573.79 1318.0,574.17 1319.0,574.54 1320.0,574.90 1321.0,575.26 1322.0,575.62 1323.0,575.96 1324.0,576.30 1325.0,576.63 1326.0,576.96 1327.0,577.27 1328.0,577.57 1329.0,577.85 1330.0,578.13 1331.0,578.40 1332.0,578.65 1333.0,578.89 1334.0,579.11 1335.0,579.33 1336.0,579.52 1337.0,579.71 1338.0,579.88 1339.0,580.03 1340.0,580.17 1341.0,580.30 1342.0,580.41 1343.0,580.50 1344.0,580.58 1345.0,580.65 1346.0,580.70 1347.0,580.74 1348.0,580.76 1349.0,580.76 1350.0,580.76 1351.0,580.73 1352.0,580.69 1353.0,580.64 1354.0,580.57 1355.0,580.49 1356.0,580.40 1357.0,580.29 1358.0,580.16 1359.0,580.02 1360.0,579.87 1361.0,579.70 1362.0,579.52 1363.0,579.33 1364.0,579.12 1365.0,578.90 1366.0,578.66 1367.0,578.41 1368.0,578.15 1369.0,577.87 1370.0,577.58 1371.0,577.27 1372.0,576.96 1373.0,576.62 1374.0,576.28 1375.0,575.92 1376.0,575.54 1377.0,575.16 1378.0,574.76 1379.0,574.34 1380.0,573.91 1381.0,573.47 1382.0,573.01 1383.0,572.55 1384.0,572.06 1385.0,571.57 1386.0,571.06 1387.0,570.53 1388.0,569.99 1389.0,569.44 1390.0,568.88 1391.0,568.30 1392.0,567.71 1393.0,567.11 1394.0,566.49 1395.0,565.87 1396.0,565.22 1397.0,564.57 1398.0,563.91 1399.0,563.23 1400.0,562.54 1401.0,561.84 1402.0,561.12 1403.0,560.40 1404.0,559.67 1405.0,558.92 1406.0,558.17 1407.0,557.40 1408.0,556.63 1409.0,555.84 1410.0,555.05 1411.0,554.25 1412.0,553.44 1413.0,552.62 1414.0,551.80 1415.0,550.96 1416.0,550.12 1417.0,549.28 1418.0,548.42 1419.0,547.56 1420.0,546.70 1421.0,545.82 1422.0,544.94 1423.0,544.06 1424.0,543.17 1425.0,542.27 1426.0,541.37 1427.0,540.46 1428.0,539.54 1429.0,538.62 1430.0,537.69 1431.0,536.76 1432.0,535.81 1433.0,534.86 1434.0,533.91 1435.0,532.94 1436.0,531.96 1437.0,530.98 1438.0,529.99 1439.0,528.98 1440.0,527.97 1441.0,526.95 1442.0,525.91 1443.0,524.87 1444.0,523.82 1445.0,522.76 1446.0,521.68 1447.0,520.61 1448.0,519.52 1449.0,518.43 1450.0,517.34 1451.0,516.24 1452.0,515.14 1453.0,514.05 1454.0,512.96 1455.0,511.88 1456.0,510.82 1457.0,509.77 1458.0,508.74 1459.0,507.74 1460.0,506.77 1461.0,505.84 1462.0,504.96 1463.0,504.13 1464.0,503.36 1465.0,502.66 1466.0,502.04 1467.0,501.51 1468.0,501.07 1469.0,500.74 1470.0,500.52 1471.0,500.41 1472.0,500.42 1473.0,500.55 1474.0,500.81 1475.0,501.18 1476.0,501.67 1477.0,502.27 1478.0,502.97 1479.0,503.77 1480.0,504.65 1481.0,505.61 1482.0,506.63 1483.0,507.71 1484.0,508.84 1485.0,510.01 1486.0,511.21 1487.0,512.43 1488.0,513.67 1489.0,514.92 1490.0,516.18 1491.0,517.44 1492.0,518.69 1493.0,519.93 1494.0,521.16 1495.0,522.38 1496.0,523.58 1497.0,524.77 1498.0,525.93 1499.0,527.07 1500.0,528.19 1501.0,529.28 1502.0,530.35 1503.0,531.40 1504.0,532.43 1505.0,533.43 1506.0,534.41 1507.0,535.36 1508.0,536.29 1509.0,537.21 1510.0,538.10 1511.0,538.97 1512.0,539.82 1513.0,540.66 1514.0,541.48 1515.0,542.28 1516.0,543.07 1517.0,543.85 1518.0,544.61 1519.0,545.36 1520.0,546.10 1521.0,546.83 1522.0,547.54 1523.0,548.25 1524.0,548.94 1525.0,549.63 1526.0,550.31 1527.0,550.98 1528.0,551.65 1529.0,552.30 1530.0,552.95 1531.0,553.59 1532.0,554.22 1533.0,554.84 1534.0,555.46 1535.0,556.07 1536.0,556.67 1537.0,557.27 1538.0,557.85 1539.0,558.43 1540.0,559.00 1541.0,559.57 1542.0,560.13 1543.0,560.67 1544.0,561.21 1545.0,561.75 1546.0,562.27 1547.0,562.79 1548.0,563.30 1549.0,563.80 1550.0,564.29 1551.0,564.77 1552.0,565.25 1553.0,565.71 1554.0,566.17 1555.0,566.62 1556.0,567.06 1557.0,567.49 1558.0,567.92 1559.0,568.33 1560.0,568.74 1561.0,569.14 1562.0,569.53 1563.0,569.91 1564.0,570.28 1565.0,570.65 1566.0,571.00 1567.0,571.35 1568.0,571.69 1569.0,572.03 1570.0,572.35 1571.0,572.67 1572.0,572.98 1573.0,573.28 1574.0,573.57 1575.0,573.86 1576.0,574.14 1577.0,574.41 1578.0,574.67 1579.0,574.93 1580.0,575.18 1581.0,575.42 1582.0,575.66 1583.0,575.89 1584.0,576.11 1585.0,576.33 1586.0,576.54 1587.0,576.74 1588.0,576.94 1589.0,577.13 1590.0,577.32 1591.0,577.50 1592.0,577.67 1593.0,577.84 1594.0,578.00 1595.0,578.16 1596.0,578.31 1597.0,578.46 1598.0,578.60 1599.0,578.73 1600.0,578.86 1601.0,578.99 1602.0,579.11 1603.0,579.22 1604.0,579.33 1605.0,579.44 1606.0,579.54 1607.0,579.63 1608.0,579.73 1609.0,579.81 1610.0,579.89 1611.0,579.97 1612.0,580.04 1613.0,580.11 1614.0,580.18 1615.0,580.23 1616.0,580.29 1617.0,580.34 1618.0,580.39 1619.0,580.43 1620.0,580.47 1621.0,580.50 1622.0,580.53 1623.0,580.55 1624.0,580.58 1625.0,580.59 1626.0,580.61 1627.0,580.61 1628.0,580.62 1629.0,580.62 1630.0,580.61 1631.0,580.61 1632.0,580.59 1633.0,580.58 1634.0,580.56 1635.0,580.53 1636.0,580.50 1637.0,580.47 1638.0,580.43 1639.0,580.39 1640.0,580.34 1641.0,580.29 1642.0,580.24 1643.0,580.18 1644.0,580.12 1645.0,580.05 1646.0,579.98 1647.0,579.90 1648.0,579.82 1649.0,579.74 1650.0,579.65 1651.0,579.55 1652.0,579.45 1653.0,579.35 1654.0,579.24 1655.0,579.13 1656.0,579.01 1657.0,578.89 1658.0,578.77 1659.0,578.63 1660.0,578.50 1661.0,578.35 1662.0,578.21 1663.0,578.05 1664.0,577.90 1665.0,577.73 1666.0,577.56 1667.0,577.39 1668.0,577.21 1669.0,577.02 1670.0,576.82 1671.0,576.62 1672.0,576.41 1673.0,576.20 1674.0,575.97 1675.0,575.74 1676.0,575.50 1677.0,575.25 1678.0,574.99 1679.0,574.72 1680.0,574.44 1681.0,574.14 1682.0,573.84 1683.0,573.52 1684.0,573.19 1685.0,572.84 1686.0,572.49 1687.0,572.11 1688.0,571.72 1689.0,571.32 1690.0,570.89 1691.0,570.45 1692.0,570.00 1693.0,569.52 1694.0,569.03 1695.0,568.52 1696.0,568.00 1697.0,567.45 1698.0,566.89 1699.0,566.32 1700.0,565.73 1701.0,565.12 1702.0,564.51 1703.0,563.88 1704.0,563.25 1705.0,562.61 1706.0,561.97 1707.0,561.32 1708.0,560.68 1709.0,560.04 1710.0,559.40 1711.0,558.78 1712.0,558.17 1713.0,557.58 1714.0,557.01 1715.0,556.46 1716.0,555.93 1717.0,555.44 1718.0,554.98 1719.0,554.55 1720.0,554.16 1721.0,553.82 1722.0,553.51 1723.0,553.24 1724.0,553.03 1725.0,552.85 1726.0,552.73 1727.0,552.65 1728.0,552.61 1729.0,552.63 1730.0,552.69 1731.0,552.79 1732.0,552.94 1733.0,553.12 1734.0,553.35 1735.0,553.62 1736.0,553.92 1737.0,554.25 1738.0,554.61 1739.0,555.01 1740.0,555.42 1741.0,555.86 1742.0,556.31 1743.0,556.79 1744.0,557.27 1745.0,557.77 1746.0,558.28 1747.0,558.79 1748.0,559.31 1749.0,559.84 1750.0,560.36 1751.0,560.89 1752.0,561.41 1753.0,561.93 1754.0,562.45 1755.0,562.96 1756.0,563.47 1757.0,563.97 1758.0,564.47 1759.0,564.96 1760.0,565.45 1761.0,565.93 1762.0,566.40 1763.0,566.87 1764.0,567.33 1765.0,567.79 1766.0,568.24 1767.0,568.69 1768.0,569.13 1769.0,569.56 1770.0,569.99 1771.0,570.42 1772.0,570.84 1773.0,571.26 1774.0,571.67 1775.0,572.08 1776.0,572.49 1777.0,572.89 1778.0,573.29 1779.0,573.69 1780.0,574.08 1781.0,574.47 1782.0,574.86 1783.0,575.24 1784.0,575.62 1785.0,575.99 1786.0,576.36 1787.0,576.73 1788.0,577.10 1789.0,577.46 1790.0,577.81 1791.0,578.16 1792.0,578.51 1793.0,578.86 1794.0,579.20 1795.0,579.53 1796.0,579.86 1797.0,580.19 1798.0,580.51 1799.0,580.83 1800.0,581.14 1801.0,581.45 1802.0,581.75 1803.0,582.05 1804.0,582.35 1805.0,582.64 1806.0,582.92 1807.0,583.20 1808.0,583.48 1809.0,583.75 1810.0,584.01 1811.0,584.27 1812.0,584.53 1813.0,584.78 1814.0,585.02 1815.0,585.26 1816.0,585.49 1817.0,585.72 1818.0,585.94 1819.0,586.16 1820.0,586.37 1821.0,586.57 1822.0,586.76 1823.0,586.95 1824.0,587.13 1825.0,587.30 1826.0,587.46 1827.0,587.61 1828.0,587.75 1829.0,587.87 1830.0,587.99 1831.0,588.10 1832.0,588.20 1833.0,588.28 1834.0,588.36 1835.0,588.42 1836.0,588.48 1837.0,588.53 1838.0,588.57 1839.0,588.61 1840.0,588.65 1841.0,588.69 1842.0,588.73 1843.0,588.77 1844.0,588.82 1845.0,588.88 1846.0,588.94 1847.0,589.01 1848.0,589.09 1849.0,589.18 1850.0,589.29 1851.0,589.40 1852.0,589.51 1853.0,589.64 1854.0,589.76 1855.0,589.89 1856.0,590.03 1857.0,590.16 1858.0,590.28 1859.0,590.40 1860.0,590.52 1861.0,590.62 1862.0,590.72 1863.0,590.80 1864.0,590.87 1865.0,590.93 1866.0,590.98 1867.0,591.01 1868.0,591.02 1869.0,591.03 1870.0,591.01 1871.0,590.98 1872.0,590.94 1873.0,590.87 1874.0,590.79 1875.0,590.69 1876.0,590.58 1877.0,590.44 1878.0,590.27 1879.0,590.09 1880.0,589.88 1881.0,589.64 1882.0,589.37 1883.0,589.07 1884.0,588.73 1885.0,588.36 1886.0,587.95 1887.0,587.50 1888.0,587.02 1889.0,586.49 1890.0,585.92 1891.0,585.31 1892.0,584.66 1893.0,583.99 1894.0,583.29 1895.0,582.57 1896.0,581.85 1897.0,581.15 1898.0,580.48 1899.0,579.86 1900.0,579.33 1901.0,578.89 1902.0,578.58 1903.0,578.40 1904.0,578.35 1905.0,578.44 1906.0,578.64 1907.0,578.95 1908.0,579.33 1909.0,579.76 1910.0,580.22 1911.0,580.69 1912.0,581.16 1913.0,581.60 1914.0,582.01 1915.0,582.39 1916.0,582.72 1917.0,583.00 1918.0,583.24 1919.0,583.44 1920.0,583.58 1921.0,583.68 1922.0,583.74 1923.0,583.76 1924.0,583.75 1925.0,583.71 1926.0,583.65 1927.0,583.58 1928.0,583.50 1929.0,583.43 1930.0,583.37 1931.0,583.33 1932.0,583.31 1933.0,583.31 1934.0,583.35 1935.0,583.42 1936.0,583.52 1937.0,583.64 1938.0,583.78 1939.0,583.94 1940.0,584.11 1941.0,584.28 1942.0,584.46 1943.0,584.63 1944.0,584.79 1945.0,584.95 1946.0,585.10 1947.0,585.24 1948.0,585.37 1949.0,585.49 1950.0,585.60 1951.0,585.70 1952.0,585.80 1953.0,585.88 1954.0,585.96 1955.0,586.02 1956.0,586.09 1957.0,586.14 1958.0,586.20 1959.0,586.24 1960.0,586.29 1961.0,586.33 1962.0,586.37 1963.0,586.40 1964.0,586.43 1965.0,586.47 1966.0,586.50 1967.0,586.53 1968.0,586.56 1969.0,586.59 1970.0,586.62 1971.0,586.65 1972.0,586.68 1973.0,586.71 1974.0,586.75 1975.0,586.78 1976.0,586.82 1977.0,586.86 1978.0,586.90 1979.0,586.94 1980.0,586.98 1981.0,587.03 1982.0,587.08 1983.0,587.13 1984.0,587.18 1985.0,587.24 1986.0,587.29 1987.0,587.35 1988.0,587.42 1989.0,587.48 1990.0,587.55 1991.0,587.62 1992.0,587.70 1993.0,587.78 1994.0,587.86 1995.0,587.94 1996.0,588.03 1997.0,588.12 1998.0,588.21 1999.0,588.30 2000.0,588.40 2001.0,588.50 2002.0,588.61" fill="none" stroke="#808000" stroke-width="2.9" stroke-linejoin="round" stroke-linecap="butt"/>
<polyline points="1144.0,623.85 1145.0,623.87 1146.0,623.89 1147.0,623.92 1148.0,623.94 1149.0,623.96 1150.0,623.99 1151.0,624.01 1152.0,624.03 1153.0,624.06 1154.0,624.08 1155.0,624.10 1156.0,624.13 1157.0,624.15 1158.0,624.17 1159.0,624.20 1160.0,624.22 1161.0,624.24 1162.0,624.26 1163.0,624.29 1164.0,624.31 1165.0,624.33 1166.0,624.35 1167.0,624.37 1168.0,624.39 1169.0,624.42 1170.0,624.44 1171.0,624.46 1172.0,624.48 1173.0,624.50 1174.0,624.52 1175.0,624.54 1176.0,624.56 1177.0,624.57 1178.0,624.59 1179.0,624.61 1180.0,624.63 1181.0,624.64 1182.0,624.66 1183.0,624.68 1184.0,624.69 1185.0,624.71 1186.0,624.72 1187.0,624.74 1188.0,624.75 1189.0,624.76 1190.0,624.77 1191.0,624.78 1192.0,624.79 1193.0,624.80 1194.0,624.81 1195.0,624.82 1196.0,624.83 1197.0,624.83 1198.0,624.84 1199.0,624.84 1200.0,624.84 1201.0,624.84 1202.0,624.84 1203.0,624.84 1204.0,624.84 1205.0,624.84 1206.0,624.83 1207.0,624.82 1208.0,624.82 1209.0,624.81 1210.0,624.80 1211.0,624.78 1212.0,624.77 1213.0,624.75 1214.0,624.73 1215.0,624.71 1216.0,624.69 1217.0,624.67 1218.0,624.64 1219.0,624.61 1220.0,624.58 1221.0,624.55 1222.0,624.51 1223.0,624.47 1224.0,624.43 1225.0,624.39 1226.0,624.35 1227.0,624.30 1228.0,624.25 1229.0,624.20 1230.0,624.14 1231.0,624.08 1232.0,624.02 1233.0,623.96 1234.0,623.89 1235.0,623.82 1236.0,623.75 1237.0,623.68 1238.0,623.60 1239.0,623.52 1240.0,623.44 1241.0,623.36 1242.0,623.27 1243.0,623.18 1244.0,623.09 1245.0,623.00 1246.0,622.90 1247.0,622.80 1248.0,622.70 1249.0,622.60 1250.0,622.50 1251.0,622.40 1252.0,622.29 1253.0,622.18 1254.0,622.08 1255.0,621.97 1256.0,621.86 1257.0,621.76 1258.0,621.65 1259.0,621.54 1260.0,621.44 1261.0,621.33 1262.0,621.23 1263.0,621.13 1264.0,621.03 1265.0,620.94 1266.0,620.84 1267.0,620.76 1268.0,620.67 1269.0,620.59 1270.0,620.51 1271.0,620.44 1272.0,620.37 1273.0,620.30 1274.0,620.25 1275.0,620.19 1276.0,620.15 1277.0,620.10 1278.0,620.07 1279.0,620.04 1280.0,620.02 1281.0,620.00 1282.0,619.99 1283.0,619.99 1284.0,619.99 1285.0,620.00 1286.0,620.02 1287.0,620.04 1288.0,620.06 1289.0,620.10 1290.0,620.14 1291.0,620.18 1292.0,620.23 1293.0,620.28 1294.0,620.34 1295.0,620.40 1296.0,620.47 1297.0,620.54 1298.0,620.61 1299.0,620.69 1300.0,620.77 1301.0,620.85 1302.0,620.94 1303.0,621.02 1304.0,621.11 1305.0,621.20 1306.0,621.29 1307.0,621.38 1308.0,621.46 1309.0,621.55 1310.0,621.64 1311.0,621.73 1312.0,621.82 1313.0,621.90 1314.0,621.99 1315.0,622.07 1316.0,622.15 1317.0,622.23 1318.0,622.30 1319.0,622.37 1320.0,622.44 1321.0,622.51 1322.0,622.57 1323.0,622.62 1324.0,622.67 1325.0,622.72 1326.0,622.76 1327.0,622.80 1328.0,622.83 1329.0,622.85 1330.0,622.87 1331.0,622.88 1332.0,622.88 1333.0,622.88 1334.0,622.87 1335.0,622.86 1336.0,622.83 1337.0,622.80 1338.0,622.76 1339.0,622.71 1340.0,622.65 1341.0,622.58 1342.0,622.51 1343.0,622.42 1344.0,622.33 1345.0,622.22 1346.0,622.11 1347.0,621.98 1348.0,621.85 1349.0,621.70 1350.0,621.55 1351.0,621.38 1352.0,621.20 1353.0,621.01 1354.0,620.81 1355.0,620.60 1356.0,620.38 1357.0,620.14 1358.0,619.89 1359.0,619.63 1360.0,619.36 1361.0,619.08 1362.0,618.78 1363.0,618.47 1364.0,618.15 1365.0,617.81 1366.0,617.47 1367.0,617.11 1368.0,616.74 1369.0,616.35 1370.0,615.95 1371.0,615.54 1372.0,615.12 1373.0,614.68 1374.0,614.23 1375.0,613.77 1376.0,613.30 1377.0,612.81 1378.0,612.31 1379.0,611.80 1380.0,611.27 1381.0,610.73 1382.0,610.18 1383.0,609.62 1384.0,609.04 1385.0,608.46 1386.0,607.86 1387.0,607.25 1388.0,606.62 1389.0,605.99 1390.0,605.34 1391.0,604.69 1392.0,604.02 1393.0,603.34 1394.0,602.66 1395.0,601.96 1396.0,601.25 1397.0,600.54 1398.0,599.81 1399.0,599.08 1400.0,598.33 1401.0,597.58 1402.0,596.83 1403.0,596.06 1404.0,595.29 1405.0,594.51 1406.0,593.72 1407.0,592.93 1408.0,592.14 1409.0,591.33 1410.0,590.53 1411.0,589.72 1412.0,588.91 1413.0,588.09 1414.0,587.27 1415.0,586.45 1416.0,585.63 1417.0,584.81 1418.0,583.99 1419.0,583.16 1420.0,582.34 1421.0,581.52 1422.0,580.70 1423.0,579.88 1424.0,579.06 1425.0,578.25 1426.0,577.43 1427.0,576.62 1428.0,575.81 1429.0,575.01 1430.0,574.20 1431.0,573.39 1432.0,572.59 1433.0,571.78 1434.0,570.97 1435.0,570.16 1436.0,569.34 1437.0,568.52 1438.0,567.69 1439.0,566.84 1440.0,565.99 1441.0,565.12 1442.0,564.23 1443.0,563.32 1444.0,562.39 1445.0,561.43 1446.0,560.45 1447.0,559.43 1448.0,558.38 1449.0,557.30 1450.0,556.19 1451.0,555.05 1452.0,553.87 1453.0,552.66 1454.0,551.43 1455.0,550.17 1456.0,548.90 1457.0,547.62 1458.0,546.33 1459.0,545.05 1460.0,543.78 1461.0,542.53 1462.0,541.33 1463.0,540.17 1464.0,539.07 1465.0,538.05 1466.0,537.11 1467.0,536.27 1468.0,535.55 1469.0,534.95 1470.0,534.48 1471.0,534.15 1472.0,533.97 1473.0,533.95 1474.0,534.07 1475.0,534.35 1476.0,534.77 1477.0,535.34 1478.0,536.04 1479.0,536.86 1480.0,537.80 1481.0,538.83 1482.0,539.95 1483.0,541.14 1484.0,542.39 1485.0,543.69 1486.0,545.01 1487.0,546.36 1488.0,547.72 1489.0,549.08 1490.0,550.43 1491.0,551.76 1492.0,553.07 1493.0,554.35 1494.0,555.59 1495.0,556.79 1496.0,557.96 1497.0,559.08 1498.0,560.16 1499.0,561.20 1500.0,562.20 1501.0,563.17 1502.0,564.09 1503.0,564.98 1504.0,565.84 1505.0,566.68 1506.0,567.48 1507.0,568.27 1508.0,569.03 1509.0,569.77 1510.0,570.50 1511.0,571.22 1512.0,571.93 1513.0,572.62 1514.0,573.31 1515.0,573.99 1516.0,574.67 1517.0,575.33 1518.0,576.00 1519.0,576.66 1520.0,577.32 1521.0,577.97 1522.0,578.63 1523.0,579.29 1524.0,579.95 1525.0,580.62 1526.0,581.29 1527.0,581.97 1528.0,582.65 1529.0,583.33 1530.0,584.02 1531.0,584.71 1532.0,585.41 1533.0,586.10 1534.0,586.79 1535.0,587.49 1536.0,588.18 1537.0,588.87 1538.0,589.56 1539.0,590.25 1540.0,590.93 1541.0,591.60 1542.0,592.28 1543.0,592.94 1544.0,593.60 1545.0,594.26 1546.0,594.90 1547.0,595.54 1548.0,596.17 1549.0,596.79 1550.0,597.41 1551.0,598.01 1552.0,598.60 1553.0,599.18 1554.0,599.75 1555.0,600.31 1556.0,600.85 1557.0,601.39 1558.0,601.92 1559.0,602.43 1560.0,602.93 1561.0,603.42 1562.0,603.90 1563.0,604.37 1564.0,604.83 1565.0,605.28 1566.0,605.71 1567.0,606.13 1568.0,606.55 1569.0,606.95 1570.0,607.33 1571.0,607.71 1572.0,608.08 1573.0,608.44 1574.0,608.78 1575.0,609.11 1576.0,609.44 1577.0,609.75 1578.0,610.05 1579.0,610.34 1580.0,610.62 1581.0,610.89 1582.0,611.15 1583.0,611.40 1584.0,611.65 1585.0,611.88 1586.0,612.10 1587.0,612.31 1588.0,612.52 1589.0,612.71 1590.0,612.90 1591.0,613.07 1592.0,613.24 1593.0,613.40 1594.0,613.56 1595.0,613.70 1596.0,613.84 1597.0,613.97 1598.0,614.09 1599.0,614.20 1600.0,614.31 1601.0,614.41 1602.0,614.51 1603.0,614.60 1604.0,614.68 1605.0,614.75 1606.0,614.82 1607.0,614.89 1608.0,614.95 1609.0,615.00 1610.0,615.04 1611.0,615.09 1612.0,615.12 1613.0,615.15 1614.0,615.18 1615.0,615.20 1616.0,615.22 1617.0,615.23 1618.0,615.24 1619.0,615.25 1620.0,615.25 1621.0,615.25 1622.0,615.24 1623.0,615.23 1624.0,615.21 1625.0,615.20 1626.0,615.18 1627.0,615.15 1628.0,615.12 1629.0,615.09 1630.0,615.06 1631.0,615.02 1632.0,614.98 1633.0,614.94 1634.0,614.89 1635.0,614.84 1636.0,614.79 1637.0,614.74 1638.0,614.68 1639.0,614.62 1640.0,614.56 1641.0,614.49 1642.0,614.42 1643.0,614.35 1644.0,614.28 1645.0,614.20 1646.0,614.12 1647.0,614.04 1648.0,613.96 1649.0,613.87 1650.0,613.78 1651.0,613.69 1652.0,613.59 1653.0,613.49 1654.0,613.39 1655.0,613.28 1656.0,613.18 1657.0,613.06 1658.0,612.95 1659.0,612.83 1660.0,612.70 1661.0,612.57 1662.0,612.44 1663.0,612.30 1664.0,612.16 1665.0,612.01 1666.0,611.86 1667.0,611.70 1668.0,611.53 1669.0,611.36 1670.0,611.18 1671.0,610.99 1672.0,610.79 1673.0,610.58 1674.0,610.36 1675.0,610.13 1676.0,609.89 1677.0,609.64 1678.0,609.37 1679.0,609.09 1680.0,608.79 1681.0,608.48 1682.0,608.15 1683.0,607.80 1684.0,607.44 1685.0,607.05 1686.0,606.65 1687.0,606.22 1688.0,605.78 1689.0,605.31 1690.0,604.82 1691.0,604.31 1692.0,603.77 1693.0,603.21 1694.0,602.63 1695.0,602.03 1696.0,601.40 1697.0,600.76 1698.0,600.10 1699.0,599.41 1700.0,598.71 1701.0,598.00 1702.0,597.27 1703.0,596.54 1704.0,595.79 1705.0,595.04 1706.0,594.28 1707.0,593.53 1708.0,592.78 1709.0,592.03 1710.0,591.30 1711.0,590.57 1712.0,589.87 1713.0,589.18 1714.0,588.52 1715.0,587.89 1716.0,587.29 1717.0,586.72 1718.0,586.19 1719.0,585.70 1720.0,585.25 1721.0,584.85 1722.0,584.49 1723.0,584.18 1724.0,583.92 1725.0,583.72 1726.0,583.56 1727.0,583.46 1728.0,583.40 1729.0,583.40 1730.0,583.45 1731.0,583.55 1732.0,583.69 1733.0,583.89 1734.0,584.12 1735.0,584.40 1736.0,584.72 1737.0,585.07 1738.0,585.46 1739.0,585.88 1740.0,586.32 1741.0,586.80 1742.0,587.29 1743.0,587.80 1744.0,588.33 1745.0,588.87 1746.0,589.42 1747.0,589.98 1748.0,590.55 1749.0,591.12 1750.0,591.68 1751.0,592.25 1752.0,592.82 1753.0,593.38 1754.0,593.94 1755.0,594.49 1756.0,595.03 1757.0,595.56 1758.0,596.09 1759.0,596.61 1760.0,597.11 1761.0,597.61 1762.0,598.10 1763.0,598.59 1764.0,599.06 1765.0,599.52 1766.0,599.98 1767.0,600.43 1768.0,600.87 1769.0,601.31 1770.0,601.74 1771.0,602.16 1772.0,602.58 1773.0,603.00 1774.0,603.41 1775.0,603.82 1776.0,604.23 1777.0,604.63 1778.0,605.04 1779.0,605.44 1780.0,605.84 1781.0,606.24 1782.0,606.63 1783.0,607.03 1784.0,607.43 1785.0,607.82 1786.0,608.22 1787.0,608.61 1788.0,609.01 1789.0,609.40 1790.0,609.80 1791.0,610.19 1792.0,610.58 1793.0,610.97 1794.0,611.36 1795.0,611.75 1796.0,612.13 1797.0,612.52 1798.0,612.90 1799.0,613.28 1800.0,613.66 1801.0,614.03 1802.0,614.40 1803.0,614.77 1804.0,615.13 1805.0,615.49 1806.0,615.84 1807.0,616.19 1808.0,616.53 1809.0,616.87 1810.0,617.20 1811.0,617.53 1812.0,617.85 1813.0,618.16 1814.0,618.47 1815.0,618.77 1816.0,619.06 1817.0,619.35 1818.0,619.62 1819.0,619.89 1820.0,620.15 1821.0,620.41 1822.0,620.65 1823.0,620.89 1824.0,621.12 1825.0,621.35 1826.0,621.56 1827.0,621.77 1828.0,621.97 1829.0,622.17 1830.0,622.36 1831.0,622.55 1832.0,622.73 1833.0,622.90 1834.0,623.07 1835.0,623.24 1836.0,623.41 1837.0,623.57 1838.0,623.73 1839.0,623.89 1840.0,624.05 1841.0,624.20 1842.0,624.36 1843.0,624.52 1844.0,624.68 1845.0,624.83 1846.0,624.99 1847.0,625.15 1848.0,625.30 1849.0,625.46 1850.0,625.62 1851.0,625.77 1852.0,625.93 1853.0,626.08 1854.0,626.23 1855.0,626.38 1856.0,626.52 1857.0,626.66 1858.0,626.80 1859.0,626.93 1860.0,627.05 1861.0,627.17 1862.0,627.28 1863.0,627.38 1864.0,627.47 1865.0,627.55 1866.0,627.61 1867.0,627.67 1868.0,627.71 1869.0,627.73 1870.0,627.74 1871.0,627.74 1872.0,627.71 1873.0,627.66 1874.0,627.60 1875.0,627.51 1876.0,627.41 1877.0,627.28 1878.0,627.13 1879.0,626.96 1880.0,626.76 1881.0,626.55 1882.0,626.31 1883.0,626.06 1884.0,625.79 1885.0,625.50 1886.0,625.21 1887.0,624.90 1888.0,624.59 1889.0,624.27 1890.0,623.95 1891.0,623.64 1892.0,623.34 1893.0,623.04 1894.0,622.76 1895.0,622.50 1896.0,622.27 1897.0,622.05 1898.0,621.86 1899.0,621.70 1900.0,621.56 1901.0,621.45 1902.0,621.37 1903.0,621.32 1904.0,621.29 1905.0,621.28 1906.0,621.30 1907.0,621.32 1908.0,621.37 1909.0,621.41 1910.0,621.47 1911.0,621.52 1912.0,621.57 1913.0,621.62 1914.0,621.65 1915.0,621.66 1916.0,621.66 1917.0,621.64 1918.0,621.59 1919.0,621.52 1920.0,621.43 1921.0,621.32 1922.0,621.19 1923.0,621.05 1924.0,620.90 1925.0,620.75 1926.0,620.60 1927.0,620.47 1928.0,620.36 1929.0,620.28 1930.0,620.24 1931.0,620.23 1932.0,620.25 1933.0,620.31 1934.0,620.39 1935.0,620.49 1936.0,620.60 1937.0,620.72 1938.0,620.84 1939.0,620.96 1940.0,621.08 1941.0,621.18 1942.0,621.28 1943.0,621.36 1944.0,621.44 1945.0,621.51 1946.0,621.56 1947.0,621.61 1948.0,621.65 1949.0,621.68 1950.0,621.70 1951.0,621.72 1952.0,621.74 1953.0,621.75 1954.0,621.76 1955.0,621.76 1956.0,621.77 1957.0,621.77 1958.0,621.77 1959.0,621.77 1960.0,621.77 1961.0,621.77 1962.0,621.77 1963.0,621.77 1964.0,621.77 1965.0,621.77 1966.0,621.78 1967.0,621.78 1968.0,621.79 1969.0,621.80 1970.0,621.81 1971.0,621.83 1972.0,621.85 1973.0,621.87 1974.0,621.89 1975.0,621.92 1976.0,621.95 1977.0,621.98 1978.0,622.01 1979.0,622.05 1980.0,622.10 1981.0,622.14 1982.0,622.19 1983.0,622.25 1984.0,622.31 1985.0,622.37 1986.0,622.43 1987.0,622.50 1988.0,622.57 1989.0,622.65 1990.0,622.73 1991.0,622.82 1992.0,622.91 1993.0,623.00 1994.0,623.10 1995.0,623.20 1996.0,623.30 1997.0,623.41 1998.0,623.52 1999.0,623.64 2000.0,623.76 2001.0,623.89 2002.0,624.02" fill="none" stroke="#000000" stroke-width="2.9" stroke-linejoin="round" stroke-linecap="butt"/>
<line x1="1143.90" y1="3.70" x2="1143.90" y2="638.70" stroke="#000" stroke-width="2.6" stroke-linecap="butt"/>
<line x1="1131.10" y1="637.40" x2="2003.90" y2="637.40" stroke="#000" stroke-width="2.6" stroke-linecap="butt"/>
<line x1="1131.10" y1="5.10" x2="1143.90" y2="5.10" stroke="#000" stroke-width="2.2" stroke-linecap="butt"/>
<line x1="1136.90" y1="50.26" x2="1143.90" y2="50.26" stroke="#000" stroke-width="2.2" stroke-linecap="butt"/>
<line x1="1131.10" y1="95.43" x2="1143.90" y2="95.43" stroke="#000" stroke-width="2.2" stroke-linecap="butt"/>
<line x1="1136.90" y1="140.59" x2="1143.90" y2="140.59" stroke="#000" stroke-width="2.2" stroke-linecap="butt"/>
<line x1="1131.10" y1="185.76" x2="1143.90" y2="185.76" stroke="#000" stroke-width="2.2" stroke-linecap="butt"/>
<line x1="1136.90" y1="230.92" x2="1143.90" y2="230.92" stroke="#000" stroke-width="2.2" stroke-linecap="butt"/>
<line x1="1131.10" y1="276.09" x2="1143.90" y2="276.09" stroke="#000" stroke-width="2.2" stroke-linecap="butt"/>
<line x1="1136.90" y1="321.25" x2="1143.90" y2="321.25" stroke="#000" stroke-width="2.2" stroke-linecap="butt"/>
<line x1="1131.10" y1="366.41" x2="1143.90" y2="366.41" stroke="#000" stroke-width="2.2" stroke-linecap="butt"/>
<line x1="1136.90" y1="411.58" x2="1143.90" y2="411.58" stroke="#000" stroke-width="2.2" stroke-linecap="butt"/>
<line x1="1131.10" y1="456.74" x2="1143.90" y2="456.74" stroke="#000" stroke-width="2.2" stroke-linecap="butt"/>
<line x1="1136.90" y1="501.91" x2="1143.90" y2="501.91" stroke="#000" stroke-width="2.2" stroke-linecap="butt"/>
<line x1="1131.10" y1="547.07" x2="1143.90" y2="547.07" stroke="#000" stroke-width="2.2" stroke-linecap="butt"/>
<line x1="1136.90" y1="592.24" x2="1143.90" y2="592.24" stroke="#000" stroke-width="2.2" stroke-linecap="butt"/>
<line x1="1143.90" y1="637.40" x2="1143.90" y2="649.40" stroke="#000" stroke-width="2.2" stroke-linecap="butt"/>
<line x1="1201.13" y1="637.40" x2="1201.13" y2="643.40" stroke="#000" stroke-width="2.2" stroke-linecap="butt"/>
<line x1="1258.37" y1="637.40" x2="1258.37" y2="649.40" stroke="#000" stroke-width="2.2" stroke-linecap="butt"/>
<line x1="1315.61" y1="637.40" x2="1315.61" y2="643.40" stroke="#000" stroke-width="2.2" stroke-linecap="butt"/>
<line x1="1372.84" y1="637.40" x2="1372.84" y2="649.40" stroke="#000" stroke-width="2.2" stroke-linecap="butt"/>
<line x1="1430.08" y1="637.40" x2="1430.08" y2="643.40" stroke="#000" stroke-width="2.2" stroke-linecap="butt"/>
<line x1="1487.31" y1="637.40" x2="1487.31" y2="649.40" stroke="#000" stroke-width="2.2" stroke-linecap="butt"/>
<line x1="1544.54" y1="637.40" x2="1544.54" y2="643.40" stroke="#000" stroke-width="2.2" stroke-linecap="butt"/>
<line x1="1601.78" y1="637.40" x2="1601.78" y2="649.40" stroke="#000" stroke-width="2.2" stroke-linecap="butt"/>
<line x1="1659.02" y1="637.40" x2="1659.02" y2="643.40" stroke="#000" stroke-width="2.2" stroke-linecap="butt"/>
<line x1="1716.25" y1="637.40" x2="1716.25" y2="649.40" stroke="#000" stroke-width="2.2" stroke-linecap="butt"/>
<line x1="1773.48" y1="637.40" x2="1773.48" y2="643.40" stroke="#000" stroke-width="2.2" stroke-linecap="butt"/>
<line x1="1830.72" y1="637.40" x2="1830.72" y2="649.40" stroke="#000" stroke-width="2.2" stroke-linecap="butt"/>
<line x1="1887.95" y1="637.40" x2="1887.95" y2="643.40" stroke="#000" stroke-width="2.2" stroke-linecap="butt"/>
<line x1="1945.19" y1="637.40" x2="1945.19" y2="649.40" stroke="#000" stroke-width="2.2" stroke-linecap="butt"/>
<line x1="2002.42" y1="637.40" x2="2002.42" y2="643.40" stroke="#000" stroke-width="2.2" stroke-linecap="butt"/>
<text x="1104.15" y="695.00" textLength="68.76" lengthAdjust="spacingAndGlyphs" style="font-family:'Liberation Sans', sans-serif;font-size:32.60px;font-weight:400;stroke:#000;stroke-width:0.35px" fill="#000">1800</text>
<text x="1218.75" y="695.00" textLength="68.76" lengthAdjust="spacingAndGlyphs" style="font-family:'Liberation Sans', sans-serif;font-size:32.60px;font-weight:400;stroke:#000;stroke-width:0.35px" fill="#000">1750</text>
<text x="1332.54" y="695.00" textLength="68.97" lengthAdjust="spacingAndGlyphs" style="font-family:'Liberation Sans', sans-serif;font-size:32.60px;font-weight:400;stroke:#000;stroke-width:0.35px" fill="#000">1700</text>
<text x="1446.52" y="695.00" textLength="69.61" lengthAdjust="spacingAndGlyphs" style="font-family:'Liberation Sans', sans-serif;font-size:32.60px;font-weight:400;stroke:#000;stroke-width:0.35px" fill="#000">1650</text>
<text x="1562.05" y="695.00" textLength="68.76" lengthAdjust="spacingAndGlyphs" style="font-family:'Liberation Sans', sans-serif;font-size:32.60px;font-weight:400;stroke:#000;stroke-width:0.35px" fill="#000">1600</text>
<text x="1676.13" y="695.00" textLength="69.29" lengthAdjust="spacingAndGlyphs" style="font-family:'Liberation Sans', sans-serif;font-size:32.60px;font-weight:400;stroke:#000;stroke-width:0.35px" fill="#000">1550</text>
<text x="1790.65" y="695.00" textLength="68.76" lengthAdjust="spacingAndGlyphs" style="font-family:'Liberation Sans', sans-serif;font-size:32.60px;font-weight:400;stroke:#000;stroke-width:0.35px" fill="#000">1500</text>
<text x="1905.25" y="695.00" textLength="68.66" lengthAdjust="spacingAndGlyphs" style="font-family:'Liberation Sans', sans-serif;font-size:32.60px;font-weight:400;stroke:#000;stroke-width:0.35px" fill="#000">1450</text>
<line x1="1146.30" y1="6.30" x2="1146.30" y2="50.40" stroke="#a0a0a0" stroke-width="2.4" stroke-linecap="butt"/>
<text x="1147.87" y="45.50" textLength="108.40" lengthAdjust="spacingAndGlyphs" style="font-family:'Liberation Sans', sans-serif;font-size:32.00px;font-weight:400;stroke:#000;stroke-width:0.35px" fill="#000">0.5 A.u.</text>
<text x="1025.66" y="58.20" textLength="31.74" lengthAdjust="spacingAndGlyphs" style="font-family:'Liberation Sans', sans-serif;font-size:50.80px;font-weight:700;stroke:#000;stroke-width:0.9px" fill="#000">B</text>
<line x1="1532.80" y1="52.00" x2="1598.50" y2="52.00" stroke="#800080" stroke-width="2.8" stroke-linecap="butt"/>
<text x="1604.03" y="61.30" textLength="157.86" lengthAdjust="spacingAndGlyphs" style="font-family:'Liberation Sans', sans-serif;font-size:27.80px;font-weight:400;stroke:#000;stroke-width:0.35px" fill="#000">RBCEV + 10</text>
<text x="1763.68" y="61.30" textLength="83.47" lengthAdjust="spacingAndGlyphs" style="font-family:'Liberation Sans', sans-serif;font-size:25.60px;font-weight:400;stroke:#000;stroke-width:0.35px" fill="#000">×DPPC</text>
<line x1="1532.80" y1="86.60" x2="1598.50" y2="86.60" stroke="#008000" stroke-width="2.8" stroke-linecap="butt"/>
<text x="1603.73" y="96.20" textLength="214.63" lengthAdjust="spacingAndGlyphs" style="font-family:'Liberation Sans', sans-serif;font-size:25.60px;font-weight:400;stroke:#000;stroke-width:0.35px" fill="#000">RBCEV + 5×DPPC</text>
<line x1="1532.80" y1="120.80" x2="1598.50" y2="120.80" stroke="#0000ff" stroke-width="2.8" stroke-linecap="butt"/>
<text x="1603.73" y="130.40" textLength="214.63" lengthAdjust="spacingAndGlyphs" style="font-family:'Liberation Sans', sans-serif;font-size:25.60px;font-weight:400;stroke:#000;stroke-width:0.35px" fill="#000">RBCEV + 2×DPPC</text>
<line x1="1532.80" y1="155.50" x2="1598.50" y2="155.50" stroke="#ff0000" stroke-width="2.8" stroke-linecap="butt"/>
<text x="1603.73" y="165.10" textLength="214.63" lengthAdjust="spacingAndGlyphs" style="font-family:'Liberation Sans', sans-serif;font-size:25.60px;font-weight:400;stroke:#000;stroke-width:0.35px" fill="#000">RBCEV + 1×DPPC</text>
<line x1="1532.80" y1="190.00" x2="1598.50" y2="190.00" stroke="#808000" stroke-width="2.8" stroke-linecap="butt"/>
<text x="1603.72" y="199.60" textLength="236.44" lengthAdjust="spacingAndGlyphs" style="font-family:'Liberation Sans', sans-serif;font-size:25.60px;font-weight:400;stroke:#000;stroke-width:0.35px" fill="#000">RBCEV + 0.5×DPPC</text>
<line x1="1532.80" y1="224.60" x2="1598.50" y2="224.60" stroke="#000000" stroke-width="2.8" stroke-linecap="butt"/>
<text x="1603.77" y="234.20" textLength="85.24" lengthAdjust="spacingAndGlyphs" style="font-family:'Liberation Sans', sans-serif;font-size:25.60px;font-weight:400;stroke:#000;stroke-width:0.35px" fill="#000">RBCEV</text>
<text transform="translate(1097.00,481.56) rotate(-90)" x="0" y="0" textLength="320.19" lengthAdjust="spacingAndGlyphs" style="font-family:'Liberation Sans', sans-serif;font-size:30.60px;font-weight:400;stroke:#000;stroke-width:0.35px" fill="#000">Absorbance / arb. units</text>
<text x="1474.96" y="741.90" textLength="255.21" lengthAdjust="spacingAndGlyphs" style="font-family:'Liberation Sans', sans-serif;font-size:32.60px;font-weight:400;stroke:#000;stroke-width:0.35px" fill="#000">Wavenumber / cm</text>
<text x="1730.87" y="727.30" textLength="26.59" lengthAdjust="spacingAndGlyphs" style="font-family:'Liberation Sans', sans-serif;font-size:30.00px;font-weight:400;stroke:#000;stroke-width:0.35px" fill="#000">-1</text>
<text transform="translate(1306.20,150.08) rotate(-90)" x="0" y="0" textLength="63.64" lengthAdjust="spacingAndGlyphs" style="font-family:'Liberation Sans', sans-serif;font-size:29.60px;font-weight:400;stroke:#000;stroke-width:0.35px" fill="#000">1736</text>
<text transform="translate(1288.00,445.84) rotate(-90)" x="0" y="0" textLength="62.45" lengthAdjust="spacingAndGlyphs" style="font-family:'Liberation Sans', sans-serif;font-size:29.60px;font-weight:400;stroke:#000;stroke-width:0.35px" fill="#000">1737</text>
<text transform="translate(1483.10,332.63) rotate(-90)" x="0" y="0" textLength="62.13" lengthAdjust="spacingAndGlyphs" style="font-family:'Liberation Sans', sans-serif;font-size:29.60px;font-weight:400;stroke:#000;stroke-width:0.35px" fill="#000">1657</text>
<text transform="translate(1736.60,404.02) rotate(-90)" x="0" y="0" textLength="61.83" lengthAdjust="spacingAndGlyphs" style="font-family:'Liberation Sans', sans-serif;font-size:29.60px;font-weight:400;stroke:#000;stroke-width:0.35px" fill="#000">1544</text>
<text transform="translate(1916.60,293.08) rotate(-90)" x="0" y="0" textLength="60.65" lengthAdjust="spacingAndGlyphs" style="font-family:'Liberation Sans', sans-serif;font-size:29.60px;font-weight:400;stroke:#000;stroke-width:0.35px" fill="#000">1467</text>
<text x="1256.83" y="70.30" textLength="12.62" lengthAdjust="spacingAndGlyphs" style="font-family:'Liberation Serif', serif;font-size:31.00px;font-weight:400;stroke:#000;stroke-width:0.35px" fill="#000">ν</text>
<text x="1270.34" y="70.40" textLength="64.26" lengthAdjust="spacingAndGlyphs" style="font-family:'Liberation Sans', sans-serif;font-size:30.50px;font-weight:700;stroke:#000;stroke-width:0.2px" fill="#000">C=O</text>
<text x="1401.70" y="252.40" textLength="106.27" lengthAdjust="spacingAndGlyphs" style="font-family:'Liberation Sans', sans-serif;font-size:28.40px;font-weight:700;stroke:#000;stroke-width:0.2px" fill="#000">amide I</text>
<text x="1651.10" y="325.70" textLength="114.56" lengthAdjust="spacingAndGlyphs" style="font-family:'Liberation Sans', sans-serif;font-size:28.40px;font-weight:700;stroke:#000;stroke-width:0.2px" fill="#000">amide II</text>
<text x="1901.15" y="217.00" textLength="15.71" lengthAdjust="spacingAndGlyphs" style="font-family:'Liberation Serif', serif;font-size:28.00px;font-weight:400;stroke:#000;stroke-width:0.35px" fill="#000">δ</text>
<text x="1915.91" y="217.00" textLength="45.41" lengthAdjust="spacingAndGlyphs" style="font-family:'Liberation Sans', sans-serif;font-size:29.50px;font-weight:700;stroke:#000;stroke-width:0.2px" fill="#000">CH</text>
<text x="1960.59" y="226.50" textLength="11.32" lengthAdjust="spacingAndGlyphs" style="font-family:'Liberation Sans', sans-serif;font-size:17.50px;font-weight:700;stroke:#000;stroke-width:0.2px" fill="#000">2</text>
<line x1="1292.60" y1="164.70" x2="1292.60" y2="365.50" stroke="#000" stroke-width="2.45" stroke-linecap="butt" stroke-dasharray="6.00 5.46"/>
<line x1="1285.80" y1="452.90" x2="1285.80" y2="616.80" stroke="#000" stroke-width="2.45" stroke-linecap="butt" stroke-dasharray="6.00 5.28"/>
<line x1="1474.00" y1="346.50" x2="1474.00" y2="558.50" stroke="#000" stroke-width="2.45" stroke-linecap="butt" stroke-dasharray="6.00 5.44"/>
<line x1="1729.30" y1="417.40" x2="1729.30" y2="595.30" stroke="#000" stroke-width="2.45" stroke-linecap="butt" stroke-dasharray="6.00 5.46"/>
<line x1="1904.60" y1="292.40" x2="1904.60" y2="608.10" stroke="#000" stroke-width="2.45" stroke-linecap="butt" stroke-dasharray="6.00 5.47"/>
</g>
</svg></body></html>
